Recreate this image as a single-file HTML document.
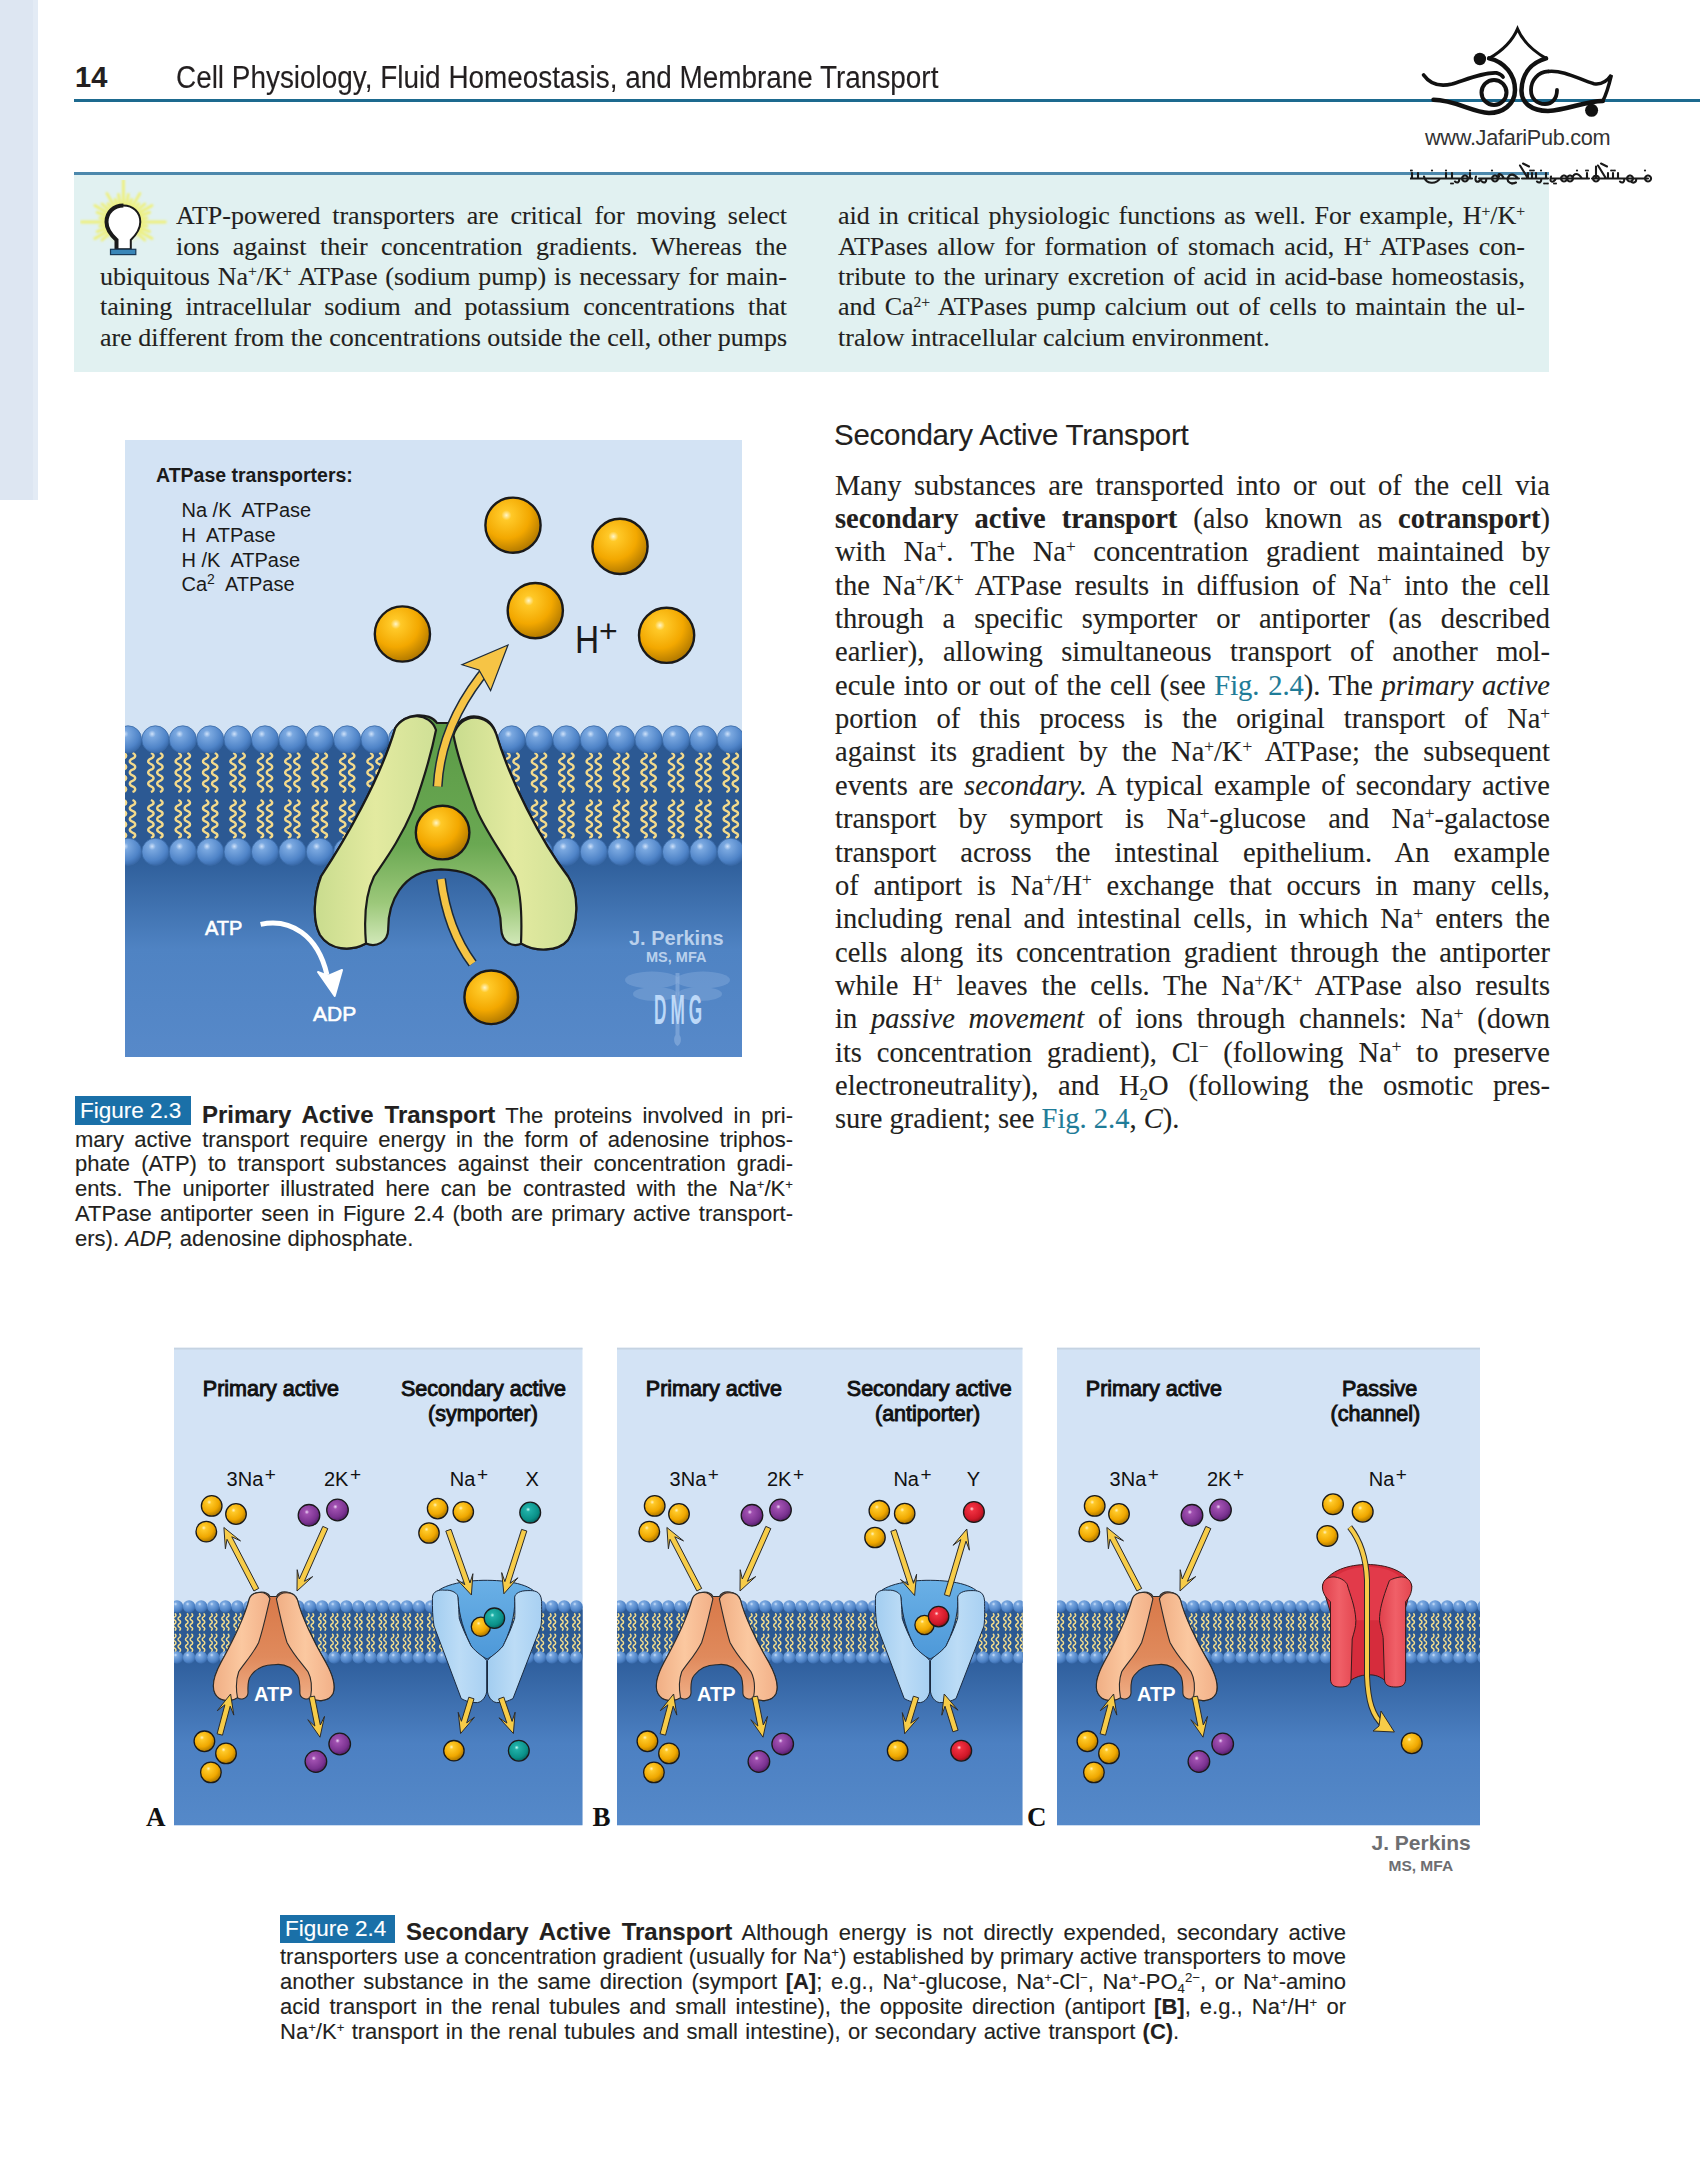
<!DOCTYPE html>
<html><head><meta charset="utf-8"><title>Cell Physiology p14</title>
<style>
html,body{margin:0;padding:0}
body{width:1700px;height:2175px;position:relative;overflow:hidden;background:#fff;color:#231f20}
.a{position:absolute;white-space:nowrap}
.sf{font-family:"Liberation Serif",serif;-webkit-text-stroke-width:0.12px}
.ss{font-family:"Liberation Sans",sans-serif;-webkit-text-stroke-width:0.12px}
.jl{position:absolute;text-align:justify;text-align-last:justify;white-space:normal;overflow:visible}
sup,sub{font-size:0.6em;line-height:0;position:relative;vertical-align:baseline}
sup{top:-0.55em}
sub{top:0.3em}
.link{color:#1f7c98}
.figlab{background:#1a70a8;color:#fff;padding:0 5px}
</style></head><body>

<!-- left strip -->
<div class="a" style="left:0;top:0;width:33px;height:500px;background:#dde6f2"></div>
<div class="a" style="left:33px;top:0;width:5px;height:500px;background:#e3ebf5"></div>

<!-- header -->
<div class="a ss" id="pgnum" style="left:75px;top:61px;font-size:29px;font-weight:bold;line-height:32px">14</div>
<div class="a ss" id="hdr" style="left:176px;top:60.5px;font-size:31px;line-height:34px;transform:scaleX(0.9);transform-origin:0 0">Cell Physiology, Fluid Homeostasis, and Membrane Transport</div>
<div class="a" style="left:74px;top:99px;width:1626px;height:3px;background:#1d6a8f"></div>

<!-- callout box -->
<div class="a" style="left:74px;top:172px;width:1475px;height:200px;background:#e1f1f1"></div>
<div class="a" style="left:74px;top:172px;width:1475px;height:3px;background:#4c88ac"></div>

<div id="callout" class="sf" style="position:absolute;left:0;top:0;font-size:26px">
<div class="jl" style="left:176px;top:201.1px;width:611px;line-height:30px">ATP-powered transporters are critical for moving select</div>
<div class="jl" style="left:176px;top:231.5px;width:611px;line-height:30px">ions against their concentration gradients. Whereas the</div>
<div class="jl" style="left:100px;top:262px;width:687px;line-height:30px">ubiquitous Na<sup>+</sup>/K<sup>+</sup> ATPase (sodium pump) is necessary for main-</div>
<div class="jl" style="left:100px;top:292.4px;width:687px;line-height:30px">taining intracellular sodium and potassium concentrations that</div>
<div class="jl" style="left:100px;top:322.9px;width:687px;line-height:30px">are different from the concentrations outside the cell, other pumps</div>
<div class="jl" style="left:838px;top:201.1px;width:687px;line-height:30px">aid in critical physiologic functions as well. For example, H<sup>+</sup>/K<sup>+</sup></div>
<div class="jl" style="left:838px;top:231.5px;width:687px;line-height:30px">ATPases allow for formation of stomach acid, H<sup>+</sup> ATPases con-</div>
<div class="jl" style="left:838px;top:262px;width:687px;line-height:30px">tribute to the urinary excretion of acid in acid-base homeostasis,</div>
<div class="jl" style="left:838px;top:292.4px;width:687px;line-height:30px">and Ca<sup>2+</sup> ATPases pump calcium out of cells to maintain the ul-</div>
<div class="a" style="left:838px;top:322.9px;line-height:30px">tralow intracellular calcium environment.</div>
</div>

<!-- section heading -->
<div class="a ss" id="sec" style="left:834px;top:418px;font-size:29.5px;line-height:33px;letter-spacing:-0.24px">Secondary Active Transport</div>

<div id="body" class="sf" style="position:absolute;left:0;top:-1px;font-size:28.5px">
<div class="jl" style="left:835px;top:469.5px;width:715px;line-height:33px">Many substances are transported into or out of the cell via</div>
<div class="jl" style="left:835px;top:502.9px;width:715px;line-height:33px"><b>secondary active transport</b> (also known as <b>cotransport</b>)</div>
<div class="jl" style="left:835px;top:536.2px;width:715px;line-height:33px">with Na<sup>+</sup>. The Na<sup>+</sup> concentration gradient maintained by</div>
<div class="jl" style="left:835px;top:569.6px;width:715px;line-height:33px">the Na<sup>+</sup>/K<sup>+</sup> ATPase results in diffusion of Na<sup>+</sup> into the cell</div>
<div class="jl" style="left:835px;top:602.9px;width:715px;line-height:33px">through a specific symporter or antiporter (as described</div>
<div class="jl" style="left:835px;top:636.3px;width:715px;line-height:33px">earlier), allowing simultaneous transport of another mol-</div>
<div class="jl" style="left:835px;top:669.7px;width:715px;line-height:33px">ecule into or out of the cell (see <span class="link">Fig. 2.4</span>). The <i>primary active</i></div>
<div class="jl" style="left:835px;top:703.0px;width:715px;line-height:33px">portion of this process is the original transport of Na<sup>+</sup></div>
<div class="jl" style="left:835px;top:736.4px;width:715px;line-height:33px">against its gradient by the Na<sup>+</sup>/K<sup>+</sup> ATPase; the subsequent</div>
<div class="jl" style="left:835px;top:769.7px;width:715px;line-height:33px">events are <i>secondary.</i> A typical example of secondary active</div>
<div class="jl" style="left:835px;top:803.1px;width:715px;line-height:33px">transport by symport is Na<sup>+</sup>-glucose and Na<sup>+</sup>-galactose</div>
<div class="jl" style="left:835px;top:836.5px;width:715px;line-height:33px">transport across the intestinal epithelium. An example</div>
<div class="jl" style="left:835px;top:869.8px;width:715px;line-height:33px">of antiport is Na<sup>+</sup>/H<sup>+</sup> exchange that occurs in many cells,</div>
<div class="jl" style="left:835px;top:903.2px;width:715px;line-height:33px">including renal and intestinal cells, in which Na<sup>+</sup> enters the</div>
<div class="jl" style="left:835px;top:936.5px;width:715px;line-height:33px">cells along its concentration gradient through the antiporter</div>
<div class="jl" style="left:835px;top:969.9px;width:715px;line-height:33px">while H<sup>+</sup> leaves the cells. The Na<sup>+</sup>/K<sup>+</sup> ATPase also results</div>
<div class="jl" style="left:835px;top:1003.3px;width:715px;line-height:33px">in <i>passive movement</i> of ions through channels: Na<sup>+</sup> (down</div>
<div class="jl" style="left:835px;top:1036.6px;width:715px;line-height:33px">its concentration gradient), Cl<sup>&minus;</sup> (following Na<sup>+</sup> to preserve</div>
<div class="jl" style="left:835px;top:1070.0px;width:715px;line-height:33px">electroneutrality), and H<sub>2</sub>O (following the osmotic pres-</div>
<div class="a" style="left:835px;top:1103.3px;line-height:33px">sure gradient; see <span class="link">Fig. 2.4</span>, <i>C</i>).</div>
</div>

<!-- Figure 2.3 caption -->
<div id="cap23" class="ss" style="position:absolute;left:0;top:-1px;font-size:22px">
<div class="a" style="left:75px;top:1097px;width:116px;height:29px;background:#1a70a8"></div>
<div class="a" style="left:80px;top:1099px;line-height:25px;color:#fff;font-size:22.5px">Figure 2.3</div>
<div class="jl" style="left:202px;top:1102.5px;width:591px;line-height:25px"><b style="font-size:24px">Primary Active Transport</b> The proteins involved in pri-</div>
<div class="jl" style="left:75px;top:1127.5px;width:718px;line-height:25px">mary active transport require energy in the form of adenosine triphos-</div>
<div class="jl" style="left:75px;top:1152.3px;width:718px;line-height:25px">phate (ATP) to transport substances against their concentration gradi-</div>
<div class="jl" style="left:75px;top:1177.2px;width:718px;line-height:25px">ents. The uniporter illustrated here can be contrasted with the Na<sup>+</sup>/K<sup>+</sup></div>
<div class="jl" style="left:75px;top:1202px;width:718px;line-height:25px">ATPase antiporter seen in Figure 2.4 (both are primary active transport-</div>
<div class="a" style="left:75px;top:1226.9px;line-height:25px">ers). <i>ADP,</i> adenosine diphosphate.</div>
</div>

<!-- Figure 2.4 caption -->
<div id="cap24" class="ss" style="position:absolute;left:0;top:-1.5px;font-size:22px">
<div class="a" style="left:280px;top:1916px;width:115px;height:28px;background:#1a70a8"></div>
<div class="a" style="left:285px;top:1917.5px;line-height:25px;color:#fff;font-size:22.5px">Figure 2.4</div>
<div class="jl" style="left:406px;top:1920.5px;width:940px;line-height:25px"><b style="font-size:24px">Secondary Active Transport</b> Although energy is not directly expended, secondary active</div>
<div class="jl" style="left:280px;top:1945.5px;width:1066px;line-height:25px">transporters use a concentration gradient (usually for Na<sup>+</sup>) established by primary active transporters to move</div>
<div class="jl" style="left:280px;top:1970.5px;width:1066px;line-height:25px">another substance in the same direction (symport <b>[A]</b>; e.g., Na<sup>+</sup>-glucose, Na<sup>+</sup>-Cl<sup>&minus;</sup>, Na<sup>+</sup>-PO<sub>4</sub><sup>2&minus;</sup>, or Na<sup>+</sup>-amino</div>
<div class="jl" style="left:280px;top:1995.5px;width:1066px;line-height:25px">acid transport in the renal tubules and small intestine), the opposite direction (antiport <b>[B]</b>, e.g., Na<sup>+</sup>/H<sup>+</sup> or</div>
<div class="a" style="left:280px;top:2020.5px;line-height:25px;word-spacing:1.2px">Na<sup>+</sup>/K<sup>+</sup> transport in the renal tubules and small intestine), or secondary active transport <b>(C)</b>.</div>
</div>

<!--BEGIN fig23-->
<svg class="a" style="left:125px;top:440px" width="617" height="617" viewBox="0 0 617 617">
<defs>
<radialGradient id="gball" cx="0.38" cy="0.32" r="0.7">
<stop offset="0" stop-color="#fff6c8"/><stop offset="0.13" stop-color="#ffc928"/><stop offset="0.6" stop-color="#f3a800"/><stop offset="1" stop-color="#b07800"/></radialGradient>
<radialGradient id="ghead" cx="0.38" cy="0.3" r="0.75">
<stop offset="0" stop-color="#cfe2fa"/><stop offset="0.18" stop-color="#7aa8e0"/><stop offset="0.7" stop-color="#4f84c8"/><stop offset="1" stop-color="#3464a4"/></radialGradient>
<linearGradient id="gcyto" x1="0" y1="0" x2="0" y2="1">
<stop offset="0.39" stop-color="#30609c"/><stop offset="0.66" stop-color="#4f83c3"/><stop offset="1" stop-color="#5789c9"/></linearGradient>
<linearGradient id="globe" x1="0" y1="0" x2="1" y2="0">
<stop offset="0" stop-color="#c9dc8e"/><stop offset="0.5" stop-color="#e3eaa0"/><stop offset="1" stop-color="#cfe096"/></linearGradient>
<linearGradient id="gmid" x1="0" y1="0" x2="0" y2="1">
<stop offset="0" stop-color="#5a9a46"/><stop offset="0.55" stop-color="#6aa852"/><stop offset="0.8" stop-color="#9cc87a"/><stop offset="1" stop-color="#d8ecc0"/></linearGradient>
</defs>
<rect x="0" y="0" width="617" height="617" fill="#d3e3f4"/>
<rect x="0" y="300" width="617" height="317" fill="url(#gcyto)"/>
<rect x="0" y="299" width="617" height="113" fill="#2c5993"/>
<path d="M-28.9,313.0 C-25.3,314.4 -25.3,317.2 -28.9,318.6 C-32.5,320.0 -32.5,322.8 -28.9,324.1 C-25.3,325.5 -25.3,328.3 -28.9,329.7 C-32.5,331.1 -32.5,333.9 -28.9,335.3 C-25.3,336.7 -25.3,339.5 -28.9,340.9 C-32.5,342.2 -32.5,345.0 -28.9,346.4 C-25.3,347.8 -25.3,350.6 -28.9,352.0 M-28.9,360.0 C-25.3,361.4 -25.3,364.1 -28.9,365.4 C-32.5,366.8 -32.5,369.5 -28.9,370.9 C-25.3,372.2 -25.3,374.9 -28.9,376.3 C-32.5,377.6 -32.5,380.4 -28.9,381.7 C-25.3,383.1 -25.3,385.8 -28.9,387.1 C-32.5,388.5 -32.5,391.2 -28.9,392.6 C-25.3,393.9 -25.3,396.6 -28.9,398.0 M-19.9,313.0 C-16.3,314.4 -16.3,317.2 -19.9,318.6 C-23.5,320.0 -23.5,322.8 -19.9,324.1 C-16.3,325.5 -16.3,328.3 -19.9,329.7 C-23.5,331.1 -23.5,333.9 -19.9,335.3 C-16.3,336.7 -16.3,339.5 -19.9,340.9 C-23.5,342.2 -23.5,345.0 -19.9,346.4 C-16.3,347.8 -16.3,350.6 -19.9,352.0 M-19.9,360.0 C-16.3,361.4 -16.3,364.1 -19.9,365.4 C-23.5,366.8 -23.5,369.5 -19.9,370.9 C-16.3,372.2 -16.3,374.9 -19.9,376.3 C-23.5,377.6 -23.5,380.4 -19.9,381.7 C-16.3,383.1 -16.3,385.8 -19.9,387.1 C-23.5,388.5 -23.5,391.2 -19.9,392.6 C-16.3,393.9 -16.3,396.6 -19.9,398.0 M-1.5,313.0 C2.1,314.4 2.1,317.2 -1.5,318.6 C-5.1,320.0 -5.1,322.8 -1.5,324.1 C2.1,325.5 2.1,328.3 -1.5,329.7 C-5.1,331.1 -5.1,333.9 -1.5,335.3 C2.1,336.7 2.1,339.5 -1.5,340.9 C-5.1,342.2 -5.1,345.0 -1.5,346.4 C2.1,347.8 2.1,350.6 -1.5,352.0 M-1.5,360.0 C2.1,361.4 2.1,364.1 -1.5,365.4 C-5.1,366.8 -5.1,369.5 -1.5,370.9 C2.1,372.2 2.1,374.9 -1.5,376.3 C-5.1,377.6 -5.1,380.4 -1.5,381.7 C2.1,383.1 2.1,385.8 -1.5,387.1 C-5.1,388.5 -5.1,391.2 -1.5,392.6 C2.1,393.9 2.1,396.6 -1.5,398.0 M7.5,313.0 C11.1,314.4 11.1,317.2 7.5,318.6 C3.9,320.0 3.9,322.8 7.5,324.1 C11.1,325.5 11.1,328.3 7.5,329.7 C3.9,331.1 3.9,333.9 7.5,335.3 C11.1,336.7 11.1,339.5 7.5,340.9 C3.9,342.2 3.9,345.0 7.5,346.4 C11.1,347.8 11.1,350.6 7.5,352.0 M7.5,360.0 C11.1,361.4 11.1,364.1 7.5,365.4 C3.9,366.8 3.9,369.5 7.5,370.9 C11.1,372.2 11.1,374.9 7.5,376.3 C3.9,377.6 3.9,380.4 7.5,381.7 C11.1,383.1 11.1,385.8 7.5,387.1 C3.9,388.5 3.9,391.2 7.5,392.6 C11.1,393.9 11.1,396.6 7.5,398.0 M25.9,313.0 C29.5,314.4 29.5,317.2 25.9,318.6 C22.3,320.0 22.3,322.8 25.9,324.1 C29.5,325.5 29.5,328.3 25.9,329.7 C22.3,331.1 22.3,333.9 25.9,335.3 C29.5,336.7 29.5,339.5 25.9,340.9 C22.3,342.2 22.3,345.0 25.9,346.4 C29.5,347.8 29.5,350.6 25.9,352.0 M25.9,360.0 C29.5,361.4 29.5,364.1 25.9,365.4 C22.3,366.8 22.3,369.5 25.9,370.9 C29.5,372.2 29.5,374.9 25.9,376.3 C22.3,377.6 22.3,380.4 25.9,381.7 C29.5,383.1 29.5,385.8 25.9,387.1 C22.3,388.5 22.3,391.2 25.9,392.6 C29.5,393.9 29.5,396.6 25.9,398.0 M34.9,313.0 C38.5,314.4 38.5,317.2 34.9,318.6 C31.3,320.0 31.3,322.8 34.9,324.1 C38.5,325.5 38.5,328.3 34.9,329.7 C31.3,331.1 31.3,333.9 34.9,335.3 C38.5,336.7 38.5,339.5 34.9,340.9 C31.3,342.2 31.3,345.0 34.9,346.4 C38.5,347.8 38.5,350.6 34.9,352.0 M34.9,360.0 C38.5,361.4 38.5,364.1 34.9,365.4 C31.3,366.8 31.3,369.5 34.9,370.9 C38.5,372.2 38.5,374.9 34.9,376.3 C31.3,377.6 31.3,380.4 34.9,381.7 C38.5,383.1 38.5,385.8 34.9,387.1 C31.3,388.5 31.3,391.2 34.9,392.6 C38.5,393.9 38.5,396.6 34.9,398.0 M53.3,313.0 C56.9,314.4 56.9,317.2 53.3,318.6 C49.7,320.0 49.7,322.8 53.3,324.1 C56.9,325.5 56.9,328.3 53.3,329.7 C49.7,331.1 49.7,333.9 53.3,335.3 C56.9,336.7 56.9,339.5 53.3,340.9 C49.7,342.2 49.7,345.0 53.3,346.4 C56.9,347.8 56.9,350.6 53.3,352.0 M53.3,360.0 C56.9,361.4 56.9,364.1 53.3,365.4 C49.7,366.8 49.7,369.5 53.3,370.9 C56.9,372.2 56.9,374.9 53.3,376.3 C49.7,377.6 49.7,380.4 53.3,381.7 C56.9,383.1 56.9,385.8 53.3,387.1 C49.7,388.5 49.7,391.2 53.3,392.6 C56.9,393.9 56.9,396.6 53.3,398.0 M62.3,313.0 C65.9,314.4 65.9,317.2 62.3,318.6 C58.7,320.0 58.7,322.8 62.3,324.1 C65.9,325.5 65.9,328.3 62.3,329.7 C58.7,331.1 58.7,333.9 62.3,335.3 C65.9,336.7 65.9,339.5 62.3,340.9 C58.7,342.2 58.7,345.0 62.3,346.4 C65.9,347.8 65.9,350.6 62.3,352.0 M62.3,360.0 C65.9,361.4 65.9,364.1 62.3,365.4 C58.7,366.8 58.7,369.5 62.3,370.9 C65.9,372.2 65.9,374.9 62.3,376.3 C58.7,377.6 58.7,380.4 62.3,381.7 C65.9,383.1 65.9,385.8 62.3,387.1 C58.7,388.5 58.7,391.2 62.3,392.6 C65.9,393.9 65.9,396.6 62.3,398.0 M80.7,313.0 C84.3,314.4 84.3,317.2 80.7,318.6 C77.1,320.0 77.1,322.8 80.7,324.1 C84.3,325.5 84.3,328.3 80.7,329.7 C77.1,331.1 77.1,333.9 80.7,335.3 C84.3,336.7 84.3,339.5 80.7,340.9 C77.1,342.2 77.1,345.0 80.7,346.4 C84.3,347.8 84.3,350.6 80.7,352.0 M80.7,360.0 C84.3,361.4 84.3,364.1 80.7,365.4 C77.1,366.8 77.1,369.5 80.7,370.9 C84.3,372.2 84.3,374.9 80.7,376.3 C77.1,377.6 77.1,380.4 80.7,381.7 C84.3,383.1 84.3,385.8 80.7,387.1 C77.1,388.5 77.1,391.2 80.7,392.6 C84.3,393.9 84.3,396.6 80.7,398.0 M89.7,313.0 C93.3,314.4 93.3,317.2 89.7,318.6 C86.1,320.0 86.1,322.8 89.7,324.1 C93.3,325.5 93.3,328.3 89.7,329.7 C86.1,331.1 86.1,333.9 89.7,335.3 C93.3,336.7 93.3,339.5 89.7,340.9 C86.1,342.2 86.1,345.0 89.7,346.4 C93.3,347.8 93.3,350.6 89.7,352.0 M89.7,360.0 C93.3,361.4 93.3,364.1 89.7,365.4 C86.1,366.8 86.1,369.5 89.7,370.9 C93.3,372.2 93.3,374.9 89.7,376.3 C86.1,377.6 86.1,380.4 89.7,381.7 C93.3,383.1 93.3,385.8 89.7,387.1 C86.1,388.5 86.1,391.2 89.7,392.6 C93.3,393.9 93.3,396.6 89.7,398.0 M108.1,313.0 C111.7,314.4 111.7,317.2 108.1,318.6 C104.5,320.0 104.5,322.8 108.1,324.1 C111.7,325.5 111.7,328.3 108.1,329.7 C104.5,331.1 104.5,333.9 108.1,335.3 C111.7,336.7 111.7,339.5 108.1,340.9 C104.5,342.2 104.5,345.0 108.1,346.4 C111.7,347.8 111.7,350.6 108.1,352.0 M108.1,360.0 C111.7,361.4 111.7,364.1 108.1,365.4 C104.5,366.8 104.5,369.5 108.1,370.9 C111.7,372.2 111.7,374.9 108.1,376.3 C104.5,377.6 104.5,380.4 108.1,381.7 C111.7,383.1 111.7,385.8 108.1,387.1 C104.5,388.5 104.5,391.2 108.1,392.6 C111.7,393.9 111.7,396.6 108.1,398.0 M117.1,313.0 C120.7,314.4 120.7,317.2 117.1,318.6 C113.5,320.0 113.5,322.8 117.1,324.1 C120.7,325.5 120.7,328.3 117.1,329.7 C113.5,331.1 113.5,333.9 117.1,335.3 C120.7,336.7 120.7,339.5 117.1,340.9 C113.5,342.2 113.5,345.0 117.1,346.4 C120.7,347.8 120.7,350.6 117.1,352.0 M117.1,360.0 C120.7,361.4 120.7,364.1 117.1,365.4 C113.5,366.8 113.5,369.5 117.1,370.9 C120.7,372.2 120.7,374.9 117.1,376.3 C113.5,377.6 113.5,380.4 117.1,381.7 C120.7,383.1 120.7,385.8 117.1,387.1 C113.5,388.5 113.5,391.2 117.1,392.6 C120.7,393.9 120.7,396.6 117.1,398.0 M135.5,313.0 C139.1,314.4 139.1,317.2 135.5,318.6 C131.9,320.0 131.9,322.8 135.5,324.1 C139.1,325.5 139.1,328.3 135.5,329.7 C131.9,331.1 131.9,333.9 135.5,335.3 C139.1,336.7 139.1,339.5 135.5,340.9 C131.9,342.2 131.9,345.0 135.5,346.4 C139.1,347.8 139.1,350.6 135.5,352.0 M135.5,360.0 C139.1,361.4 139.1,364.1 135.5,365.4 C131.9,366.8 131.9,369.5 135.5,370.9 C139.1,372.2 139.1,374.9 135.5,376.3 C131.9,377.6 131.9,380.4 135.5,381.7 C139.1,383.1 139.1,385.8 135.5,387.1 C131.9,388.5 131.9,391.2 135.5,392.6 C139.1,393.9 139.1,396.6 135.5,398.0 M144.5,313.0 C148.1,314.4 148.1,317.2 144.5,318.6 C140.9,320.0 140.9,322.8 144.5,324.1 C148.1,325.5 148.1,328.3 144.5,329.7 C140.9,331.1 140.9,333.9 144.5,335.3 C148.1,336.7 148.1,339.5 144.5,340.9 C140.9,342.2 140.9,345.0 144.5,346.4 C148.1,347.8 148.1,350.6 144.5,352.0 M144.5,360.0 C148.1,361.4 148.1,364.1 144.5,365.4 C140.9,366.8 140.9,369.5 144.5,370.9 C148.1,372.2 148.1,374.9 144.5,376.3 C140.9,377.6 140.9,380.4 144.5,381.7 C148.1,383.1 148.1,385.8 144.5,387.1 C140.9,388.5 140.9,391.2 144.5,392.6 C148.1,393.9 148.1,396.6 144.5,398.0 M162.9,313.0 C166.5,314.4 166.5,317.2 162.9,318.6 C159.3,320.0 159.3,322.8 162.9,324.1 C166.5,325.5 166.5,328.3 162.9,329.7 C159.3,331.1 159.3,333.9 162.9,335.3 C166.5,336.7 166.5,339.5 162.9,340.9 C159.3,342.2 159.3,345.0 162.9,346.4 C166.5,347.8 166.5,350.6 162.9,352.0 M162.9,360.0 C166.5,361.4 166.5,364.1 162.9,365.4 C159.3,366.8 159.3,369.5 162.9,370.9 C166.5,372.2 166.5,374.9 162.9,376.3 C159.3,377.6 159.3,380.4 162.9,381.7 C166.5,383.1 166.5,385.8 162.9,387.1 C159.3,388.5 159.3,391.2 162.9,392.6 C166.5,393.9 166.5,396.6 162.9,398.0 M171.9,313.0 C175.5,314.4 175.5,317.2 171.9,318.6 C168.3,320.0 168.3,322.8 171.9,324.1 C175.5,325.5 175.5,328.3 171.9,329.7 C168.3,331.1 168.3,333.9 171.9,335.3 C175.5,336.7 175.5,339.5 171.9,340.9 C168.3,342.2 168.3,345.0 171.9,346.4 C175.5,347.8 175.5,350.6 171.9,352.0 M171.9,360.0 C175.5,361.4 175.5,364.1 171.9,365.4 C168.3,366.8 168.3,369.5 171.9,370.9 C175.5,372.2 175.5,374.9 171.9,376.3 C168.3,377.6 168.3,380.4 171.9,381.7 C175.5,383.1 175.5,385.8 171.9,387.1 C168.3,388.5 168.3,391.2 171.9,392.6 C175.5,393.9 175.5,396.6 171.9,398.0 M190.3,313.0 C193.9,314.4 193.9,317.2 190.3,318.6 C186.7,320.0 186.7,322.8 190.3,324.1 C193.9,325.5 193.9,328.3 190.3,329.7 C186.7,331.1 186.7,333.9 190.3,335.3 C193.9,336.7 193.9,339.5 190.3,340.9 C186.7,342.2 186.7,345.0 190.3,346.4 C193.9,347.8 193.9,350.6 190.3,352.0 M190.3,360.0 C193.9,361.4 193.9,364.1 190.3,365.4 C186.7,366.8 186.7,369.5 190.3,370.9 C193.9,372.2 193.9,374.9 190.3,376.3 C186.7,377.6 186.7,380.4 190.3,381.7 C193.9,383.1 193.9,385.8 190.3,387.1 C186.7,388.5 186.7,391.2 190.3,392.6 C193.9,393.9 193.9,396.6 190.3,398.0 M199.3,313.0 C202.9,314.4 202.9,317.2 199.3,318.6 C195.7,320.0 195.7,322.8 199.3,324.1 C202.9,325.5 202.9,328.3 199.3,329.7 C195.7,331.1 195.7,333.9 199.3,335.3 C202.9,336.7 202.9,339.5 199.3,340.9 C195.7,342.2 195.7,345.0 199.3,346.4 C202.9,347.8 202.9,350.6 199.3,352.0 M199.3,360.0 C202.9,361.4 202.9,364.1 199.3,365.4 C195.7,366.8 195.7,369.5 199.3,370.9 C202.9,372.2 202.9,374.9 199.3,376.3 C195.7,377.6 195.7,380.4 199.3,381.7 C202.9,383.1 202.9,385.8 199.3,387.1 C195.7,388.5 195.7,391.2 199.3,392.6 C202.9,393.9 202.9,396.6 199.3,398.0 M217.7,313.0 C221.3,314.4 221.3,317.2 217.7,318.6 C214.1,320.0 214.1,322.8 217.7,324.1 C221.3,325.5 221.3,328.3 217.7,329.7 C214.1,331.1 214.1,333.9 217.7,335.3 C221.3,336.7 221.3,339.5 217.7,340.9 C214.1,342.2 214.1,345.0 217.7,346.4 C221.3,347.8 221.3,350.6 217.7,352.0 M217.7,360.0 C221.3,361.4 221.3,364.1 217.7,365.4 C214.1,366.8 214.1,369.5 217.7,370.9 C221.3,372.2 221.3,374.9 217.7,376.3 C214.1,377.6 214.1,380.4 217.7,381.7 C221.3,383.1 221.3,385.8 217.7,387.1 C214.1,388.5 214.1,391.2 217.7,392.6 C221.3,393.9 221.3,396.6 217.7,398.0 M226.7,313.0 C230.3,314.4 230.3,317.2 226.7,318.6 C223.1,320.0 223.1,322.8 226.7,324.1 C230.3,325.5 230.3,328.3 226.7,329.7 C223.1,331.1 223.1,333.9 226.7,335.3 C230.3,336.7 230.3,339.5 226.7,340.9 C223.1,342.2 223.1,345.0 226.7,346.4 C230.3,347.8 230.3,350.6 226.7,352.0 M226.7,360.0 C230.3,361.4 230.3,364.1 226.7,365.4 C223.1,366.8 223.1,369.5 226.7,370.9 C230.3,372.2 230.3,374.9 226.7,376.3 C223.1,377.6 223.1,380.4 226.7,381.7 C230.3,383.1 230.3,385.8 226.7,387.1 C223.1,388.5 223.1,391.2 226.7,392.6 C230.3,393.9 230.3,396.6 226.7,398.0 M245.1,313.0 C248.7,314.4 248.7,317.2 245.1,318.6 C241.5,320.0 241.5,322.8 245.1,324.1 C248.7,325.5 248.7,328.3 245.1,329.7 C241.5,331.1 241.5,333.9 245.1,335.3 C248.7,336.7 248.7,339.5 245.1,340.9 C241.5,342.2 241.5,345.0 245.1,346.4 C248.7,347.8 248.7,350.6 245.1,352.0 M245.1,360.0 C248.7,361.4 248.7,364.1 245.1,365.4 C241.5,366.8 241.5,369.5 245.1,370.9 C248.7,372.2 248.7,374.9 245.1,376.3 C241.5,377.6 241.5,380.4 245.1,381.7 C248.7,383.1 248.7,385.8 245.1,387.1 C241.5,388.5 241.5,391.2 245.1,392.6 C248.7,393.9 248.7,396.6 245.1,398.0 M254.1,313.0 C257.7,314.4 257.7,317.2 254.1,318.6 C250.5,320.0 250.5,322.8 254.1,324.1 C257.7,325.5 257.7,328.3 254.1,329.7 C250.5,331.1 250.5,333.9 254.1,335.3 C257.7,336.7 257.7,339.5 254.1,340.9 C250.5,342.2 250.5,345.0 254.1,346.4 C257.7,347.8 257.7,350.6 254.1,352.0 M254.1,360.0 C257.7,361.4 257.7,364.1 254.1,365.4 C250.5,366.8 250.5,369.5 254.1,370.9 C257.7,372.2 257.7,374.9 254.1,376.3 C250.5,377.6 250.5,380.4 254.1,381.7 C257.7,383.1 257.7,385.8 254.1,387.1 C250.5,388.5 250.5,391.2 254.1,392.6 C257.7,393.9 257.7,396.6 254.1,398.0 M272.5,313.0 C276.1,314.4 276.1,317.2 272.5,318.6 C268.9,320.0 268.9,322.8 272.5,324.1 C276.1,325.5 276.1,328.3 272.5,329.7 C268.9,331.1 268.9,333.9 272.5,335.3 C276.1,336.7 276.1,339.5 272.5,340.9 C268.9,342.2 268.9,345.0 272.5,346.4 C276.1,347.8 276.1,350.6 272.5,352.0 M272.5,360.0 C276.1,361.4 276.1,364.1 272.5,365.4 C268.9,366.8 268.9,369.5 272.5,370.9 C276.1,372.2 276.1,374.9 272.5,376.3 C268.9,377.6 268.9,380.4 272.5,381.7 C276.1,383.1 276.1,385.8 272.5,387.1 C268.9,388.5 268.9,391.2 272.5,392.6 C276.1,393.9 276.1,396.6 272.5,398.0 M281.5,313.0 C285.1,314.4 285.1,317.2 281.5,318.6 C277.9,320.0 277.9,322.8 281.5,324.1 C285.1,325.5 285.1,328.3 281.5,329.7 C277.9,331.1 277.9,333.9 281.5,335.3 C285.1,336.7 285.1,339.5 281.5,340.9 C277.9,342.2 277.9,345.0 281.5,346.4 C285.1,347.8 285.1,350.6 281.5,352.0 M281.5,360.0 C285.1,361.4 285.1,364.1 281.5,365.4 C277.9,366.8 277.9,369.5 281.5,370.9 C285.1,372.2 285.1,374.9 281.5,376.3 C277.9,377.6 277.9,380.4 281.5,381.7 C285.1,383.1 285.1,385.8 281.5,387.1 C277.9,388.5 277.9,391.2 281.5,392.6 C285.1,393.9 285.1,396.6 281.5,398.0 M299.9,313.0 C303.5,314.4 303.5,317.2 299.9,318.6 C296.3,320.0 296.3,322.8 299.9,324.1 C303.5,325.5 303.5,328.3 299.9,329.7 C296.3,331.1 296.3,333.9 299.9,335.3 C303.5,336.7 303.5,339.5 299.9,340.9 C296.3,342.2 296.3,345.0 299.9,346.4 C303.5,347.8 303.5,350.6 299.9,352.0 M299.9,360.0 C303.5,361.4 303.5,364.1 299.9,365.4 C296.3,366.8 296.3,369.5 299.9,370.9 C303.5,372.2 303.5,374.9 299.9,376.3 C296.3,377.6 296.3,380.4 299.9,381.7 C303.5,383.1 303.5,385.8 299.9,387.1 C296.3,388.5 296.3,391.2 299.9,392.6 C303.5,393.9 303.5,396.6 299.9,398.0 M308.9,313.0 C312.5,314.4 312.5,317.2 308.9,318.6 C305.3,320.0 305.3,322.8 308.9,324.1 C312.5,325.5 312.5,328.3 308.9,329.7 C305.3,331.1 305.3,333.9 308.9,335.3 C312.5,336.7 312.5,339.5 308.9,340.9 C305.3,342.2 305.3,345.0 308.9,346.4 C312.5,347.8 312.5,350.6 308.9,352.0 M308.9,360.0 C312.5,361.4 312.5,364.1 308.9,365.4 C305.3,366.8 305.3,369.5 308.9,370.9 C312.5,372.2 312.5,374.9 308.9,376.3 C305.3,377.6 305.3,380.4 308.9,381.7 C312.5,383.1 312.5,385.8 308.9,387.1 C305.3,388.5 305.3,391.2 308.9,392.6 C312.5,393.9 312.5,396.6 308.9,398.0 M327.3,313.0 C330.9,314.4 330.9,317.2 327.3,318.6 C323.7,320.0 323.7,322.8 327.3,324.1 C330.9,325.5 330.9,328.3 327.3,329.7 C323.7,331.1 323.7,333.9 327.3,335.3 C330.9,336.7 330.9,339.5 327.3,340.9 C323.7,342.2 323.7,345.0 327.3,346.4 C330.9,347.8 330.9,350.6 327.3,352.0 M327.3,360.0 C330.9,361.4 330.9,364.1 327.3,365.4 C323.7,366.8 323.7,369.5 327.3,370.9 C330.9,372.2 330.9,374.9 327.3,376.3 C323.7,377.6 323.7,380.4 327.3,381.7 C330.9,383.1 330.9,385.8 327.3,387.1 C323.7,388.5 323.7,391.2 327.3,392.6 C330.9,393.9 330.9,396.6 327.3,398.0 M336.3,313.0 C339.9,314.4 339.9,317.2 336.3,318.6 C332.7,320.0 332.7,322.8 336.3,324.1 C339.9,325.5 339.9,328.3 336.3,329.7 C332.7,331.1 332.7,333.9 336.3,335.3 C339.9,336.7 339.9,339.5 336.3,340.9 C332.7,342.2 332.7,345.0 336.3,346.4 C339.9,347.8 339.9,350.6 336.3,352.0 M336.3,360.0 C339.9,361.4 339.9,364.1 336.3,365.4 C332.7,366.8 332.7,369.5 336.3,370.9 C339.9,372.2 339.9,374.9 336.3,376.3 C332.7,377.6 332.7,380.4 336.3,381.7 C339.9,383.1 339.9,385.8 336.3,387.1 C332.7,388.5 332.7,391.2 336.3,392.6 C339.9,393.9 339.9,396.6 336.3,398.0 M354.7,313.0 C358.3,314.4 358.3,317.2 354.7,318.6 C351.1,320.0 351.1,322.8 354.7,324.1 C358.3,325.5 358.3,328.3 354.7,329.7 C351.1,331.1 351.1,333.9 354.7,335.3 C358.3,336.7 358.3,339.5 354.7,340.9 C351.1,342.2 351.1,345.0 354.7,346.4 C358.3,347.8 358.3,350.6 354.7,352.0 M354.7,360.0 C358.3,361.4 358.3,364.1 354.7,365.4 C351.1,366.8 351.1,369.5 354.7,370.9 C358.3,372.2 358.3,374.9 354.7,376.3 C351.1,377.6 351.1,380.4 354.7,381.7 C358.3,383.1 358.3,385.8 354.7,387.1 C351.1,388.5 351.1,391.2 354.7,392.6 C358.3,393.9 358.3,396.6 354.7,398.0 M363.7,313.0 C367.3,314.4 367.3,317.2 363.7,318.6 C360.1,320.0 360.1,322.8 363.7,324.1 C367.3,325.5 367.3,328.3 363.7,329.7 C360.1,331.1 360.1,333.9 363.7,335.3 C367.3,336.7 367.3,339.5 363.7,340.9 C360.1,342.2 360.1,345.0 363.7,346.4 C367.3,347.8 367.3,350.6 363.7,352.0 M363.7,360.0 C367.3,361.4 367.3,364.1 363.7,365.4 C360.1,366.8 360.1,369.5 363.7,370.9 C367.3,372.2 367.3,374.9 363.7,376.3 C360.1,377.6 360.1,380.4 363.7,381.7 C367.3,383.1 367.3,385.8 363.7,387.1 C360.1,388.5 360.1,391.2 363.7,392.6 C367.3,393.9 367.3,396.6 363.7,398.0 M382.1,313.0 C385.7,314.4 385.7,317.2 382.1,318.6 C378.5,320.0 378.5,322.8 382.1,324.1 C385.7,325.5 385.7,328.3 382.1,329.7 C378.5,331.1 378.5,333.9 382.1,335.3 C385.7,336.7 385.7,339.5 382.1,340.9 C378.5,342.2 378.5,345.0 382.1,346.4 C385.7,347.8 385.7,350.6 382.1,352.0 M382.1,360.0 C385.7,361.4 385.7,364.1 382.1,365.4 C378.5,366.8 378.5,369.5 382.1,370.9 C385.7,372.2 385.7,374.9 382.1,376.3 C378.5,377.6 378.5,380.4 382.1,381.7 C385.7,383.1 385.7,385.8 382.1,387.1 C378.5,388.5 378.5,391.2 382.1,392.6 C385.7,393.9 385.7,396.6 382.1,398.0 M391.1,313.0 C394.7,314.4 394.7,317.2 391.1,318.6 C387.5,320.0 387.5,322.8 391.1,324.1 C394.7,325.5 394.7,328.3 391.1,329.7 C387.5,331.1 387.5,333.9 391.1,335.3 C394.7,336.7 394.7,339.5 391.1,340.9 C387.5,342.2 387.5,345.0 391.1,346.4 C394.7,347.8 394.7,350.6 391.1,352.0 M391.1,360.0 C394.7,361.4 394.7,364.1 391.1,365.4 C387.5,366.8 387.5,369.5 391.1,370.9 C394.7,372.2 394.7,374.9 391.1,376.3 C387.5,377.6 387.5,380.4 391.1,381.7 C394.7,383.1 394.7,385.8 391.1,387.1 C387.5,388.5 387.5,391.2 391.1,392.6 C394.7,393.9 394.7,396.6 391.1,398.0 M409.5,313.0 C413.1,314.4 413.1,317.2 409.5,318.6 C405.9,320.0 405.9,322.8 409.5,324.1 C413.1,325.5 413.1,328.3 409.5,329.7 C405.9,331.1 405.9,333.9 409.5,335.3 C413.1,336.7 413.1,339.5 409.5,340.9 C405.9,342.2 405.9,345.0 409.5,346.4 C413.1,347.8 413.1,350.6 409.5,352.0 M409.5,360.0 C413.1,361.4 413.1,364.1 409.5,365.4 C405.9,366.8 405.9,369.5 409.5,370.9 C413.1,372.2 413.1,374.9 409.5,376.3 C405.9,377.6 405.9,380.4 409.5,381.7 C413.1,383.1 413.1,385.8 409.5,387.1 C405.9,388.5 405.9,391.2 409.5,392.6 C413.1,393.9 413.1,396.6 409.5,398.0 M418.5,313.0 C422.1,314.4 422.1,317.2 418.5,318.6 C414.9,320.0 414.9,322.8 418.5,324.1 C422.1,325.5 422.1,328.3 418.5,329.7 C414.9,331.1 414.9,333.9 418.5,335.3 C422.1,336.7 422.1,339.5 418.5,340.9 C414.9,342.2 414.9,345.0 418.5,346.4 C422.1,347.8 422.1,350.6 418.5,352.0 M418.5,360.0 C422.1,361.4 422.1,364.1 418.5,365.4 C414.9,366.8 414.9,369.5 418.5,370.9 C422.1,372.2 422.1,374.9 418.5,376.3 C414.9,377.6 414.9,380.4 418.5,381.7 C422.1,383.1 422.1,385.8 418.5,387.1 C414.9,388.5 414.9,391.2 418.5,392.6 C422.1,393.9 422.1,396.6 418.5,398.0 M436.9,313.0 C440.5,314.4 440.5,317.2 436.9,318.6 C433.3,320.0 433.3,322.8 436.9,324.1 C440.5,325.5 440.5,328.3 436.9,329.7 C433.3,331.1 433.3,333.9 436.9,335.3 C440.5,336.7 440.5,339.5 436.9,340.9 C433.3,342.2 433.3,345.0 436.9,346.4 C440.5,347.8 440.5,350.6 436.9,352.0 M436.9,360.0 C440.5,361.4 440.5,364.1 436.9,365.4 C433.3,366.8 433.3,369.5 436.9,370.9 C440.5,372.2 440.5,374.9 436.9,376.3 C433.3,377.6 433.3,380.4 436.9,381.7 C440.5,383.1 440.5,385.8 436.9,387.1 C433.3,388.5 433.3,391.2 436.9,392.6 C440.5,393.9 440.5,396.6 436.9,398.0 M445.9,313.0 C449.5,314.4 449.5,317.2 445.9,318.6 C442.3,320.0 442.3,322.8 445.9,324.1 C449.5,325.5 449.5,328.3 445.9,329.7 C442.3,331.1 442.3,333.9 445.9,335.3 C449.5,336.7 449.5,339.5 445.9,340.9 C442.3,342.2 442.3,345.0 445.9,346.4 C449.5,347.8 449.5,350.6 445.9,352.0 M445.9,360.0 C449.5,361.4 449.5,364.1 445.9,365.4 C442.3,366.8 442.3,369.5 445.9,370.9 C449.5,372.2 449.5,374.9 445.9,376.3 C442.3,377.6 442.3,380.4 445.9,381.7 C449.5,383.1 449.5,385.8 445.9,387.1 C442.3,388.5 442.3,391.2 445.9,392.6 C449.5,393.9 449.5,396.6 445.9,398.0 M464.3,313.0 C467.9,314.4 467.9,317.2 464.3,318.6 C460.7,320.0 460.7,322.8 464.3,324.1 C467.9,325.5 467.9,328.3 464.3,329.7 C460.7,331.1 460.7,333.9 464.3,335.3 C467.9,336.7 467.9,339.5 464.3,340.9 C460.7,342.2 460.7,345.0 464.3,346.4 C467.9,347.8 467.9,350.6 464.3,352.0 M464.3,360.0 C467.9,361.4 467.9,364.1 464.3,365.4 C460.7,366.8 460.7,369.5 464.3,370.9 C467.9,372.2 467.9,374.9 464.3,376.3 C460.7,377.6 460.7,380.4 464.3,381.7 C467.9,383.1 467.9,385.8 464.3,387.1 C460.7,388.5 460.7,391.2 464.3,392.6 C467.9,393.9 467.9,396.6 464.3,398.0 M473.3,313.0 C476.9,314.4 476.9,317.2 473.3,318.6 C469.7,320.0 469.7,322.8 473.3,324.1 C476.9,325.5 476.9,328.3 473.3,329.7 C469.7,331.1 469.7,333.9 473.3,335.3 C476.9,336.7 476.9,339.5 473.3,340.9 C469.7,342.2 469.7,345.0 473.3,346.4 C476.9,347.8 476.9,350.6 473.3,352.0 M473.3,360.0 C476.9,361.4 476.9,364.1 473.3,365.4 C469.7,366.8 469.7,369.5 473.3,370.9 C476.9,372.2 476.9,374.9 473.3,376.3 C469.7,377.6 469.7,380.4 473.3,381.7 C476.9,383.1 476.9,385.8 473.3,387.1 C469.7,388.5 469.7,391.2 473.3,392.6 C476.9,393.9 476.9,396.6 473.3,398.0 M491.7,313.0 C495.3,314.4 495.3,317.2 491.7,318.6 C488.1,320.0 488.1,322.8 491.7,324.1 C495.3,325.5 495.3,328.3 491.7,329.7 C488.1,331.1 488.1,333.9 491.7,335.3 C495.3,336.7 495.3,339.5 491.7,340.9 C488.1,342.2 488.1,345.0 491.7,346.4 C495.3,347.8 495.3,350.6 491.7,352.0 M491.7,360.0 C495.3,361.4 495.3,364.1 491.7,365.4 C488.1,366.8 488.1,369.5 491.7,370.9 C495.3,372.2 495.3,374.9 491.7,376.3 C488.1,377.6 488.1,380.4 491.7,381.7 C495.3,383.1 495.3,385.8 491.7,387.1 C488.1,388.5 488.1,391.2 491.7,392.6 C495.3,393.9 495.3,396.6 491.7,398.0 M500.7,313.0 C504.3,314.4 504.3,317.2 500.7,318.6 C497.1,320.0 497.1,322.8 500.7,324.1 C504.3,325.5 504.3,328.3 500.7,329.7 C497.1,331.1 497.1,333.9 500.7,335.3 C504.3,336.7 504.3,339.5 500.7,340.9 C497.1,342.2 497.1,345.0 500.7,346.4 C504.3,347.8 504.3,350.6 500.7,352.0 M500.7,360.0 C504.3,361.4 504.3,364.1 500.7,365.4 C497.1,366.8 497.1,369.5 500.7,370.9 C504.3,372.2 504.3,374.9 500.7,376.3 C497.1,377.6 497.1,380.4 500.7,381.7 C504.3,383.1 504.3,385.8 500.7,387.1 C497.1,388.5 497.1,391.2 500.7,392.6 C504.3,393.9 504.3,396.6 500.7,398.0 M519.1,313.0 C522.7,314.4 522.7,317.2 519.1,318.6 C515.5,320.0 515.5,322.8 519.1,324.1 C522.7,325.5 522.7,328.3 519.1,329.7 C515.5,331.1 515.5,333.9 519.1,335.3 C522.7,336.7 522.7,339.5 519.1,340.9 C515.5,342.2 515.5,345.0 519.1,346.4 C522.7,347.8 522.7,350.6 519.1,352.0 M519.1,360.0 C522.7,361.4 522.7,364.1 519.1,365.4 C515.5,366.8 515.5,369.5 519.1,370.9 C522.7,372.2 522.7,374.9 519.1,376.3 C515.5,377.6 515.5,380.4 519.1,381.7 C522.7,383.1 522.7,385.8 519.1,387.1 C515.5,388.5 515.5,391.2 519.1,392.6 C522.7,393.9 522.7,396.6 519.1,398.0 M528.1,313.0 C531.7,314.4 531.7,317.2 528.1,318.6 C524.5,320.0 524.5,322.8 528.1,324.1 C531.7,325.5 531.7,328.3 528.1,329.7 C524.5,331.1 524.5,333.9 528.1,335.3 C531.7,336.7 531.7,339.5 528.1,340.9 C524.5,342.2 524.5,345.0 528.1,346.4 C531.7,347.8 531.7,350.6 528.1,352.0 M528.1,360.0 C531.7,361.4 531.7,364.1 528.1,365.4 C524.5,366.8 524.5,369.5 528.1,370.9 C531.7,372.2 531.7,374.9 528.1,376.3 C524.5,377.6 524.5,380.4 528.1,381.7 C531.7,383.1 531.7,385.8 528.1,387.1 C524.5,388.5 524.5,391.2 528.1,392.6 C531.7,393.9 531.7,396.6 528.1,398.0 M546.5,313.0 C550.1,314.4 550.1,317.2 546.5,318.6 C542.9,320.0 542.9,322.8 546.5,324.1 C550.1,325.5 550.1,328.3 546.5,329.7 C542.9,331.1 542.9,333.9 546.5,335.3 C550.1,336.7 550.1,339.5 546.5,340.9 C542.9,342.2 542.9,345.0 546.5,346.4 C550.1,347.8 550.1,350.6 546.5,352.0 M546.5,360.0 C550.1,361.4 550.1,364.1 546.5,365.4 C542.9,366.8 542.9,369.5 546.5,370.9 C550.1,372.2 550.1,374.9 546.5,376.3 C542.9,377.6 542.9,380.4 546.5,381.7 C550.1,383.1 550.1,385.8 546.5,387.1 C542.9,388.5 542.9,391.2 546.5,392.6 C550.1,393.9 550.1,396.6 546.5,398.0 M555.5,313.0 C559.1,314.4 559.1,317.2 555.5,318.6 C551.9,320.0 551.9,322.8 555.5,324.1 C559.1,325.5 559.1,328.3 555.5,329.7 C551.9,331.1 551.9,333.9 555.5,335.3 C559.1,336.7 559.1,339.5 555.5,340.9 C551.9,342.2 551.9,345.0 555.5,346.4 C559.1,347.8 559.1,350.6 555.5,352.0 M555.5,360.0 C559.1,361.4 559.1,364.1 555.5,365.4 C551.9,366.8 551.9,369.5 555.5,370.9 C559.1,372.2 559.1,374.9 555.5,376.3 C551.9,377.6 551.9,380.4 555.5,381.7 C559.1,383.1 559.1,385.8 555.5,387.1 C551.9,388.5 551.9,391.2 555.5,392.6 C559.1,393.9 559.1,396.6 555.5,398.0 M573.9,313.0 C577.5,314.4 577.5,317.2 573.9,318.6 C570.3,320.0 570.3,322.8 573.9,324.1 C577.5,325.5 577.5,328.3 573.9,329.7 C570.3,331.1 570.3,333.9 573.9,335.3 C577.5,336.7 577.5,339.5 573.9,340.9 C570.3,342.2 570.3,345.0 573.9,346.4 C577.5,347.8 577.5,350.6 573.9,352.0 M573.9,360.0 C577.5,361.4 577.5,364.1 573.9,365.4 C570.3,366.8 570.3,369.5 573.9,370.9 C577.5,372.2 577.5,374.9 573.9,376.3 C570.3,377.6 570.3,380.4 573.9,381.7 C577.5,383.1 577.5,385.8 573.9,387.1 C570.3,388.5 570.3,391.2 573.9,392.6 C577.5,393.9 577.5,396.6 573.9,398.0 M582.9,313.0 C586.5,314.4 586.5,317.2 582.9,318.6 C579.3,320.0 579.3,322.8 582.9,324.1 C586.5,325.5 586.5,328.3 582.9,329.7 C579.3,331.1 579.3,333.9 582.9,335.3 C586.5,336.7 586.5,339.5 582.9,340.9 C579.3,342.2 579.3,345.0 582.9,346.4 C586.5,347.8 586.5,350.6 582.9,352.0 M582.9,360.0 C586.5,361.4 586.5,364.1 582.9,365.4 C579.3,366.8 579.3,369.5 582.9,370.9 C586.5,372.2 586.5,374.9 582.9,376.3 C579.3,377.6 579.3,380.4 582.9,381.7 C586.5,383.1 586.5,385.8 582.9,387.1 C579.3,388.5 579.3,391.2 582.9,392.6 C586.5,393.9 586.5,396.6 582.9,398.0 M601.3,313.0 C604.9,314.4 604.9,317.2 601.3,318.6 C597.7,320.0 597.7,322.8 601.3,324.1 C604.9,325.5 604.9,328.3 601.3,329.7 C597.7,331.1 597.7,333.9 601.3,335.3 C604.9,336.7 604.9,339.5 601.3,340.9 C597.7,342.2 597.7,345.0 601.3,346.4 C604.9,347.8 604.9,350.6 601.3,352.0 M601.3,360.0 C604.9,361.4 604.9,364.1 601.3,365.4 C597.7,366.8 597.7,369.5 601.3,370.9 C604.9,372.2 604.9,374.9 601.3,376.3 C597.7,377.6 597.7,380.4 601.3,381.7 C604.9,383.1 604.9,385.8 601.3,387.1 C597.7,388.5 597.7,391.2 601.3,392.6 C604.9,393.9 604.9,396.6 601.3,398.0 M610.3,313.0 C613.9,314.4 613.9,317.2 610.3,318.6 C606.7,320.0 606.7,322.8 610.3,324.1 C613.9,325.5 613.9,328.3 610.3,329.7 C606.7,331.1 606.7,333.9 610.3,335.3 C613.9,336.7 613.9,339.5 610.3,340.9 C606.7,342.2 606.7,345.0 610.3,346.4 C613.9,347.8 613.9,350.6 610.3,352.0 M610.3,360.0 C613.9,361.4 613.9,364.1 610.3,365.4 C606.7,366.8 606.7,369.5 610.3,370.9 C613.9,372.2 613.9,374.9 610.3,376.3 C606.7,377.6 606.7,380.4 610.3,381.7 C613.9,383.1 613.9,385.8 610.3,387.1 C606.7,388.5 606.7,391.2 610.3,392.6 C613.9,393.9 613.9,396.6 610.3,398.0 M628.7,313.0 C632.3,314.4 632.3,317.2 628.7,318.6 C625.1,320.0 625.1,322.8 628.7,324.1 C632.3,325.5 632.3,328.3 628.7,329.7 C625.1,331.1 625.1,333.9 628.7,335.3 C632.3,336.7 632.3,339.5 628.7,340.9 C625.1,342.2 625.1,345.0 628.7,346.4 C632.3,347.8 632.3,350.6 628.7,352.0 M628.7,360.0 C632.3,361.4 632.3,364.1 628.7,365.4 C625.1,366.8 625.1,369.5 628.7,370.9 C632.3,372.2 632.3,374.9 628.7,376.3 C625.1,377.6 625.1,380.4 628.7,381.7 C632.3,383.1 632.3,385.8 628.7,387.1 C625.1,388.5 625.1,391.2 628.7,392.6 C632.3,393.9 632.3,396.6 628.7,398.0 M637.7,313.0 C641.3,314.4 641.3,317.2 637.7,318.6 C634.1,320.0 634.1,322.8 637.7,324.1 C641.3,325.5 641.3,328.3 637.7,329.7 C634.1,331.1 634.1,333.9 637.7,335.3 C641.3,336.7 641.3,339.5 637.7,340.9 C634.1,342.2 634.1,345.0 637.7,346.4 C641.3,347.8 641.3,350.6 637.7,352.0 M637.7,360.0 C641.3,361.4 641.3,364.1 637.7,365.4 C634.1,366.8 634.1,369.5 637.7,370.9 C641.3,372.2 641.3,374.9 637.7,376.3 C634.1,377.6 634.1,380.4 637.7,381.7 C641.3,383.1 641.3,385.8 637.7,387.1 C634.1,388.5 634.1,391.2 637.7,392.6 C641.3,393.9 641.3,396.6 637.7,398.0" fill="none" stroke="#f3da8c" stroke-width="2.4" stroke-linejoin="round"/>
<circle cx="-24.4" cy="299.4" r="13.6" fill="url(#ghead)" stroke="#3a69a6" stroke-width="0.8"/>
<circle cx="3.0" cy="299.4" r="13.6" fill="url(#ghead)" stroke="#3a69a6" stroke-width="0.8"/>
<circle cx="30.4" cy="299.4" r="13.6" fill="url(#ghead)" stroke="#3a69a6" stroke-width="0.8"/>
<circle cx="57.8" cy="299.4" r="13.6" fill="url(#ghead)" stroke="#3a69a6" stroke-width="0.8"/>
<circle cx="85.2" cy="299.4" r="13.6" fill="url(#ghead)" stroke="#3a69a6" stroke-width="0.8"/>
<circle cx="112.6" cy="299.4" r="13.6" fill="url(#ghead)" stroke="#3a69a6" stroke-width="0.8"/>
<circle cx="140.0" cy="299.4" r="13.6" fill="url(#ghead)" stroke="#3a69a6" stroke-width="0.8"/>
<circle cx="167.4" cy="299.4" r="13.6" fill="url(#ghead)" stroke="#3a69a6" stroke-width="0.8"/>
<circle cx="194.8" cy="299.4" r="13.6" fill="url(#ghead)" stroke="#3a69a6" stroke-width="0.8"/>
<circle cx="222.2" cy="299.4" r="13.6" fill="url(#ghead)" stroke="#3a69a6" stroke-width="0.8"/>
<circle cx="249.6" cy="299.4" r="13.6" fill="url(#ghead)" stroke="#3a69a6" stroke-width="0.8"/>
<circle cx="277.0" cy="299.4" r="13.6" fill="url(#ghead)" stroke="#3a69a6" stroke-width="0.8"/>
<circle cx="304.4" cy="299.4" r="13.6" fill="url(#ghead)" stroke="#3a69a6" stroke-width="0.8"/>
<circle cx="331.8" cy="299.4" r="13.6" fill="url(#ghead)" stroke="#3a69a6" stroke-width="0.8"/>
<circle cx="359.2" cy="299.4" r="13.6" fill="url(#ghead)" stroke="#3a69a6" stroke-width="0.8"/>
<circle cx="386.6" cy="299.4" r="13.6" fill="url(#ghead)" stroke="#3a69a6" stroke-width="0.8"/>
<circle cx="414.0" cy="299.4" r="13.6" fill="url(#ghead)" stroke="#3a69a6" stroke-width="0.8"/>
<circle cx="441.4" cy="299.4" r="13.6" fill="url(#ghead)" stroke="#3a69a6" stroke-width="0.8"/>
<circle cx="468.8" cy="299.4" r="13.6" fill="url(#ghead)" stroke="#3a69a6" stroke-width="0.8"/>
<circle cx="496.2" cy="299.4" r="13.6" fill="url(#ghead)" stroke="#3a69a6" stroke-width="0.8"/>
<circle cx="523.6" cy="299.4" r="13.6" fill="url(#ghead)" stroke="#3a69a6" stroke-width="0.8"/>
<circle cx="551.0" cy="299.4" r="13.6" fill="url(#ghead)" stroke="#3a69a6" stroke-width="0.8"/>
<circle cx="578.4" cy="299.4" r="13.6" fill="url(#ghead)" stroke="#3a69a6" stroke-width="0.8"/>
<circle cx="605.8" cy="299.4" r="13.6" fill="url(#ghead)" stroke="#3a69a6" stroke-width="0.8"/>
<circle cx="633.2" cy="299.4" r="13.6" fill="url(#ghead)" stroke="#3a69a6" stroke-width="0.8"/>
<circle cx="-24.4" cy="411.8" r="13.6" fill="url(#ghead)" stroke="#3a69a6" stroke-width="0.8"/>
<circle cx="3.0" cy="411.8" r="13.6" fill="url(#ghead)" stroke="#3a69a6" stroke-width="0.8"/>
<circle cx="30.4" cy="411.8" r="13.6" fill="url(#ghead)" stroke="#3a69a6" stroke-width="0.8"/>
<circle cx="57.8" cy="411.8" r="13.6" fill="url(#ghead)" stroke="#3a69a6" stroke-width="0.8"/>
<circle cx="85.2" cy="411.8" r="13.6" fill="url(#ghead)" stroke="#3a69a6" stroke-width="0.8"/>
<circle cx="112.6" cy="411.8" r="13.6" fill="url(#ghead)" stroke="#3a69a6" stroke-width="0.8"/>
<circle cx="140.0" cy="411.8" r="13.6" fill="url(#ghead)" stroke="#3a69a6" stroke-width="0.8"/>
<circle cx="167.4" cy="411.8" r="13.6" fill="url(#ghead)" stroke="#3a69a6" stroke-width="0.8"/>
<circle cx="194.8" cy="411.8" r="13.6" fill="url(#ghead)" stroke="#3a69a6" stroke-width="0.8"/>
<circle cx="222.2" cy="411.8" r="13.6" fill="url(#ghead)" stroke="#3a69a6" stroke-width="0.8"/>
<circle cx="249.6" cy="411.8" r="13.6" fill="url(#ghead)" stroke="#3a69a6" stroke-width="0.8"/>
<circle cx="277.0" cy="411.8" r="13.6" fill="url(#ghead)" stroke="#3a69a6" stroke-width="0.8"/>
<circle cx="304.4" cy="411.8" r="13.6" fill="url(#ghead)" stroke="#3a69a6" stroke-width="0.8"/>
<circle cx="331.8" cy="411.8" r="13.6" fill="url(#ghead)" stroke="#3a69a6" stroke-width="0.8"/>
<circle cx="359.2" cy="411.8" r="13.6" fill="url(#ghead)" stroke="#3a69a6" stroke-width="0.8"/>
<circle cx="386.6" cy="411.8" r="13.6" fill="url(#ghead)" stroke="#3a69a6" stroke-width="0.8"/>
<circle cx="414.0" cy="411.8" r="13.6" fill="url(#ghead)" stroke="#3a69a6" stroke-width="0.8"/>
<circle cx="441.4" cy="411.8" r="13.6" fill="url(#ghead)" stroke="#3a69a6" stroke-width="0.8"/>
<circle cx="468.8" cy="411.8" r="13.6" fill="url(#ghead)" stroke="#3a69a6" stroke-width="0.8"/>
<circle cx="496.2" cy="411.8" r="13.6" fill="url(#ghead)" stroke="#3a69a6" stroke-width="0.8"/>
<circle cx="523.6" cy="411.8" r="13.6" fill="url(#ghead)" stroke="#3a69a6" stroke-width="0.8"/>
<circle cx="551.0" cy="411.8" r="13.6" fill="url(#ghead)" stroke="#3a69a6" stroke-width="0.8"/>
<circle cx="578.4" cy="411.8" r="13.6" fill="url(#ghead)" stroke="#3a69a6" stroke-width="0.8"/>
<circle cx="605.8" cy="411.8" r="13.6" fill="url(#ghead)" stroke="#3a69a6" stroke-width="0.8"/>
<circle cx="633.2" cy="411.8" r="13.6" fill="url(#ghead)" stroke="#3a69a6" stroke-width="0.8"/>
<path d="M270.3,288 C280,272 305,272 312,283 L334,283 C343,272 365,274 371,293.5 C385,340 415,400 443,436.5 C455,455 453,485 443,500 C433,512 410,512 397,503.5 C387,508 377,502 376.2,489.4 C376,465 365,430 316,429.4 C275,430 263,465 263.2,489.4 C263,502 251,508 241,503.5 C225,512 205,510 195,495 C187,480 189,455 196,436.5 C220,400 255,340 270.3,288 Z" fill="url(#gmid)" stroke="#1a1a1a" stroke-width="2.2"/>
<path d="M270.3,288 C280,272 305,272 311,290 C305,320 295,350 288,369.4 C275,400 260,420 249,436.5 C240,455 239,480 241,503.5 C225,512 205,510 195,495 C187,480 189,455 196,436.5 C220,400 255,340 270.3,288 Z" fill="url(#globe)" stroke="#1a1a1a" stroke-width="2.2"/>
<path d="M328.5,295.29999999999995 C335,272 363,272 371,293.5 C385,340 415,400 443,436.5 C455,455 453,485 443,500 C433,512 410,512 396,503.5 C397,480 397,455 390.29999999999995,436.5 C375,410 360,390 351.5,369.4 C343,345 333,320 328.5,295.29999999999995 Z" fill="url(#globe)" stroke="#1a1a1a" stroke-width="2.2"/>
<path d="M312.6,346.5 C315,300 335,260 365,225" fill="none" stroke="#1d2b3a" stroke-width="10"/>
<path d="M312.6,346.5 C315,300 335,260 365,225" fill="none" stroke="#f6c445" stroke-width="7"/>
<path d="M383,205 L337,224.70000000000005 L354,230 L365.6,250.60000000000002 Z" fill="#f6c445" stroke="#1d2b3a" stroke-width="1.2"/>
<path d="M316,439 C320,470 330,500 347.6,523.5" fill="none" stroke="#1d2b3a" stroke-width="10"/>
<path d="M316,439 C320,470 330,500 347.6,523.5" fill="none" stroke="#f6c445" stroke-width="7"/>
<circle cx="388.0" cy="85.2" r="27.6" fill="url(#gball)" stroke="#1a1a1a" stroke-width="2.4"/>
<circle cx="495.0" cy="106.4" r="27.6" fill="url(#gball)" stroke="#1a1a1a" stroke-width="2.4"/>
<circle cx="410.3" cy="170.6" r="27.6" fill="url(#gball)" stroke="#1a1a1a" stroke-width="2.4"/>
<circle cx="277.4" cy="194.0" r="27.6" fill="url(#gball)" stroke="#1a1a1a" stroke-width="2.4"/>
<circle cx="541.6" cy="195.3" r="27.6" fill="url(#gball)" stroke="#1a1a1a" stroke-width="2.4"/>
<circle cx="317.6" cy="392.6" r="26.8" fill="url(#gball)" stroke="#1a1a1a" stroke-width="2.4"/>
<circle cx="366.2" cy="557.3" r="26.8" fill="url(#gball)" stroke="#1a1a1a" stroke-width="2.4"/>
<path d="M135.60000000000002,484.4 C165,478 193,495 202,535" fill="none" stroke="#fff" stroke-width="5"/>
<path d="M209.7,556 L193,532 L203,536 L217,530 Z" fill="#fff" stroke="#fff" stroke-width="2" stroke-linejoin="round"/>
<text x="31" y="41.5" font-family="Liberation Sans, sans-serif" font-size="19.5" font-weight="bold" fill="#1a1a1a">ATPase transporters:</text>
<text x="56.5" y="76.7" font-family="Liberation Sans, sans-serif" font-size="20" fill="#1a1a1a">Na /K&#160; ATPase</text>
<text x="56.5" y="101.6" font-family="Liberation Sans, sans-serif" font-size="20" fill="#1a1a1a">H&#160; ATPase</text>
<text x="56.5" y="126.5" font-family="Liberation Sans, sans-serif" font-size="20" fill="#1a1a1a">H /K&#160; ATPase</text>
<text x="56.5" y="151.39999999999998" font-family="Liberation Sans, sans-serif" font-size="20" fill="#1a1a1a">Ca<tspan font-size="14" dy="-7">2</tspan><tspan dy="7">&#160; ATPase</tspan></text>
<text x="450" y="213" font-family="Liberation Sans, sans-serif" font-size="38" fill="#1a1a1a" transform="translate(450,213) scale(0.88,1) translate(-450,-213)">H</text>
<text x="474" y="202" font-family="Liberation Sans, sans-serif" font-size="32" fill="#1a1a1a">+</text>
<text x="80" y="494.7" font-family="Liberation Sans, sans-serif" font-size="20" fill="#fff" stroke="#fff" stroke-width="0.6">ATP</text>
<text x="188" y="581" font-family="Liberation Sans, sans-serif" font-size="21" fill="#fff" stroke="#fff" stroke-width="0.6">ADP</text>
<text x="504" y="505" font-family="Liberation Sans, sans-serif" font-size="20" font-weight="bold" fill="#b9d0ec">J. Perkins</text>
<text x="521" y="521.5" font-family="Liberation Sans, sans-serif" font-size="14.5" font-weight="bold" fill="#b9d0ec">MS, MFA</text>
<g fill="#8fb3e0" opacity="0.38"><ellipse cx="527" cy="540" rx="27" ry="8.5"/><ellipse cx="578" cy="540" rx="27" ry="8.5"/><ellipse cx="530" cy="554" rx="22" ry="7"/><ellipse cx="575" cy="554" rx="22" ry="7"/></g>
<path d="M550.5,533 L550.5,595 C548,598 549,605 552.5,606 C556,605 557,598 554.5,595 L554.5,533 Z" fill="#8fb3e0" opacity="0.6"/>
<text x="529" y="584" font-family="Liberation Sans, sans-serif" font-weight="bold" font-size="43" fill="#bcd8f8" letter-spacing="10" transform="translate(529,584) scale(0.4,1) translate(-529,-584)">DMG</text>
</svg>
<!--END fig23-->
<!--BEGIN fig24-->
<svg class="a" style="left:140px;top:1340px" width="1360" height="540" viewBox="140 1340 1360 540">
<defs>
<radialGradient id="pb_y" cx="0.38" cy="0.32" r="0.7"><stop offset="0" stop-color="#fff3c0"/><stop offset="0.15" stop-color="#ffc928"/><stop offset="0.65" stop-color="#f0a800"/><stop offset="1" stop-color="#a87400"/></radialGradient>
<radialGradient id="pb_p" cx="0.4" cy="0.35" r="0.7"><stop offset="0" stop-color="#f0d8f8"/><stop offset="0.15" stop-color="#a050b0"/><stop offset="0.7" stop-color="#7a3290"/><stop offset="1" stop-color="#4a1a60"/></radialGradient>
<radialGradient id="pb_t" cx="0.4" cy="0.35" r="0.7"><stop offset="0" stop-color="#c8fff8"/><stop offset="0.15" stop-color="#20b0a8"/><stop offset="0.7" stop-color="#0a9088"/><stop offset="1" stop-color="#045a58"/></radialGradient>
<radialGradient id="pb_r" cx="0.4" cy="0.35" r="0.7"><stop offset="0" stop-color="#ffe0e0"/><stop offset="0.15" stop-color="#f03040"/><stop offset="0.7" stop-color="#d01828"/><stop offset="1" stop-color="#801018"/></radialGradient>
<radialGradient id="phead" cx="0.38" cy="0.3" r="0.75"><stop offset="0" stop-color="#cfe2fa"/><stop offset="0.2" stop-color="#7aa8e0"/><stop offset="0.7" stop-color="#4f84c8"/><stop offset="1" stop-color="#3464a4"/></radialGradient>
<linearGradient id="pcyto" x1="0" y1="0" x2="0" y2="1"><stop offset="0.25" stop-color="#30609e"/><stop offset="0.62" stop-color="#4c80c2"/><stop offset="1" stop-color="#5589c9"/></linearGradient>
<linearGradient id="porL" x1="0" y1="0" x2="1" y2="0"><stop offset="0" stop-color="#f0ae84"/><stop offset="0.5" stop-color="#fbc8a0"/><stop offset="1" stop-color="#f2b088"/></linearGradient>
<linearGradient id="porM" x1="0" y1="0" x2="0" y2="1"><stop offset="0" stop-color="#d87848"/><stop offset="0.6" stop-color="#e08a5c"/><stop offset="1" stop-color="#f0b088"/></linearGradient>
<linearGradient id="pblL" x1="0" y1="0" x2="1" y2="0"><stop offset="0" stop-color="#a2cdf0"/><stop offset="0.5" stop-color="#bcdcf6"/><stop offset="1" stop-color="#a8d0f2"/></linearGradient>
<linearGradient id="pblM" x1="0" y1="0" x2="0" y2="1"><stop offset="0" stop-color="#6ab0e6"/><stop offset="1" stop-color="#4d98d8"/></linearGradient>
<linearGradient id="predW" x1="0" y1="0" x2="1" y2="0"><stop offset="0" stop-color="#e0404c"/><stop offset="0.5" stop-color="#f06068"/><stop offset="1" stop-color="#e44650"/></linearGradient>
</defs>
<clipPath id="clA"><rect x="174" y="1347.5" width="408.7" height="478"/></clipPath>
<clipPath id="clB"><rect x="617" y="1347.5" width="405.7" height="478"/></clipPath>
<clipPath id="clC"><rect x="1057" y="1347.5" width="423" height="478"/></clipPath>
<g id="primary" style="display:none"></g>
<g clip-path="url(#clA)">
<rect x="174" y="1347.5" width="408.7" height="478" fill="#d3e3f5"/>
<rect x="174" y="1347.5" width="408.7" height="2" fill="#c5d3e2"/>
<rect x="174" y="1609.5" width="408.7" height="216" fill="url(#pcyto)"/>
<rect x="174" y="1606.5" width="408.7" height="51" fill="#2c5993"/>
<path d="M174.7,1613.5 C176.4,1614.2 176.4,1616.2 174.7,1616.9 C173.0,1617.6 173.0,1619.6 174.7,1620.3 C176.4,1621.0 176.4,1623.0 174.7,1623.7 C173.0,1624.4 173.0,1626.4 174.7,1627.1 C176.4,1627.8 176.4,1629.8 174.7,1630.5 M174.7,1634.0 C176.4,1634.7 176.4,1636.8 174.7,1637.6 C173.0,1638.3 173.0,1640.4 174.7,1641.1 C176.4,1641.8 176.4,1644.0 174.7,1644.7 C173.0,1645.4 173.0,1647.5 174.7,1648.2 C176.4,1649.0 176.4,1651.1 174.7,1651.8 M179.3,1613.5 C181.0,1614.2 181.0,1616.2 179.3,1616.9 C177.6,1617.6 177.6,1619.6 179.3,1620.3 C181.0,1621.0 181.0,1623.0 179.3,1623.7 C177.6,1624.4 177.6,1626.4 179.3,1627.1 C181.0,1627.8 181.0,1629.8 179.3,1630.5 M179.3,1634.0 C181.0,1634.7 181.0,1636.8 179.3,1637.6 C177.6,1638.3 177.6,1640.4 179.3,1641.1 C181.0,1641.8 181.0,1644.0 179.3,1644.7 C177.6,1645.4 177.6,1647.5 179.3,1648.2 C181.0,1649.0 181.0,1651.1 179.3,1651.8 M186.8,1613.5 C188.5,1614.2 188.5,1616.2 186.8,1616.9 C185.1,1617.6 185.1,1619.6 186.8,1620.3 C188.5,1621.0 188.5,1623.0 186.8,1623.7 C185.1,1624.4 185.1,1626.4 186.8,1627.1 C188.5,1627.8 188.5,1629.8 186.8,1630.5 M186.8,1634.0 C188.5,1634.7 188.5,1636.8 186.8,1637.6 C185.1,1638.3 185.1,1640.4 186.8,1641.1 C188.5,1641.8 188.5,1644.0 186.8,1644.7 C185.1,1645.4 185.1,1647.5 186.8,1648.2 C188.5,1649.0 188.5,1651.1 186.8,1651.8 M191.4,1613.5 C193.1,1614.2 193.1,1616.2 191.4,1616.9 C189.7,1617.6 189.7,1619.6 191.4,1620.3 C193.1,1621.0 193.1,1623.0 191.4,1623.7 C189.7,1624.4 189.7,1626.4 191.4,1627.1 C193.1,1627.8 193.1,1629.8 191.4,1630.5 M191.4,1634.0 C193.1,1634.7 193.1,1636.8 191.4,1637.6 C189.7,1638.3 189.7,1640.4 191.4,1641.1 C193.1,1641.8 193.1,1644.0 191.4,1644.7 C189.7,1645.4 189.7,1647.5 191.4,1648.2 C193.1,1649.0 193.1,1651.1 191.4,1651.8 M198.9,1613.5 C200.6,1614.2 200.6,1616.2 198.9,1616.9 C197.2,1617.6 197.2,1619.6 198.9,1620.3 C200.6,1621.0 200.6,1623.0 198.9,1623.7 C197.2,1624.4 197.2,1626.4 198.9,1627.1 C200.6,1627.8 200.6,1629.8 198.9,1630.5 M198.9,1634.0 C200.6,1634.7 200.6,1636.8 198.9,1637.6 C197.2,1638.3 197.2,1640.4 198.9,1641.1 C200.6,1641.8 200.6,1644.0 198.9,1644.7 C197.2,1645.4 197.2,1647.5 198.9,1648.2 C200.6,1649.0 200.6,1651.1 198.9,1651.8 M203.5,1613.5 C205.2,1614.2 205.2,1616.2 203.5,1616.9 C201.8,1617.6 201.8,1619.6 203.5,1620.3 C205.2,1621.0 205.2,1623.0 203.5,1623.7 C201.8,1624.4 201.8,1626.4 203.5,1627.1 C205.2,1627.8 205.2,1629.8 203.5,1630.5 M203.5,1634.0 C205.2,1634.7 205.2,1636.8 203.5,1637.6 C201.8,1638.3 201.8,1640.4 203.5,1641.1 C205.2,1641.8 205.2,1644.0 203.5,1644.7 C201.8,1645.4 201.8,1647.5 203.5,1648.2 C205.2,1649.0 205.2,1651.1 203.5,1651.8 M211.0,1613.5 C212.7,1614.2 212.7,1616.2 211.0,1616.9 C209.3,1617.6 209.3,1619.6 211.0,1620.3 C212.7,1621.0 212.7,1623.0 211.0,1623.7 C209.3,1624.4 209.3,1626.4 211.0,1627.1 C212.7,1627.8 212.7,1629.8 211.0,1630.5 M211.0,1634.0 C212.7,1634.7 212.7,1636.8 211.0,1637.6 C209.3,1638.3 209.3,1640.4 211.0,1641.1 C212.7,1641.8 212.7,1644.0 211.0,1644.7 C209.3,1645.4 209.3,1647.5 211.0,1648.2 C212.7,1649.0 212.7,1651.1 211.0,1651.8 M215.6,1613.5 C217.3,1614.2 217.3,1616.2 215.6,1616.9 C213.9,1617.6 213.9,1619.6 215.6,1620.3 C217.3,1621.0 217.3,1623.0 215.6,1623.7 C213.9,1624.4 213.9,1626.4 215.6,1627.1 C217.3,1627.8 217.3,1629.8 215.6,1630.5 M215.6,1634.0 C217.3,1634.7 217.3,1636.8 215.6,1637.6 C213.9,1638.3 213.9,1640.4 215.6,1641.1 C217.3,1641.8 217.3,1644.0 215.6,1644.7 C213.9,1645.4 213.9,1647.5 215.6,1648.2 C217.3,1649.0 217.3,1651.1 215.6,1651.8 M223.1,1613.5 C224.8,1614.2 224.8,1616.2 223.1,1616.9 C221.4,1617.6 221.4,1619.6 223.1,1620.3 C224.8,1621.0 224.8,1623.0 223.1,1623.7 C221.4,1624.4 221.4,1626.4 223.1,1627.1 C224.8,1627.8 224.8,1629.8 223.1,1630.5 M223.1,1634.0 C224.8,1634.7 224.8,1636.8 223.1,1637.6 C221.4,1638.3 221.4,1640.4 223.1,1641.1 C224.8,1641.8 224.8,1644.0 223.1,1644.7 C221.4,1645.4 221.4,1647.5 223.1,1648.2 C224.8,1649.0 224.8,1651.1 223.1,1651.8 M227.7,1613.5 C229.4,1614.2 229.4,1616.2 227.7,1616.9 C226.0,1617.6 226.0,1619.6 227.7,1620.3 C229.4,1621.0 229.4,1623.0 227.7,1623.7 C226.0,1624.4 226.0,1626.4 227.7,1627.1 C229.4,1627.8 229.4,1629.8 227.7,1630.5 M227.7,1634.0 C229.4,1634.7 229.4,1636.8 227.7,1637.6 C226.0,1638.3 226.0,1640.4 227.7,1641.1 C229.4,1641.8 229.4,1644.0 227.7,1644.7 C226.0,1645.4 226.0,1647.5 227.7,1648.2 C229.4,1649.0 229.4,1651.1 227.7,1651.8 M235.2,1613.5 C236.9,1614.2 236.9,1616.2 235.2,1616.9 C233.5,1617.6 233.5,1619.6 235.2,1620.3 C236.9,1621.0 236.9,1623.0 235.2,1623.7 C233.5,1624.4 233.5,1626.4 235.2,1627.1 C236.9,1627.8 236.9,1629.8 235.2,1630.5 M235.2,1634.0 C236.9,1634.7 236.9,1636.8 235.2,1637.6 C233.5,1638.3 233.5,1640.4 235.2,1641.1 C236.9,1641.8 236.9,1644.0 235.2,1644.7 C233.5,1645.4 233.5,1647.5 235.2,1648.2 C236.9,1649.0 236.9,1651.1 235.2,1651.8 M239.8,1613.5 C241.5,1614.2 241.5,1616.2 239.8,1616.9 C238.1,1617.6 238.1,1619.6 239.8,1620.3 C241.5,1621.0 241.5,1623.0 239.8,1623.7 C238.1,1624.4 238.1,1626.4 239.8,1627.1 C241.5,1627.8 241.5,1629.8 239.8,1630.5 M239.8,1634.0 C241.5,1634.7 241.5,1636.8 239.8,1637.6 C238.1,1638.3 238.1,1640.4 239.8,1641.1 C241.5,1641.8 241.5,1644.0 239.8,1644.7 C238.1,1645.4 238.1,1647.5 239.8,1648.2 C241.5,1649.0 241.5,1651.1 239.8,1651.8 M247.3,1613.5 C249.0,1614.2 249.0,1616.2 247.3,1616.9 C245.6,1617.6 245.6,1619.6 247.3,1620.3 C249.0,1621.0 249.0,1623.0 247.3,1623.7 C245.6,1624.4 245.6,1626.4 247.3,1627.1 C249.0,1627.8 249.0,1629.8 247.3,1630.5 M247.3,1634.0 C249.0,1634.7 249.0,1636.8 247.3,1637.6 C245.6,1638.3 245.6,1640.4 247.3,1641.1 C249.0,1641.8 249.0,1644.0 247.3,1644.7 C245.6,1645.4 245.6,1647.5 247.3,1648.2 C249.0,1649.0 249.0,1651.1 247.3,1651.8 M251.9,1613.5 C253.6,1614.2 253.6,1616.2 251.9,1616.9 C250.2,1617.6 250.2,1619.6 251.9,1620.3 C253.6,1621.0 253.6,1623.0 251.9,1623.7 C250.2,1624.4 250.2,1626.4 251.9,1627.1 C253.6,1627.8 253.6,1629.8 251.9,1630.5 M251.9,1634.0 C253.6,1634.7 253.6,1636.8 251.9,1637.6 C250.2,1638.3 250.2,1640.4 251.9,1641.1 C253.6,1641.8 253.6,1644.0 251.9,1644.7 C250.2,1645.4 250.2,1647.5 251.9,1648.2 C253.6,1649.0 253.6,1651.1 251.9,1651.8 M259.4,1613.5 C261.1,1614.2 261.1,1616.2 259.4,1616.9 C257.7,1617.6 257.7,1619.6 259.4,1620.3 C261.1,1621.0 261.1,1623.0 259.4,1623.7 C257.7,1624.4 257.7,1626.4 259.4,1627.1 C261.1,1627.8 261.1,1629.8 259.4,1630.5 M259.4,1634.0 C261.1,1634.7 261.1,1636.8 259.4,1637.6 C257.7,1638.3 257.7,1640.4 259.4,1641.1 C261.1,1641.8 261.1,1644.0 259.4,1644.7 C257.7,1645.4 257.7,1647.5 259.4,1648.2 C261.1,1649.0 261.1,1651.1 259.4,1651.8 M264.0,1613.5 C265.7,1614.2 265.7,1616.2 264.0,1616.9 C262.3,1617.6 262.3,1619.6 264.0,1620.3 C265.7,1621.0 265.7,1623.0 264.0,1623.7 C262.3,1624.4 262.3,1626.4 264.0,1627.1 C265.7,1627.8 265.7,1629.8 264.0,1630.5 M264.0,1634.0 C265.7,1634.7 265.7,1636.8 264.0,1637.6 C262.3,1638.3 262.3,1640.4 264.0,1641.1 C265.7,1641.8 265.7,1644.0 264.0,1644.7 C262.3,1645.4 262.3,1647.5 264.0,1648.2 C265.7,1649.0 265.7,1651.1 264.0,1651.8 M271.5,1613.5 C273.2,1614.2 273.2,1616.2 271.5,1616.9 C269.8,1617.6 269.8,1619.6 271.5,1620.3 C273.2,1621.0 273.2,1623.0 271.5,1623.7 C269.8,1624.4 269.8,1626.4 271.5,1627.1 C273.2,1627.8 273.2,1629.8 271.5,1630.5 M271.5,1634.0 C273.2,1634.7 273.2,1636.8 271.5,1637.6 C269.8,1638.3 269.8,1640.4 271.5,1641.1 C273.2,1641.8 273.2,1644.0 271.5,1644.7 C269.8,1645.4 269.8,1647.5 271.5,1648.2 C273.2,1649.0 273.2,1651.1 271.5,1651.8 M276.1,1613.5 C277.8,1614.2 277.8,1616.2 276.1,1616.9 C274.4,1617.6 274.4,1619.6 276.1,1620.3 C277.8,1621.0 277.8,1623.0 276.1,1623.7 C274.4,1624.4 274.4,1626.4 276.1,1627.1 C277.8,1627.8 277.8,1629.8 276.1,1630.5 M276.1,1634.0 C277.8,1634.7 277.8,1636.8 276.1,1637.6 C274.4,1638.3 274.4,1640.4 276.1,1641.1 C277.8,1641.8 277.8,1644.0 276.1,1644.7 C274.4,1645.4 274.4,1647.5 276.1,1648.2 C277.8,1649.0 277.8,1651.1 276.1,1651.8 M283.6,1613.5 C285.3,1614.2 285.3,1616.2 283.6,1616.9 C281.9,1617.6 281.9,1619.6 283.6,1620.3 C285.3,1621.0 285.3,1623.0 283.6,1623.7 C281.9,1624.4 281.9,1626.4 283.6,1627.1 C285.3,1627.8 285.3,1629.8 283.6,1630.5 M283.6,1634.0 C285.3,1634.7 285.3,1636.8 283.6,1637.6 C281.9,1638.3 281.9,1640.4 283.6,1641.1 C285.3,1641.8 285.3,1644.0 283.6,1644.7 C281.9,1645.4 281.9,1647.5 283.6,1648.2 C285.3,1649.0 285.3,1651.1 283.6,1651.8 M288.2,1613.5 C289.9,1614.2 289.9,1616.2 288.2,1616.9 C286.5,1617.6 286.5,1619.6 288.2,1620.3 C289.9,1621.0 289.9,1623.0 288.2,1623.7 C286.5,1624.4 286.5,1626.4 288.2,1627.1 C289.9,1627.8 289.9,1629.8 288.2,1630.5 M288.2,1634.0 C289.9,1634.7 289.9,1636.8 288.2,1637.6 C286.5,1638.3 286.5,1640.4 288.2,1641.1 C289.9,1641.8 289.9,1644.0 288.2,1644.7 C286.5,1645.4 286.5,1647.5 288.2,1648.2 C289.9,1649.0 289.9,1651.1 288.2,1651.8 M295.7,1613.5 C297.4,1614.2 297.4,1616.2 295.7,1616.9 C294.0,1617.6 294.0,1619.6 295.7,1620.3 C297.4,1621.0 297.4,1623.0 295.7,1623.7 C294.0,1624.4 294.0,1626.4 295.7,1627.1 C297.4,1627.8 297.4,1629.8 295.7,1630.5 M295.7,1634.0 C297.4,1634.7 297.4,1636.8 295.7,1637.6 C294.0,1638.3 294.0,1640.4 295.7,1641.1 C297.4,1641.8 297.4,1644.0 295.7,1644.7 C294.0,1645.4 294.0,1647.5 295.7,1648.2 C297.4,1649.0 297.4,1651.1 295.7,1651.8 M300.3,1613.5 C302.0,1614.2 302.0,1616.2 300.3,1616.9 C298.6,1617.6 298.6,1619.6 300.3,1620.3 C302.0,1621.0 302.0,1623.0 300.3,1623.7 C298.6,1624.4 298.6,1626.4 300.3,1627.1 C302.0,1627.8 302.0,1629.8 300.3,1630.5 M300.3,1634.0 C302.0,1634.7 302.0,1636.8 300.3,1637.6 C298.6,1638.3 298.6,1640.4 300.3,1641.1 C302.0,1641.8 302.0,1644.0 300.3,1644.7 C298.6,1645.4 298.6,1647.5 300.3,1648.2 C302.0,1649.0 302.0,1651.1 300.3,1651.8 M307.8,1613.5 C309.5,1614.2 309.5,1616.2 307.8,1616.9 C306.1,1617.6 306.1,1619.6 307.8,1620.3 C309.5,1621.0 309.5,1623.0 307.8,1623.7 C306.1,1624.4 306.1,1626.4 307.8,1627.1 C309.5,1627.8 309.5,1629.8 307.8,1630.5 M307.8,1634.0 C309.5,1634.7 309.5,1636.8 307.8,1637.6 C306.1,1638.3 306.1,1640.4 307.8,1641.1 C309.5,1641.8 309.5,1644.0 307.8,1644.7 C306.1,1645.4 306.1,1647.5 307.8,1648.2 C309.5,1649.0 309.5,1651.1 307.8,1651.8 M312.4,1613.5 C314.1,1614.2 314.1,1616.2 312.4,1616.9 C310.7,1617.6 310.7,1619.6 312.4,1620.3 C314.1,1621.0 314.1,1623.0 312.4,1623.7 C310.7,1624.4 310.7,1626.4 312.4,1627.1 C314.1,1627.8 314.1,1629.8 312.4,1630.5 M312.4,1634.0 C314.1,1634.7 314.1,1636.8 312.4,1637.6 C310.7,1638.3 310.7,1640.4 312.4,1641.1 C314.1,1641.8 314.1,1644.0 312.4,1644.7 C310.7,1645.4 310.7,1647.5 312.4,1648.2 C314.1,1649.0 314.1,1651.1 312.4,1651.8 M319.9,1613.5 C321.6,1614.2 321.6,1616.2 319.9,1616.9 C318.2,1617.6 318.2,1619.6 319.9,1620.3 C321.6,1621.0 321.6,1623.0 319.9,1623.7 C318.2,1624.4 318.2,1626.4 319.9,1627.1 C321.6,1627.8 321.6,1629.8 319.9,1630.5 M319.9,1634.0 C321.6,1634.7 321.6,1636.8 319.9,1637.6 C318.2,1638.3 318.2,1640.4 319.9,1641.1 C321.6,1641.8 321.6,1644.0 319.9,1644.7 C318.2,1645.4 318.2,1647.5 319.9,1648.2 C321.6,1649.0 321.6,1651.1 319.9,1651.8 M324.5,1613.5 C326.2,1614.2 326.2,1616.2 324.5,1616.9 C322.8,1617.6 322.8,1619.6 324.5,1620.3 C326.2,1621.0 326.2,1623.0 324.5,1623.7 C322.8,1624.4 322.8,1626.4 324.5,1627.1 C326.2,1627.8 326.2,1629.8 324.5,1630.5 M324.5,1634.0 C326.2,1634.7 326.2,1636.8 324.5,1637.6 C322.8,1638.3 322.8,1640.4 324.5,1641.1 C326.2,1641.8 326.2,1644.0 324.5,1644.7 C322.8,1645.4 322.8,1647.5 324.5,1648.2 C326.2,1649.0 326.2,1651.1 324.5,1651.8 M332.0,1613.5 C333.7,1614.2 333.7,1616.2 332.0,1616.9 C330.3,1617.6 330.3,1619.6 332.0,1620.3 C333.7,1621.0 333.7,1623.0 332.0,1623.7 C330.3,1624.4 330.3,1626.4 332.0,1627.1 C333.7,1627.8 333.7,1629.8 332.0,1630.5 M332.0,1634.0 C333.7,1634.7 333.7,1636.8 332.0,1637.6 C330.3,1638.3 330.3,1640.4 332.0,1641.1 C333.7,1641.8 333.7,1644.0 332.0,1644.7 C330.3,1645.4 330.3,1647.5 332.0,1648.2 C333.7,1649.0 333.7,1651.1 332.0,1651.8 M336.6,1613.5 C338.3,1614.2 338.3,1616.2 336.6,1616.9 C334.9,1617.6 334.9,1619.6 336.6,1620.3 C338.3,1621.0 338.3,1623.0 336.6,1623.7 C334.9,1624.4 334.9,1626.4 336.6,1627.1 C338.3,1627.8 338.3,1629.8 336.6,1630.5 M336.6,1634.0 C338.3,1634.7 338.3,1636.8 336.6,1637.6 C334.9,1638.3 334.9,1640.4 336.6,1641.1 C338.3,1641.8 338.3,1644.0 336.6,1644.7 C334.9,1645.4 334.9,1647.5 336.6,1648.2 C338.3,1649.0 338.3,1651.1 336.6,1651.8 M344.1,1613.5 C345.8,1614.2 345.8,1616.2 344.1,1616.9 C342.4,1617.6 342.4,1619.6 344.1,1620.3 C345.8,1621.0 345.8,1623.0 344.1,1623.7 C342.4,1624.4 342.4,1626.4 344.1,1627.1 C345.8,1627.8 345.8,1629.8 344.1,1630.5 M344.1,1634.0 C345.8,1634.7 345.8,1636.8 344.1,1637.6 C342.4,1638.3 342.4,1640.4 344.1,1641.1 C345.8,1641.8 345.8,1644.0 344.1,1644.7 C342.4,1645.4 342.4,1647.5 344.1,1648.2 C345.8,1649.0 345.8,1651.1 344.1,1651.8 M348.7,1613.5 C350.4,1614.2 350.4,1616.2 348.7,1616.9 C347.0,1617.6 347.0,1619.6 348.7,1620.3 C350.4,1621.0 350.4,1623.0 348.7,1623.7 C347.0,1624.4 347.0,1626.4 348.7,1627.1 C350.4,1627.8 350.4,1629.8 348.7,1630.5 M348.7,1634.0 C350.4,1634.7 350.4,1636.8 348.7,1637.6 C347.0,1638.3 347.0,1640.4 348.7,1641.1 C350.4,1641.8 350.4,1644.0 348.7,1644.7 C347.0,1645.4 347.0,1647.5 348.7,1648.2 C350.4,1649.0 350.4,1651.1 348.7,1651.8 M356.2,1613.5 C357.9,1614.2 357.9,1616.2 356.2,1616.9 C354.5,1617.6 354.5,1619.6 356.2,1620.3 C357.9,1621.0 357.9,1623.0 356.2,1623.7 C354.5,1624.4 354.5,1626.4 356.2,1627.1 C357.9,1627.8 357.9,1629.8 356.2,1630.5 M356.2,1634.0 C357.9,1634.7 357.9,1636.8 356.2,1637.6 C354.5,1638.3 354.5,1640.4 356.2,1641.1 C357.9,1641.8 357.9,1644.0 356.2,1644.7 C354.5,1645.4 354.5,1647.5 356.2,1648.2 C357.9,1649.0 357.9,1651.1 356.2,1651.8 M360.8,1613.5 C362.5,1614.2 362.5,1616.2 360.8,1616.9 C359.1,1617.6 359.1,1619.6 360.8,1620.3 C362.5,1621.0 362.5,1623.0 360.8,1623.7 C359.1,1624.4 359.1,1626.4 360.8,1627.1 C362.5,1627.8 362.5,1629.8 360.8,1630.5 M360.8,1634.0 C362.5,1634.7 362.5,1636.8 360.8,1637.6 C359.1,1638.3 359.1,1640.4 360.8,1641.1 C362.5,1641.8 362.5,1644.0 360.8,1644.7 C359.1,1645.4 359.1,1647.5 360.8,1648.2 C362.5,1649.0 362.5,1651.1 360.8,1651.8 M368.3,1613.5 C370.0,1614.2 370.0,1616.2 368.3,1616.9 C366.6,1617.6 366.6,1619.6 368.3,1620.3 C370.0,1621.0 370.0,1623.0 368.3,1623.7 C366.6,1624.4 366.6,1626.4 368.3,1627.1 C370.0,1627.8 370.0,1629.8 368.3,1630.5 M368.3,1634.0 C370.0,1634.7 370.0,1636.8 368.3,1637.6 C366.6,1638.3 366.6,1640.4 368.3,1641.1 C370.0,1641.8 370.0,1644.0 368.3,1644.7 C366.6,1645.4 366.6,1647.5 368.3,1648.2 C370.0,1649.0 370.0,1651.1 368.3,1651.8 M372.9,1613.5 C374.6,1614.2 374.6,1616.2 372.9,1616.9 C371.2,1617.6 371.2,1619.6 372.9,1620.3 C374.6,1621.0 374.6,1623.0 372.9,1623.7 C371.2,1624.4 371.2,1626.4 372.9,1627.1 C374.6,1627.8 374.6,1629.8 372.9,1630.5 M372.9,1634.0 C374.6,1634.7 374.6,1636.8 372.9,1637.6 C371.2,1638.3 371.2,1640.4 372.9,1641.1 C374.6,1641.8 374.6,1644.0 372.9,1644.7 C371.2,1645.4 371.2,1647.5 372.9,1648.2 C374.6,1649.0 374.6,1651.1 372.9,1651.8 M380.4,1613.5 C382.1,1614.2 382.1,1616.2 380.4,1616.9 C378.7,1617.6 378.7,1619.6 380.4,1620.3 C382.1,1621.0 382.1,1623.0 380.4,1623.7 C378.7,1624.4 378.7,1626.4 380.4,1627.1 C382.1,1627.8 382.1,1629.8 380.4,1630.5 M380.4,1634.0 C382.1,1634.7 382.1,1636.8 380.4,1637.6 C378.7,1638.3 378.7,1640.4 380.4,1641.1 C382.1,1641.8 382.1,1644.0 380.4,1644.7 C378.7,1645.4 378.7,1647.5 380.4,1648.2 C382.1,1649.0 382.1,1651.1 380.4,1651.8 M385.0,1613.5 C386.7,1614.2 386.7,1616.2 385.0,1616.9 C383.3,1617.6 383.3,1619.6 385.0,1620.3 C386.7,1621.0 386.7,1623.0 385.0,1623.7 C383.3,1624.4 383.3,1626.4 385.0,1627.1 C386.7,1627.8 386.7,1629.8 385.0,1630.5 M385.0,1634.0 C386.7,1634.7 386.7,1636.8 385.0,1637.6 C383.3,1638.3 383.3,1640.4 385.0,1641.1 C386.7,1641.8 386.7,1644.0 385.0,1644.7 C383.3,1645.4 383.3,1647.5 385.0,1648.2 C386.7,1649.0 386.7,1651.1 385.0,1651.8 M392.5,1613.5 C394.2,1614.2 394.2,1616.2 392.5,1616.9 C390.8,1617.6 390.8,1619.6 392.5,1620.3 C394.2,1621.0 394.2,1623.0 392.5,1623.7 C390.8,1624.4 390.8,1626.4 392.5,1627.1 C394.2,1627.8 394.2,1629.8 392.5,1630.5 M392.5,1634.0 C394.2,1634.7 394.2,1636.8 392.5,1637.6 C390.8,1638.3 390.8,1640.4 392.5,1641.1 C394.2,1641.8 394.2,1644.0 392.5,1644.7 C390.8,1645.4 390.8,1647.5 392.5,1648.2 C394.2,1649.0 394.2,1651.1 392.5,1651.8 M397.1,1613.5 C398.8,1614.2 398.8,1616.2 397.1,1616.9 C395.4,1617.6 395.4,1619.6 397.1,1620.3 C398.8,1621.0 398.8,1623.0 397.1,1623.7 C395.4,1624.4 395.4,1626.4 397.1,1627.1 C398.8,1627.8 398.8,1629.8 397.1,1630.5 M397.1,1634.0 C398.8,1634.7 398.8,1636.8 397.1,1637.6 C395.4,1638.3 395.4,1640.4 397.1,1641.1 C398.8,1641.8 398.8,1644.0 397.1,1644.7 C395.4,1645.4 395.4,1647.5 397.1,1648.2 C398.8,1649.0 398.8,1651.1 397.1,1651.8 M404.6,1613.5 C406.3,1614.2 406.3,1616.2 404.6,1616.9 C402.9,1617.6 402.9,1619.6 404.6,1620.3 C406.3,1621.0 406.3,1623.0 404.6,1623.7 C402.9,1624.4 402.9,1626.4 404.6,1627.1 C406.3,1627.8 406.3,1629.8 404.6,1630.5 M404.6,1634.0 C406.3,1634.7 406.3,1636.8 404.6,1637.6 C402.9,1638.3 402.9,1640.4 404.6,1641.1 C406.3,1641.8 406.3,1644.0 404.6,1644.7 C402.9,1645.4 402.9,1647.5 404.6,1648.2 C406.3,1649.0 406.3,1651.1 404.6,1651.8 M409.2,1613.5 C410.9,1614.2 410.9,1616.2 409.2,1616.9 C407.5,1617.6 407.5,1619.6 409.2,1620.3 C410.9,1621.0 410.9,1623.0 409.2,1623.7 C407.5,1624.4 407.5,1626.4 409.2,1627.1 C410.9,1627.8 410.9,1629.8 409.2,1630.5 M409.2,1634.0 C410.9,1634.7 410.9,1636.8 409.2,1637.6 C407.5,1638.3 407.5,1640.4 409.2,1641.1 C410.9,1641.8 410.9,1644.0 409.2,1644.7 C407.5,1645.4 407.5,1647.5 409.2,1648.2 C410.9,1649.0 410.9,1651.1 409.2,1651.8 M416.7,1613.5 C418.4,1614.2 418.4,1616.2 416.7,1616.9 C415.0,1617.6 415.0,1619.6 416.7,1620.3 C418.4,1621.0 418.4,1623.0 416.7,1623.7 C415.0,1624.4 415.0,1626.4 416.7,1627.1 C418.4,1627.8 418.4,1629.8 416.7,1630.5 M416.7,1634.0 C418.4,1634.7 418.4,1636.8 416.7,1637.6 C415.0,1638.3 415.0,1640.4 416.7,1641.1 C418.4,1641.8 418.4,1644.0 416.7,1644.7 C415.0,1645.4 415.0,1647.5 416.7,1648.2 C418.4,1649.0 418.4,1651.1 416.7,1651.8 M421.3,1613.5 C423.0,1614.2 423.0,1616.2 421.3,1616.9 C419.6,1617.6 419.6,1619.6 421.3,1620.3 C423.0,1621.0 423.0,1623.0 421.3,1623.7 C419.6,1624.4 419.6,1626.4 421.3,1627.1 C423.0,1627.8 423.0,1629.8 421.3,1630.5 M421.3,1634.0 C423.0,1634.7 423.0,1636.8 421.3,1637.6 C419.6,1638.3 419.6,1640.4 421.3,1641.1 C423.0,1641.8 423.0,1644.0 421.3,1644.7 C419.6,1645.4 419.6,1647.5 421.3,1648.2 C423.0,1649.0 423.0,1651.1 421.3,1651.8 M428.8,1613.5 C430.5,1614.2 430.5,1616.2 428.8,1616.9 C427.1,1617.6 427.1,1619.6 428.8,1620.3 C430.5,1621.0 430.5,1623.0 428.8,1623.7 C427.1,1624.4 427.1,1626.4 428.8,1627.1 C430.5,1627.8 430.5,1629.8 428.8,1630.5 M428.8,1634.0 C430.5,1634.7 430.5,1636.8 428.8,1637.6 C427.1,1638.3 427.1,1640.4 428.8,1641.1 C430.5,1641.8 430.5,1644.0 428.8,1644.7 C427.1,1645.4 427.1,1647.5 428.8,1648.2 C430.5,1649.0 430.5,1651.1 428.8,1651.8 M433.4,1613.5 C435.1,1614.2 435.1,1616.2 433.4,1616.9 C431.7,1617.6 431.7,1619.6 433.4,1620.3 C435.1,1621.0 435.1,1623.0 433.4,1623.7 C431.7,1624.4 431.7,1626.4 433.4,1627.1 C435.1,1627.8 435.1,1629.8 433.4,1630.5 M433.4,1634.0 C435.1,1634.7 435.1,1636.8 433.4,1637.6 C431.7,1638.3 431.7,1640.4 433.4,1641.1 C435.1,1641.8 435.1,1644.0 433.4,1644.7 C431.7,1645.4 431.7,1647.5 433.4,1648.2 C435.1,1649.0 435.1,1651.1 433.4,1651.8 M440.9,1613.5 C442.6,1614.2 442.6,1616.2 440.9,1616.9 C439.2,1617.6 439.2,1619.6 440.9,1620.3 C442.6,1621.0 442.6,1623.0 440.9,1623.7 C439.2,1624.4 439.2,1626.4 440.9,1627.1 C442.6,1627.8 442.6,1629.8 440.9,1630.5 M440.9,1634.0 C442.6,1634.7 442.6,1636.8 440.9,1637.6 C439.2,1638.3 439.2,1640.4 440.9,1641.1 C442.6,1641.8 442.6,1644.0 440.9,1644.7 C439.2,1645.4 439.2,1647.5 440.9,1648.2 C442.6,1649.0 442.6,1651.1 440.9,1651.8 M445.5,1613.5 C447.2,1614.2 447.2,1616.2 445.5,1616.9 C443.8,1617.6 443.8,1619.6 445.5,1620.3 C447.2,1621.0 447.2,1623.0 445.5,1623.7 C443.8,1624.4 443.8,1626.4 445.5,1627.1 C447.2,1627.8 447.2,1629.8 445.5,1630.5 M445.5,1634.0 C447.2,1634.7 447.2,1636.8 445.5,1637.6 C443.8,1638.3 443.8,1640.4 445.5,1641.1 C447.2,1641.8 447.2,1644.0 445.5,1644.7 C443.8,1645.4 443.8,1647.5 445.5,1648.2 C447.2,1649.0 447.2,1651.1 445.5,1651.8 M453.0,1613.5 C454.7,1614.2 454.7,1616.2 453.0,1616.9 C451.3,1617.6 451.3,1619.6 453.0,1620.3 C454.7,1621.0 454.7,1623.0 453.0,1623.7 C451.3,1624.4 451.3,1626.4 453.0,1627.1 C454.7,1627.8 454.7,1629.8 453.0,1630.5 M453.0,1634.0 C454.7,1634.7 454.7,1636.8 453.0,1637.6 C451.3,1638.3 451.3,1640.4 453.0,1641.1 C454.7,1641.8 454.7,1644.0 453.0,1644.7 C451.3,1645.4 451.3,1647.5 453.0,1648.2 C454.7,1649.0 454.7,1651.1 453.0,1651.8 M457.6,1613.5 C459.3,1614.2 459.3,1616.2 457.6,1616.9 C455.9,1617.6 455.9,1619.6 457.6,1620.3 C459.3,1621.0 459.3,1623.0 457.6,1623.7 C455.9,1624.4 455.9,1626.4 457.6,1627.1 C459.3,1627.8 459.3,1629.8 457.6,1630.5 M457.6,1634.0 C459.3,1634.7 459.3,1636.8 457.6,1637.6 C455.9,1638.3 455.9,1640.4 457.6,1641.1 C459.3,1641.8 459.3,1644.0 457.6,1644.7 C455.9,1645.4 455.9,1647.5 457.6,1648.2 C459.3,1649.0 459.3,1651.1 457.6,1651.8 M465.1,1613.5 C466.8,1614.2 466.8,1616.2 465.1,1616.9 C463.4,1617.6 463.4,1619.6 465.1,1620.3 C466.8,1621.0 466.8,1623.0 465.1,1623.7 C463.4,1624.4 463.4,1626.4 465.1,1627.1 C466.8,1627.8 466.8,1629.8 465.1,1630.5 M465.1,1634.0 C466.8,1634.7 466.8,1636.8 465.1,1637.6 C463.4,1638.3 463.4,1640.4 465.1,1641.1 C466.8,1641.8 466.8,1644.0 465.1,1644.7 C463.4,1645.4 463.4,1647.5 465.1,1648.2 C466.8,1649.0 466.8,1651.1 465.1,1651.8 M469.7,1613.5 C471.4,1614.2 471.4,1616.2 469.7,1616.9 C468.0,1617.6 468.0,1619.6 469.7,1620.3 C471.4,1621.0 471.4,1623.0 469.7,1623.7 C468.0,1624.4 468.0,1626.4 469.7,1627.1 C471.4,1627.8 471.4,1629.8 469.7,1630.5 M469.7,1634.0 C471.4,1634.7 471.4,1636.8 469.7,1637.6 C468.0,1638.3 468.0,1640.4 469.7,1641.1 C471.4,1641.8 471.4,1644.0 469.7,1644.7 C468.0,1645.4 468.0,1647.5 469.7,1648.2 C471.4,1649.0 471.4,1651.1 469.7,1651.8 M477.2,1613.5 C478.9,1614.2 478.9,1616.2 477.2,1616.9 C475.5,1617.6 475.5,1619.6 477.2,1620.3 C478.9,1621.0 478.9,1623.0 477.2,1623.7 C475.5,1624.4 475.5,1626.4 477.2,1627.1 C478.9,1627.8 478.9,1629.8 477.2,1630.5 M477.2,1634.0 C478.9,1634.7 478.9,1636.8 477.2,1637.6 C475.5,1638.3 475.5,1640.4 477.2,1641.1 C478.9,1641.8 478.9,1644.0 477.2,1644.7 C475.5,1645.4 475.5,1647.5 477.2,1648.2 C478.9,1649.0 478.9,1651.1 477.2,1651.8 M481.8,1613.5 C483.5,1614.2 483.5,1616.2 481.8,1616.9 C480.1,1617.6 480.1,1619.6 481.8,1620.3 C483.5,1621.0 483.5,1623.0 481.8,1623.7 C480.1,1624.4 480.1,1626.4 481.8,1627.1 C483.5,1627.8 483.5,1629.8 481.8,1630.5 M481.8,1634.0 C483.5,1634.7 483.5,1636.8 481.8,1637.6 C480.1,1638.3 480.1,1640.4 481.8,1641.1 C483.5,1641.8 483.5,1644.0 481.8,1644.7 C480.1,1645.4 480.1,1647.5 481.8,1648.2 C483.5,1649.0 483.5,1651.1 481.8,1651.8 M489.3,1613.5 C491.0,1614.2 491.0,1616.2 489.3,1616.9 C487.6,1617.6 487.6,1619.6 489.3,1620.3 C491.0,1621.0 491.0,1623.0 489.3,1623.7 C487.6,1624.4 487.6,1626.4 489.3,1627.1 C491.0,1627.8 491.0,1629.8 489.3,1630.5 M489.3,1634.0 C491.0,1634.7 491.0,1636.8 489.3,1637.6 C487.6,1638.3 487.6,1640.4 489.3,1641.1 C491.0,1641.8 491.0,1644.0 489.3,1644.7 C487.6,1645.4 487.6,1647.5 489.3,1648.2 C491.0,1649.0 491.0,1651.1 489.3,1651.8 M493.9,1613.5 C495.6,1614.2 495.6,1616.2 493.9,1616.9 C492.2,1617.6 492.2,1619.6 493.9,1620.3 C495.6,1621.0 495.6,1623.0 493.9,1623.7 C492.2,1624.4 492.2,1626.4 493.9,1627.1 C495.6,1627.8 495.6,1629.8 493.9,1630.5 M493.9,1634.0 C495.6,1634.7 495.6,1636.8 493.9,1637.6 C492.2,1638.3 492.2,1640.4 493.9,1641.1 C495.6,1641.8 495.6,1644.0 493.9,1644.7 C492.2,1645.4 492.2,1647.5 493.9,1648.2 C495.6,1649.0 495.6,1651.1 493.9,1651.8 M501.4,1613.5 C503.1,1614.2 503.1,1616.2 501.4,1616.9 C499.7,1617.6 499.7,1619.6 501.4,1620.3 C503.1,1621.0 503.1,1623.0 501.4,1623.7 C499.7,1624.4 499.7,1626.4 501.4,1627.1 C503.1,1627.8 503.1,1629.8 501.4,1630.5 M501.4,1634.0 C503.1,1634.7 503.1,1636.8 501.4,1637.6 C499.7,1638.3 499.7,1640.4 501.4,1641.1 C503.1,1641.8 503.1,1644.0 501.4,1644.7 C499.7,1645.4 499.7,1647.5 501.4,1648.2 C503.1,1649.0 503.1,1651.1 501.4,1651.8 M506.0,1613.5 C507.7,1614.2 507.7,1616.2 506.0,1616.9 C504.3,1617.6 504.3,1619.6 506.0,1620.3 C507.7,1621.0 507.7,1623.0 506.0,1623.7 C504.3,1624.4 504.3,1626.4 506.0,1627.1 C507.7,1627.8 507.7,1629.8 506.0,1630.5 M506.0,1634.0 C507.7,1634.7 507.7,1636.8 506.0,1637.6 C504.3,1638.3 504.3,1640.4 506.0,1641.1 C507.7,1641.8 507.7,1644.0 506.0,1644.7 C504.3,1645.4 504.3,1647.5 506.0,1648.2 C507.7,1649.0 507.7,1651.1 506.0,1651.8 M513.5,1613.5 C515.2,1614.2 515.2,1616.2 513.5,1616.9 C511.8,1617.6 511.8,1619.6 513.5,1620.3 C515.2,1621.0 515.2,1623.0 513.5,1623.7 C511.8,1624.4 511.8,1626.4 513.5,1627.1 C515.2,1627.8 515.2,1629.8 513.5,1630.5 M513.5,1634.0 C515.2,1634.7 515.2,1636.8 513.5,1637.6 C511.8,1638.3 511.8,1640.4 513.5,1641.1 C515.2,1641.8 515.2,1644.0 513.5,1644.7 C511.8,1645.4 511.8,1647.5 513.5,1648.2 C515.2,1649.0 515.2,1651.1 513.5,1651.8 M518.1,1613.5 C519.8,1614.2 519.8,1616.2 518.1,1616.9 C516.4,1617.6 516.4,1619.6 518.1,1620.3 C519.8,1621.0 519.8,1623.0 518.1,1623.7 C516.4,1624.4 516.4,1626.4 518.1,1627.1 C519.8,1627.8 519.8,1629.8 518.1,1630.5 M518.1,1634.0 C519.8,1634.7 519.8,1636.8 518.1,1637.6 C516.4,1638.3 516.4,1640.4 518.1,1641.1 C519.8,1641.8 519.8,1644.0 518.1,1644.7 C516.4,1645.4 516.4,1647.5 518.1,1648.2 C519.8,1649.0 519.8,1651.1 518.1,1651.8 M525.6,1613.5 C527.3,1614.2 527.3,1616.2 525.6,1616.9 C523.9,1617.6 523.9,1619.6 525.6,1620.3 C527.3,1621.0 527.3,1623.0 525.6,1623.7 C523.9,1624.4 523.9,1626.4 525.6,1627.1 C527.3,1627.8 527.3,1629.8 525.6,1630.5 M525.6,1634.0 C527.3,1634.7 527.3,1636.8 525.6,1637.6 C523.9,1638.3 523.9,1640.4 525.6,1641.1 C527.3,1641.8 527.3,1644.0 525.6,1644.7 C523.9,1645.4 523.9,1647.5 525.6,1648.2 C527.3,1649.0 527.3,1651.1 525.6,1651.8 M530.2,1613.5 C531.9,1614.2 531.9,1616.2 530.2,1616.9 C528.5,1617.6 528.5,1619.6 530.2,1620.3 C531.9,1621.0 531.9,1623.0 530.2,1623.7 C528.5,1624.4 528.5,1626.4 530.2,1627.1 C531.9,1627.8 531.9,1629.8 530.2,1630.5 M530.2,1634.0 C531.9,1634.7 531.9,1636.8 530.2,1637.6 C528.5,1638.3 528.5,1640.4 530.2,1641.1 C531.9,1641.8 531.9,1644.0 530.2,1644.7 C528.5,1645.4 528.5,1647.5 530.2,1648.2 C531.9,1649.0 531.9,1651.1 530.2,1651.8 M537.7,1613.5 C539.4,1614.2 539.4,1616.2 537.7,1616.9 C536.0,1617.6 536.0,1619.6 537.7,1620.3 C539.4,1621.0 539.4,1623.0 537.7,1623.7 C536.0,1624.4 536.0,1626.4 537.7,1627.1 C539.4,1627.8 539.4,1629.8 537.7,1630.5 M537.7,1634.0 C539.4,1634.7 539.4,1636.8 537.7,1637.6 C536.0,1638.3 536.0,1640.4 537.7,1641.1 C539.4,1641.8 539.4,1644.0 537.7,1644.7 C536.0,1645.4 536.0,1647.5 537.7,1648.2 C539.4,1649.0 539.4,1651.1 537.7,1651.8 M542.3,1613.5 C544.0,1614.2 544.0,1616.2 542.3,1616.9 C540.6,1617.6 540.6,1619.6 542.3,1620.3 C544.0,1621.0 544.0,1623.0 542.3,1623.7 C540.6,1624.4 540.6,1626.4 542.3,1627.1 C544.0,1627.8 544.0,1629.8 542.3,1630.5 M542.3,1634.0 C544.0,1634.7 544.0,1636.8 542.3,1637.6 C540.6,1638.3 540.6,1640.4 542.3,1641.1 C544.0,1641.8 544.0,1644.0 542.3,1644.7 C540.6,1645.4 540.6,1647.5 542.3,1648.2 C544.0,1649.0 544.0,1651.1 542.3,1651.8 M549.8,1613.5 C551.5,1614.2 551.5,1616.2 549.8,1616.9 C548.1,1617.6 548.1,1619.6 549.8,1620.3 C551.5,1621.0 551.5,1623.0 549.8,1623.7 C548.1,1624.4 548.1,1626.4 549.8,1627.1 C551.5,1627.8 551.5,1629.8 549.8,1630.5 M549.8,1634.0 C551.5,1634.7 551.5,1636.8 549.8,1637.6 C548.1,1638.3 548.1,1640.4 549.8,1641.1 C551.5,1641.8 551.5,1644.0 549.8,1644.7 C548.1,1645.4 548.1,1647.5 549.8,1648.2 C551.5,1649.0 551.5,1651.1 549.8,1651.8 M554.4,1613.5 C556.1,1614.2 556.1,1616.2 554.4,1616.9 C552.7,1617.6 552.7,1619.6 554.4,1620.3 C556.1,1621.0 556.1,1623.0 554.4,1623.7 C552.7,1624.4 552.7,1626.4 554.4,1627.1 C556.1,1627.8 556.1,1629.8 554.4,1630.5 M554.4,1634.0 C556.1,1634.7 556.1,1636.8 554.4,1637.6 C552.7,1638.3 552.7,1640.4 554.4,1641.1 C556.1,1641.8 556.1,1644.0 554.4,1644.7 C552.7,1645.4 552.7,1647.5 554.4,1648.2 C556.1,1649.0 556.1,1651.1 554.4,1651.8 M561.9,1613.5 C563.6,1614.2 563.6,1616.2 561.9,1616.9 C560.2,1617.6 560.2,1619.6 561.9,1620.3 C563.6,1621.0 563.6,1623.0 561.9,1623.7 C560.2,1624.4 560.2,1626.4 561.9,1627.1 C563.6,1627.8 563.6,1629.8 561.9,1630.5 M561.9,1634.0 C563.6,1634.7 563.6,1636.8 561.9,1637.6 C560.2,1638.3 560.2,1640.4 561.9,1641.1 C563.6,1641.8 563.6,1644.0 561.9,1644.7 C560.2,1645.4 560.2,1647.5 561.9,1648.2 C563.6,1649.0 563.6,1651.1 561.9,1651.8 M566.5,1613.5 C568.2,1614.2 568.2,1616.2 566.5,1616.9 C564.8,1617.6 564.8,1619.6 566.5,1620.3 C568.2,1621.0 568.2,1623.0 566.5,1623.7 C564.8,1624.4 564.8,1626.4 566.5,1627.1 C568.2,1627.8 568.2,1629.8 566.5,1630.5 M566.5,1634.0 C568.2,1634.7 568.2,1636.8 566.5,1637.6 C564.8,1638.3 564.8,1640.4 566.5,1641.1 C568.2,1641.8 568.2,1644.0 566.5,1644.7 C564.8,1645.4 564.8,1647.5 566.5,1648.2 C568.2,1649.0 568.2,1651.1 566.5,1651.8 M574.0,1613.5 C575.7,1614.2 575.7,1616.2 574.0,1616.9 C572.3,1617.6 572.3,1619.6 574.0,1620.3 C575.7,1621.0 575.7,1623.0 574.0,1623.7 C572.3,1624.4 572.3,1626.4 574.0,1627.1 C575.7,1627.8 575.7,1629.8 574.0,1630.5 M574.0,1634.0 C575.7,1634.7 575.7,1636.8 574.0,1637.6 C572.3,1638.3 572.3,1640.4 574.0,1641.1 C575.7,1641.8 575.7,1644.0 574.0,1644.7 C572.3,1645.4 572.3,1647.5 574.0,1648.2 C575.7,1649.0 575.7,1651.1 574.0,1651.8 M578.6,1613.5 C580.3,1614.2 580.3,1616.2 578.6,1616.9 C576.9,1617.6 576.9,1619.6 578.6,1620.3 C580.3,1621.0 580.3,1623.0 578.6,1623.7 C576.9,1624.4 576.9,1626.4 578.6,1627.1 C580.3,1627.8 580.3,1629.8 578.6,1630.5 M578.6,1634.0 C580.3,1634.7 580.3,1636.8 578.6,1637.6 C576.9,1638.3 576.9,1640.4 578.6,1641.1 C580.3,1641.8 580.3,1644.0 578.6,1644.7 C576.9,1645.4 576.9,1647.5 578.6,1648.2 C580.3,1649.0 580.3,1651.1 578.6,1651.8 M586.1,1613.5 C587.8,1614.2 587.8,1616.2 586.1,1616.9 C584.4,1617.6 584.4,1619.6 586.1,1620.3 C587.8,1621.0 587.8,1623.0 586.1,1623.7 C584.4,1624.4 584.4,1626.4 586.1,1627.1 C587.8,1627.8 587.8,1629.8 586.1,1630.5 M586.1,1634.0 C587.8,1634.7 587.8,1636.8 586.1,1637.6 C584.4,1638.3 584.4,1640.4 586.1,1641.1 C587.8,1641.8 587.8,1644.0 586.1,1644.7 C584.4,1645.4 584.4,1647.5 586.1,1648.2 C587.8,1649.0 587.8,1651.1 586.1,1651.8 M590.7,1613.5 C592.4,1614.2 592.4,1616.2 590.7,1616.9 C589.0,1617.6 589.0,1619.6 590.7,1620.3 C592.4,1621.0 592.4,1623.0 590.7,1623.7 C589.0,1624.4 589.0,1626.4 590.7,1627.1 C592.4,1627.8 592.4,1629.8 590.7,1630.5 M590.7,1634.0 C592.4,1634.7 592.4,1636.8 590.7,1637.6 C589.0,1638.3 589.0,1640.4 590.7,1641.1 C592.4,1641.8 592.4,1644.0 590.7,1644.7 C589.0,1645.4 589.0,1647.5 590.7,1648.2 C592.4,1649.0 592.4,1651.1 590.7,1651.8" fill="none" stroke="#f3dc8c" stroke-width="1.5"/>
<circle cx="177.0" cy="1606.5" r="6.2" fill="url(#phead)"/>
<circle cx="189.1" cy="1606.5" r="6.2" fill="url(#phead)"/>
<circle cx="201.2" cy="1606.5" r="6.2" fill="url(#phead)"/>
<circle cx="213.3" cy="1606.5" r="6.2" fill="url(#phead)"/>
<circle cx="225.4" cy="1606.5" r="6.2" fill="url(#phead)"/>
<circle cx="237.5" cy="1606.5" r="6.2" fill="url(#phead)"/>
<circle cx="249.6" cy="1606.5" r="6.2" fill="url(#phead)"/>
<circle cx="261.7" cy="1606.5" r="6.2" fill="url(#phead)"/>
<circle cx="273.8" cy="1606.5" r="6.2" fill="url(#phead)"/>
<circle cx="285.9" cy="1606.5" r="6.2" fill="url(#phead)"/>
<circle cx="298.0" cy="1606.5" r="6.2" fill="url(#phead)"/>
<circle cx="310.1" cy="1606.5" r="6.2" fill="url(#phead)"/>
<circle cx="322.2" cy="1606.5" r="6.2" fill="url(#phead)"/>
<circle cx="334.3" cy="1606.5" r="6.2" fill="url(#phead)"/>
<circle cx="346.4" cy="1606.5" r="6.2" fill="url(#phead)"/>
<circle cx="358.5" cy="1606.5" r="6.2" fill="url(#phead)"/>
<circle cx="370.6" cy="1606.5" r="6.2" fill="url(#phead)"/>
<circle cx="382.7" cy="1606.5" r="6.2" fill="url(#phead)"/>
<circle cx="394.8" cy="1606.5" r="6.2" fill="url(#phead)"/>
<circle cx="406.9" cy="1606.5" r="6.2" fill="url(#phead)"/>
<circle cx="419.0" cy="1606.5" r="6.2" fill="url(#phead)"/>
<circle cx="431.1" cy="1606.5" r="6.2" fill="url(#phead)"/>
<circle cx="443.2" cy="1606.5" r="6.2" fill="url(#phead)"/>
<circle cx="455.3" cy="1606.5" r="6.2" fill="url(#phead)"/>
<circle cx="467.4" cy="1606.5" r="6.2" fill="url(#phead)"/>
<circle cx="479.5" cy="1606.5" r="6.2" fill="url(#phead)"/>
<circle cx="491.6" cy="1606.5" r="6.2" fill="url(#phead)"/>
<circle cx="503.7" cy="1606.5" r="6.2" fill="url(#phead)"/>
<circle cx="515.8" cy="1606.5" r="6.2" fill="url(#phead)"/>
<circle cx="527.9" cy="1606.5" r="6.2" fill="url(#phead)"/>
<circle cx="540.0" cy="1606.5" r="6.2" fill="url(#phead)"/>
<circle cx="552.1" cy="1606.5" r="6.2" fill="url(#phead)"/>
<circle cx="564.2" cy="1606.5" r="6.2" fill="url(#phead)"/>
<circle cx="576.3" cy="1606.5" r="6.2" fill="url(#phead)"/>
<circle cx="588.4" cy="1606.5" r="6.2" fill="url(#phead)"/>
<circle cx="177.0" cy="1657.5" r="6.2" fill="url(#phead)"/>
<circle cx="189.1" cy="1657.5" r="6.2" fill="url(#phead)"/>
<circle cx="201.2" cy="1657.5" r="6.2" fill="url(#phead)"/>
<circle cx="213.3" cy="1657.5" r="6.2" fill="url(#phead)"/>
<circle cx="225.4" cy="1657.5" r="6.2" fill="url(#phead)"/>
<circle cx="237.5" cy="1657.5" r="6.2" fill="url(#phead)"/>
<circle cx="249.6" cy="1657.5" r="6.2" fill="url(#phead)"/>
<circle cx="261.7" cy="1657.5" r="6.2" fill="url(#phead)"/>
<circle cx="273.8" cy="1657.5" r="6.2" fill="url(#phead)"/>
<circle cx="285.9" cy="1657.5" r="6.2" fill="url(#phead)"/>
<circle cx="298.0" cy="1657.5" r="6.2" fill="url(#phead)"/>
<circle cx="310.1" cy="1657.5" r="6.2" fill="url(#phead)"/>
<circle cx="322.2" cy="1657.5" r="6.2" fill="url(#phead)"/>
<circle cx="334.3" cy="1657.5" r="6.2" fill="url(#phead)"/>
<circle cx="346.4" cy="1657.5" r="6.2" fill="url(#phead)"/>
<circle cx="358.5" cy="1657.5" r="6.2" fill="url(#phead)"/>
<circle cx="370.6" cy="1657.5" r="6.2" fill="url(#phead)"/>
<circle cx="382.7" cy="1657.5" r="6.2" fill="url(#phead)"/>
<circle cx="394.8" cy="1657.5" r="6.2" fill="url(#phead)"/>
<circle cx="406.9" cy="1657.5" r="6.2" fill="url(#phead)"/>
<circle cx="419.0" cy="1657.5" r="6.2" fill="url(#phead)"/>
<circle cx="431.1" cy="1657.5" r="6.2" fill="url(#phead)"/>
<circle cx="443.2" cy="1657.5" r="6.2" fill="url(#phead)"/>
<circle cx="455.3" cy="1657.5" r="6.2" fill="url(#phead)"/>
<circle cx="467.4" cy="1657.5" r="6.2" fill="url(#phead)"/>
<circle cx="479.5" cy="1657.5" r="6.2" fill="url(#phead)"/>
<circle cx="491.6" cy="1657.5" r="6.2" fill="url(#phead)"/>
<circle cx="503.7" cy="1657.5" r="6.2" fill="url(#phead)"/>
<circle cx="515.8" cy="1657.5" r="6.2" fill="url(#phead)"/>
<circle cx="527.9" cy="1657.5" r="6.2" fill="url(#phead)"/>
<circle cx="540.0" cy="1657.5" r="6.2" fill="url(#phead)"/>
<circle cx="552.1" cy="1657.5" r="6.2" fill="url(#phead)"/>
<circle cx="564.2" cy="1657.5" r="6.2" fill="url(#phead)"/>
<circle cx="576.3" cy="1657.5" r="6.2" fill="url(#phead)"/>
<circle cx="588.4" cy="1657.5" r="6.2" fill="url(#phead)"/>
<g transform="translate(174,1347.5)"><path d="M75.3,251.3 C78,244 92,242 96,249 L102.4,249 C106,242 120,243 123.5,252.5 C127,268 140,295 151.8,314.9 C158,326 162,338 159,346 C155,354 143,355 136.5,350.1 C133,353 126,351 125.9,345.5 C126,338 126,332 123.5,328 C117,318 108,316 100,317.2 C92,317 83,320 77,328 C73,333 74,340 74,345.5 C73.5,351 67,353 63.5,350.1 C57,355 45,354 41,346 C37,338 41,326 47,314.9 C58,295 71,268 75.3,251.3 Z" fill="url(#porM)" stroke="#2a2a2a" stroke-width="1.1"/><path d="M75.3,251.3 C78,244 92,242 95.9,251.3 C92,268 89,282 84.7,294.9 C78,308 70,316 64.7,324.3 C62,332 62,342 63.5,350.1 C57,355 45,354 41,346 C37,338 41,326 47,314.9 C58,295 71,268 75.3,251.3 Z" fill="url(#porL)" stroke="#2a2a2a" stroke-width="1.1"/><path d="M102.4,251.3 C106,243 120,243 123.5,252.5 C127,268 140,295 151.8,314.9 C158,326 162,338 159,346 C155,354 143,355 136.5,350.1 C138,342 138,332 134,324.3 C128,316 120,308 113,294.9 C109,282 106,268 102.4,251.3 Z" fill="url(#porL)" stroke="#2a2a2a" stroke-width="1.1"/><text x="80" y="353.5" font-family="Liberation Sans, sans-serif" font-size="20" font-weight="bold" fill="#fff">ATP</text><polygon points="84.7,240.9 57.8,189.3 66.5,193.4 49.9,180.0 51.4,201.3 53.0,191.8 79.9,243.5" fill="#f7cc48" stroke="#2a2a2a" stroke-width="1" stroke-linejoin="miter"/><polygon points="148.8,178.9 125.3,231.5 123.2,222.2 123.0,243.5 138.7,229.1 130.4,233.8 153.8,181.1" fill="#f7cc48" stroke="#2a2a2a" stroke-width="1" stroke-linejoin="miter"/><circle cx="37.7" cy="158.4" r="10.3" fill="url(#pb_y)" stroke="#1a1a1a" stroke-width="1.3"/><circle cx="62.0" cy="166.5" r="10.3" fill="url(#pb_y)" stroke="#1a1a1a" stroke-width="1.3"/><circle cx="32.3" cy="184.1" r="10.3" fill="url(#pb_y)" stroke="#1a1a1a" stroke-width="1.3"/><circle cx="135.0" cy="167.8" r="10.8" fill="url(#pb_p)" stroke="#1a1a1a" stroke-width="1.3"/><circle cx="163.5" cy="162.5" r="10.8" fill="url(#pb_p)" stroke="#1a1a1a" stroke-width="1.3"/><polygon points="48.5,387.7 56.2,358.7 59.8,367.6 56.6,346.5 43.3,363.2 50.9,357.3 43.1,386.3" fill="#f7cc48" stroke="#2a2a2a" stroke-width="1" stroke-linejoin="miter"/><polygon points="135.1,349.6 140.9,378.6 133.8,372.2 146.0,389.7 150.5,368.9 146.3,377.5 140.5,348.6" fill="#f7cc48" stroke="#2a2a2a" stroke-width="1" stroke-linejoin="miter"/><circle cx="30.4" cy="393.8" r="10.3" fill="url(#pb_y)" stroke="#1a1a1a" stroke-width="1.3"/><circle cx="52.0" cy="405.9" r="10.3" fill="url(#pb_y)" stroke="#1a1a1a" stroke-width="1.3"/><circle cx="36.9" cy="424.9" r="10.3" fill="url(#pb_y)" stroke="#1a1a1a" stroke-width="1.3"/><circle cx="165.7" cy="396.5" r="10.8" fill="url(#pb_p)" stroke="#1a1a1a" stroke-width="1.3"/><circle cx="141.9" cy="414.0" r="10.8" fill="url(#pb_p)" stroke="#1a1a1a" stroke-width="1.3"/><text x="28.8" y="48.8" font-family="Liberation Sans, sans-serif" font-size="21.5" fill="#111" stroke="#111" stroke-width="0.95">Primary active</text><text x="52.6" y="138.9" font-family="Liberation Sans, sans-serif" font-size="20" fill="#111">3Na<tspan dx="1.5" dy="-5" font-size="19">+</tspan></text><text x="150" y="138.9" font-family="Liberation Sans, sans-serif" font-size="20" fill="#111">2K<tspan dx="1.5" dy="-5" font-size="19">+</tspan></text></g>
<g transform="translate(174,1347.5)"><path d="M259.2,250 C262,238 290,232.5 313.5,232.8 C338,233 362,238 364.6,251 L340.7,249.7 C341,262 340,275 329.2,298.3 C323,306 318,309 313.1,311.5 C308,309 302,306 297,298.3 C286,275 285,262 283.9,249.7 Z" fill="url(#pblM)" stroke="#1a2a40" stroke-width="1"/><path d="M258.4,251.3 C258,243 266,242 270.7,242.7 C278,242 284,246 283.9,249.7 C285,262 285,272 285.5,271.9 C290,285 296,296 297,298.3 C303,306 310,309 312.7,313.1 L312.7,344.5 C311,352 306,355.5 302,355.1 C294,355 289,352 287.2,351 L260,278.5 C258.5,270 258.4,260 258.4,251.3 Z" fill="url(#pblL)" stroke="#1a2a40" stroke-width="1"/><path d="M367.6,253.8 C367,243 360,243 353.9,243.1 C346,243 341,246 340.7,249.7 C341,262 341,272 340.3,271.9 C336,285 330,296 329.2,298.3 C323,306 316,309 313.5,313.1 L313.5,344.5 C315,352 320,355.5 324,355.1 C332,355 337,352 339,351 L367,278.5 C368,270 367.6,260 367.6,253.8 Z" fill="url(#pblL)" stroke="#1a2a40" stroke-width="1"/></g>
</g>
<g clip-path="url(#clB)">
<rect x="617" y="1347.5" width="405.7" height="478" fill="#d3e3f5"/>
<rect x="617" y="1347.5" width="405.7" height="2" fill="#c5d3e2"/>
<rect x="617" y="1609.5" width="405.7" height="216" fill="url(#pcyto)"/>
<rect x="617" y="1606.5" width="405.7" height="51" fill="#2c5993"/>
<path d="M617.7,1613.5 C619.4,1614.2 619.4,1616.2 617.7,1616.9 C616.0,1617.6 616.0,1619.6 617.7,1620.3 C619.4,1621.0 619.4,1623.0 617.7,1623.7 C616.0,1624.4 616.0,1626.4 617.7,1627.1 C619.4,1627.8 619.4,1629.8 617.7,1630.5 M617.7,1634.0 C619.4,1634.7 619.4,1636.8 617.7,1637.6 C616.0,1638.3 616.0,1640.4 617.7,1641.1 C619.4,1641.8 619.4,1644.0 617.7,1644.7 C616.0,1645.4 616.0,1647.5 617.7,1648.2 C619.4,1649.0 619.4,1651.1 617.7,1651.8 M622.3,1613.5 C624.0,1614.2 624.0,1616.2 622.3,1616.9 C620.6,1617.6 620.6,1619.6 622.3,1620.3 C624.0,1621.0 624.0,1623.0 622.3,1623.7 C620.6,1624.4 620.6,1626.4 622.3,1627.1 C624.0,1627.8 624.0,1629.8 622.3,1630.5 M622.3,1634.0 C624.0,1634.7 624.0,1636.8 622.3,1637.6 C620.6,1638.3 620.6,1640.4 622.3,1641.1 C624.0,1641.8 624.0,1644.0 622.3,1644.7 C620.6,1645.4 620.6,1647.5 622.3,1648.2 C624.0,1649.0 624.0,1651.1 622.3,1651.8 M629.8,1613.5 C631.5,1614.2 631.5,1616.2 629.8,1616.9 C628.1,1617.6 628.1,1619.6 629.8,1620.3 C631.5,1621.0 631.5,1623.0 629.8,1623.7 C628.1,1624.4 628.1,1626.4 629.8,1627.1 C631.5,1627.8 631.5,1629.8 629.8,1630.5 M629.8,1634.0 C631.5,1634.7 631.5,1636.8 629.8,1637.6 C628.1,1638.3 628.1,1640.4 629.8,1641.1 C631.5,1641.8 631.5,1644.0 629.8,1644.7 C628.1,1645.4 628.1,1647.5 629.8,1648.2 C631.5,1649.0 631.5,1651.1 629.8,1651.8 M634.4,1613.5 C636.1,1614.2 636.1,1616.2 634.4,1616.9 C632.7,1617.6 632.7,1619.6 634.4,1620.3 C636.1,1621.0 636.1,1623.0 634.4,1623.7 C632.7,1624.4 632.7,1626.4 634.4,1627.1 C636.1,1627.8 636.1,1629.8 634.4,1630.5 M634.4,1634.0 C636.1,1634.7 636.1,1636.8 634.4,1637.6 C632.7,1638.3 632.7,1640.4 634.4,1641.1 C636.1,1641.8 636.1,1644.0 634.4,1644.7 C632.7,1645.4 632.7,1647.5 634.4,1648.2 C636.1,1649.0 636.1,1651.1 634.4,1651.8 M641.9,1613.5 C643.6,1614.2 643.6,1616.2 641.9,1616.9 C640.2,1617.6 640.2,1619.6 641.9,1620.3 C643.6,1621.0 643.6,1623.0 641.9,1623.7 C640.2,1624.4 640.2,1626.4 641.9,1627.1 C643.6,1627.8 643.6,1629.8 641.9,1630.5 M641.9,1634.0 C643.6,1634.7 643.6,1636.8 641.9,1637.6 C640.2,1638.3 640.2,1640.4 641.9,1641.1 C643.6,1641.8 643.6,1644.0 641.9,1644.7 C640.2,1645.4 640.2,1647.5 641.9,1648.2 C643.6,1649.0 643.6,1651.1 641.9,1651.8 M646.5,1613.5 C648.2,1614.2 648.2,1616.2 646.5,1616.9 C644.8,1617.6 644.8,1619.6 646.5,1620.3 C648.2,1621.0 648.2,1623.0 646.5,1623.7 C644.8,1624.4 644.8,1626.4 646.5,1627.1 C648.2,1627.8 648.2,1629.8 646.5,1630.5 M646.5,1634.0 C648.2,1634.7 648.2,1636.8 646.5,1637.6 C644.8,1638.3 644.8,1640.4 646.5,1641.1 C648.2,1641.8 648.2,1644.0 646.5,1644.7 C644.8,1645.4 644.8,1647.5 646.5,1648.2 C648.2,1649.0 648.2,1651.1 646.5,1651.8 M654.0,1613.5 C655.7,1614.2 655.7,1616.2 654.0,1616.9 C652.3,1617.6 652.3,1619.6 654.0,1620.3 C655.7,1621.0 655.7,1623.0 654.0,1623.7 C652.3,1624.4 652.3,1626.4 654.0,1627.1 C655.7,1627.8 655.7,1629.8 654.0,1630.5 M654.0,1634.0 C655.7,1634.7 655.7,1636.8 654.0,1637.6 C652.3,1638.3 652.3,1640.4 654.0,1641.1 C655.7,1641.8 655.7,1644.0 654.0,1644.7 C652.3,1645.4 652.3,1647.5 654.0,1648.2 C655.7,1649.0 655.7,1651.1 654.0,1651.8 M658.6,1613.5 C660.3,1614.2 660.3,1616.2 658.6,1616.9 C656.9,1617.6 656.9,1619.6 658.6,1620.3 C660.3,1621.0 660.3,1623.0 658.6,1623.7 C656.9,1624.4 656.9,1626.4 658.6,1627.1 C660.3,1627.8 660.3,1629.8 658.6,1630.5 M658.6,1634.0 C660.3,1634.7 660.3,1636.8 658.6,1637.6 C656.9,1638.3 656.9,1640.4 658.6,1641.1 C660.3,1641.8 660.3,1644.0 658.6,1644.7 C656.9,1645.4 656.9,1647.5 658.6,1648.2 C660.3,1649.0 660.3,1651.1 658.6,1651.8 M666.1,1613.5 C667.8,1614.2 667.8,1616.2 666.1,1616.9 C664.4,1617.6 664.4,1619.6 666.1,1620.3 C667.8,1621.0 667.8,1623.0 666.1,1623.7 C664.4,1624.4 664.4,1626.4 666.1,1627.1 C667.8,1627.8 667.8,1629.8 666.1,1630.5 M666.1,1634.0 C667.8,1634.7 667.8,1636.8 666.1,1637.6 C664.4,1638.3 664.4,1640.4 666.1,1641.1 C667.8,1641.8 667.8,1644.0 666.1,1644.7 C664.4,1645.4 664.4,1647.5 666.1,1648.2 C667.8,1649.0 667.8,1651.1 666.1,1651.8 M670.7,1613.5 C672.4,1614.2 672.4,1616.2 670.7,1616.9 C669.0,1617.6 669.0,1619.6 670.7,1620.3 C672.4,1621.0 672.4,1623.0 670.7,1623.7 C669.0,1624.4 669.0,1626.4 670.7,1627.1 C672.4,1627.8 672.4,1629.8 670.7,1630.5 M670.7,1634.0 C672.4,1634.7 672.4,1636.8 670.7,1637.6 C669.0,1638.3 669.0,1640.4 670.7,1641.1 C672.4,1641.8 672.4,1644.0 670.7,1644.7 C669.0,1645.4 669.0,1647.5 670.7,1648.2 C672.4,1649.0 672.4,1651.1 670.7,1651.8 M678.2,1613.5 C679.9,1614.2 679.9,1616.2 678.2,1616.9 C676.5,1617.6 676.5,1619.6 678.2,1620.3 C679.9,1621.0 679.9,1623.0 678.2,1623.7 C676.5,1624.4 676.5,1626.4 678.2,1627.1 C679.9,1627.8 679.9,1629.8 678.2,1630.5 M678.2,1634.0 C679.9,1634.7 679.9,1636.8 678.2,1637.6 C676.5,1638.3 676.5,1640.4 678.2,1641.1 C679.9,1641.8 679.9,1644.0 678.2,1644.7 C676.5,1645.4 676.5,1647.5 678.2,1648.2 C679.9,1649.0 679.9,1651.1 678.2,1651.8 M682.8,1613.5 C684.5,1614.2 684.5,1616.2 682.8,1616.9 C681.1,1617.6 681.1,1619.6 682.8,1620.3 C684.5,1621.0 684.5,1623.0 682.8,1623.7 C681.1,1624.4 681.1,1626.4 682.8,1627.1 C684.5,1627.8 684.5,1629.8 682.8,1630.5 M682.8,1634.0 C684.5,1634.7 684.5,1636.8 682.8,1637.6 C681.1,1638.3 681.1,1640.4 682.8,1641.1 C684.5,1641.8 684.5,1644.0 682.8,1644.7 C681.1,1645.4 681.1,1647.5 682.8,1648.2 C684.5,1649.0 684.5,1651.1 682.8,1651.8 M690.3,1613.5 C692.0,1614.2 692.0,1616.2 690.3,1616.9 C688.6,1617.6 688.6,1619.6 690.3,1620.3 C692.0,1621.0 692.0,1623.0 690.3,1623.7 C688.6,1624.4 688.6,1626.4 690.3,1627.1 C692.0,1627.8 692.0,1629.8 690.3,1630.5 M690.3,1634.0 C692.0,1634.7 692.0,1636.8 690.3,1637.6 C688.6,1638.3 688.6,1640.4 690.3,1641.1 C692.0,1641.8 692.0,1644.0 690.3,1644.7 C688.6,1645.4 688.6,1647.5 690.3,1648.2 C692.0,1649.0 692.0,1651.1 690.3,1651.8 M694.9,1613.5 C696.6,1614.2 696.6,1616.2 694.9,1616.9 C693.2,1617.6 693.2,1619.6 694.9,1620.3 C696.6,1621.0 696.6,1623.0 694.9,1623.7 C693.2,1624.4 693.2,1626.4 694.9,1627.1 C696.6,1627.8 696.6,1629.8 694.9,1630.5 M694.9,1634.0 C696.6,1634.7 696.6,1636.8 694.9,1637.6 C693.2,1638.3 693.2,1640.4 694.9,1641.1 C696.6,1641.8 696.6,1644.0 694.9,1644.7 C693.2,1645.4 693.2,1647.5 694.9,1648.2 C696.6,1649.0 696.6,1651.1 694.9,1651.8 M702.4,1613.5 C704.1,1614.2 704.1,1616.2 702.4,1616.9 C700.7,1617.6 700.7,1619.6 702.4,1620.3 C704.1,1621.0 704.1,1623.0 702.4,1623.7 C700.7,1624.4 700.7,1626.4 702.4,1627.1 C704.1,1627.8 704.1,1629.8 702.4,1630.5 M702.4,1634.0 C704.1,1634.7 704.1,1636.8 702.4,1637.6 C700.7,1638.3 700.7,1640.4 702.4,1641.1 C704.1,1641.8 704.1,1644.0 702.4,1644.7 C700.7,1645.4 700.7,1647.5 702.4,1648.2 C704.1,1649.0 704.1,1651.1 702.4,1651.8 M707.0,1613.5 C708.7,1614.2 708.7,1616.2 707.0,1616.9 C705.3,1617.6 705.3,1619.6 707.0,1620.3 C708.7,1621.0 708.7,1623.0 707.0,1623.7 C705.3,1624.4 705.3,1626.4 707.0,1627.1 C708.7,1627.8 708.7,1629.8 707.0,1630.5 M707.0,1634.0 C708.7,1634.7 708.7,1636.8 707.0,1637.6 C705.3,1638.3 705.3,1640.4 707.0,1641.1 C708.7,1641.8 708.7,1644.0 707.0,1644.7 C705.3,1645.4 705.3,1647.5 707.0,1648.2 C708.7,1649.0 708.7,1651.1 707.0,1651.8 M714.5,1613.5 C716.2,1614.2 716.2,1616.2 714.5,1616.9 C712.8,1617.6 712.8,1619.6 714.5,1620.3 C716.2,1621.0 716.2,1623.0 714.5,1623.7 C712.8,1624.4 712.8,1626.4 714.5,1627.1 C716.2,1627.8 716.2,1629.8 714.5,1630.5 M714.5,1634.0 C716.2,1634.7 716.2,1636.8 714.5,1637.6 C712.8,1638.3 712.8,1640.4 714.5,1641.1 C716.2,1641.8 716.2,1644.0 714.5,1644.7 C712.8,1645.4 712.8,1647.5 714.5,1648.2 C716.2,1649.0 716.2,1651.1 714.5,1651.8 M719.1,1613.5 C720.8,1614.2 720.8,1616.2 719.1,1616.9 C717.4,1617.6 717.4,1619.6 719.1,1620.3 C720.8,1621.0 720.8,1623.0 719.1,1623.7 C717.4,1624.4 717.4,1626.4 719.1,1627.1 C720.8,1627.8 720.8,1629.8 719.1,1630.5 M719.1,1634.0 C720.8,1634.7 720.8,1636.8 719.1,1637.6 C717.4,1638.3 717.4,1640.4 719.1,1641.1 C720.8,1641.8 720.8,1644.0 719.1,1644.7 C717.4,1645.4 717.4,1647.5 719.1,1648.2 C720.8,1649.0 720.8,1651.1 719.1,1651.8 M726.6,1613.5 C728.3,1614.2 728.3,1616.2 726.6,1616.9 C724.9,1617.6 724.9,1619.6 726.6,1620.3 C728.3,1621.0 728.3,1623.0 726.6,1623.7 C724.9,1624.4 724.9,1626.4 726.6,1627.1 C728.3,1627.8 728.3,1629.8 726.6,1630.5 M726.6,1634.0 C728.3,1634.7 728.3,1636.8 726.6,1637.6 C724.9,1638.3 724.9,1640.4 726.6,1641.1 C728.3,1641.8 728.3,1644.0 726.6,1644.7 C724.9,1645.4 724.9,1647.5 726.6,1648.2 C728.3,1649.0 728.3,1651.1 726.6,1651.8 M731.2,1613.5 C732.9,1614.2 732.9,1616.2 731.2,1616.9 C729.5,1617.6 729.5,1619.6 731.2,1620.3 C732.9,1621.0 732.9,1623.0 731.2,1623.7 C729.5,1624.4 729.5,1626.4 731.2,1627.1 C732.9,1627.8 732.9,1629.8 731.2,1630.5 M731.2,1634.0 C732.9,1634.7 732.9,1636.8 731.2,1637.6 C729.5,1638.3 729.5,1640.4 731.2,1641.1 C732.9,1641.8 732.9,1644.0 731.2,1644.7 C729.5,1645.4 729.5,1647.5 731.2,1648.2 C732.9,1649.0 732.9,1651.1 731.2,1651.8 M738.7,1613.5 C740.4,1614.2 740.4,1616.2 738.7,1616.9 C737.0,1617.6 737.0,1619.6 738.7,1620.3 C740.4,1621.0 740.4,1623.0 738.7,1623.7 C737.0,1624.4 737.0,1626.4 738.7,1627.1 C740.4,1627.8 740.4,1629.8 738.7,1630.5 M738.7,1634.0 C740.4,1634.7 740.4,1636.8 738.7,1637.6 C737.0,1638.3 737.0,1640.4 738.7,1641.1 C740.4,1641.8 740.4,1644.0 738.7,1644.7 C737.0,1645.4 737.0,1647.5 738.7,1648.2 C740.4,1649.0 740.4,1651.1 738.7,1651.8 M743.3,1613.5 C745.0,1614.2 745.0,1616.2 743.3,1616.9 C741.6,1617.6 741.6,1619.6 743.3,1620.3 C745.0,1621.0 745.0,1623.0 743.3,1623.7 C741.6,1624.4 741.6,1626.4 743.3,1627.1 C745.0,1627.8 745.0,1629.8 743.3,1630.5 M743.3,1634.0 C745.0,1634.7 745.0,1636.8 743.3,1637.6 C741.6,1638.3 741.6,1640.4 743.3,1641.1 C745.0,1641.8 745.0,1644.0 743.3,1644.7 C741.6,1645.4 741.6,1647.5 743.3,1648.2 C745.0,1649.0 745.0,1651.1 743.3,1651.8 M750.8,1613.5 C752.5,1614.2 752.5,1616.2 750.8,1616.9 C749.1,1617.6 749.1,1619.6 750.8,1620.3 C752.5,1621.0 752.5,1623.0 750.8,1623.7 C749.1,1624.4 749.1,1626.4 750.8,1627.1 C752.5,1627.8 752.5,1629.8 750.8,1630.5 M750.8,1634.0 C752.5,1634.7 752.5,1636.8 750.8,1637.6 C749.1,1638.3 749.1,1640.4 750.8,1641.1 C752.5,1641.8 752.5,1644.0 750.8,1644.7 C749.1,1645.4 749.1,1647.5 750.8,1648.2 C752.5,1649.0 752.5,1651.1 750.8,1651.8 M755.4,1613.5 C757.1,1614.2 757.1,1616.2 755.4,1616.9 C753.7,1617.6 753.7,1619.6 755.4,1620.3 C757.1,1621.0 757.1,1623.0 755.4,1623.7 C753.7,1624.4 753.7,1626.4 755.4,1627.1 C757.1,1627.8 757.1,1629.8 755.4,1630.5 M755.4,1634.0 C757.1,1634.7 757.1,1636.8 755.4,1637.6 C753.7,1638.3 753.7,1640.4 755.4,1641.1 C757.1,1641.8 757.1,1644.0 755.4,1644.7 C753.7,1645.4 753.7,1647.5 755.4,1648.2 C757.1,1649.0 757.1,1651.1 755.4,1651.8 M762.9,1613.5 C764.6,1614.2 764.6,1616.2 762.9,1616.9 C761.2,1617.6 761.2,1619.6 762.9,1620.3 C764.6,1621.0 764.6,1623.0 762.9,1623.7 C761.2,1624.4 761.2,1626.4 762.9,1627.1 C764.6,1627.8 764.6,1629.8 762.9,1630.5 M762.9,1634.0 C764.6,1634.7 764.6,1636.8 762.9,1637.6 C761.2,1638.3 761.2,1640.4 762.9,1641.1 C764.6,1641.8 764.6,1644.0 762.9,1644.7 C761.2,1645.4 761.2,1647.5 762.9,1648.2 C764.6,1649.0 764.6,1651.1 762.9,1651.8 M767.5,1613.5 C769.2,1614.2 769.2,1616.2 767.5,1616.9 C765.8,1617.6 765.8,1619.6 767.5,1620.3 C769.2,1621.0 769.2,1623.0 767.5,1623.7 C765.8,1624.4 765.8,1626.4 767.5,1627.1 C769.2,1627.8 769.2,1629.8 767.5,1630.5 M767.5,1634.0 C769.2,1634.7 769.2,1636.8 767.5,1637.6 C765.8,1638.3 765.8,1640.4 767.5,1641.1 C769.2,1641.8 769.2,1644.0 767.5,1644.7 C765.8,1645.4 765.8,1647.5 767.5,1648.2 C769.2,1649.0 769.2,1651.1 767.5,1651.8 M775.0,1613.5 C776.7,1614.2 776.7,1616.2 775.0,1616.9 C773.3,1617.6 773.3,1619.6 775.0,1620.3 C776.7,1621.0 776.7,1623.0 775.0,1623.7 C773.3,1624.4 773.3,1626.4 775.0,1627.1 C776.7,1627.8 776.7,1629.8 775.0,1630.5 M775.0,1634.0 C776.7,1634.7 776.7,1636.8 775.0,1637.6 C773.3,1638.3 773.3,1640.4 775.0,1641.1 C776.7,1641.8 776.7,1644.0 775.0,1644.7 C773.3,1645.4 773.3,1647.5 775.0,1648.2 C776.7,1649.0 776.7,1651.1 775.0,1651.8 M779.6,1613.5 C781.3,1614.2 781.3,1616.2 779.6,1616.9 C777.9,1617.6 777.9,1619.6 779.6,1620.3 C781.3,1621.0 781.3,1623.0 779.6,1623.7 C777.9,1624.4 777.9,1626.4 779.6,1627.1 C781.3,1627.8 781.3,1629.8 779.6,1630.5 M779.6,1634.0 C781.3,1634.7 781.3,1636.8 779.6,1637.6 C777.9,1638.3 777.9,1640.4 779.6,1641.1 C781.3,1641.8 781.3,1644.0 779.6,1644.7 C777.9,1645.4 777.9,1647.5 779.6,1648.2 C781.3,1649.0 781.3,1651.1 779.6,1651.8 M787.1,1613.5 C788.8,1614.2 788.8,1616.2 787.1,1616.9 C785.4,1617.6 785.4,1619.6 787.1,1620.3 C788.8,1621.0 788.8,1623.0 787.1,1623.7 C785.4,1624.4 785.4,1626.4 787.1,1627.1 C788.8,1627.8 788.8,1629.8 787.1,1630.5 M787.1,1634.0 C788.8,1634.7 788.8,1636.8 787.1,1637.6 C785.4,1638.3 785.4,1640.4 787.1,1641.1 C788.8,1641.8 788.8,1644.0 787.1,1644.7 C785.4,1645.4 785.4,1647.5 787.1,1648.2 C788.8,1649.0 788.8,1651.1 787.1,1651.8 M791.7,1613.5 C793.4,1614.2 793.4,1616.2 791.7,1616.9 C790.0,1617.6 790.0,1619.6 791.7,1620.3 C793.4,1621.0 793.4,1623.0 791.7,1623.7 C790.0,1624.4 790.0,1626.4 791.7,1627.1 C793.4,1627.8 793.4,1629.8 791.7,1630.5 M791.7,1634.0 C793.4,1634.7 793.4,1636.8 791.7,1637.6 C790.0,1638.3 790.0,1640.4 791.7,1641.1 C793.4,1641.8 793.4,1644.0 791.7,1644.7 C790.0,1645.4 790.0,1647.5 791.7,1648.2 C793.4,1649.0 793.4,1651.1 791.7,1651.8 M799.2,1613.5 C800.9,1614.2 800.9,1616.2 799.2,1616.9 C797.5,1617.6 797.5,1619.6 799.2,1620.3 C800.9,1621.0 800.9,1623.0 799.2,1623.7 C797.5,1624.4 797.5,1626.4 799.2,1627.1 C800.9,1627.8 800.9,1629.8 799.2,1630.5 M799.2,1634.0 C800.9,1634.7 800.9,1636.8 799.2,1637.6 C797.5,1638.3 797.5,1640.4 799.2,1641.1 C800.9,1641.8 800.9,1644.0 799.2,1644.7 C797.5,1645.4 797.5,1647.5 799.2,1648.2 C800.9,1649.0 800.9,1651.1 799.2,1651.8 M803.8,1613.5 C805.5,1614.2 805.5,1616.2 803.8,1616.9 C802.1,1617.6 802.1,1619.6 803.8,1620.3 C805.5,1621.0 805.5,1623.0 803.8,1623.7 C802.1,1624.4 802.1,1626.4 803.8,1627.1 C805.5,1627.8 805.5,1629.8 803.8,1630.5 M803.8,1634.0 C805.5,1634.7 805.5,1636.8 803.8,1637.6 C802.1,1638.3 802.1,1640.4 803.8,1641.1 C805.5,1641.8 805.5,1644.0 803.8,1644.7 C802.1,1645.4 802.1,1647.5 803.8,1648.2 C805.5,1649.0 805.5,1651.1 803.8,1651.8 M811.3,1613.5 C813.0,1614.2 813.0,1616.2 811.3,1616.9 C809.6,1617.6 809.6,1619.6 811.3,1620.3 C813.0,1621.0 813.0,1623.0 811.3,1623.7 C809.6,1624.4 809.6,1626.4 811.3,1627.1 C813.0,1627.8 813.0,1629.8 811.3,1630.5 M811.3,1634.0 C813.0,1634.7 813.0,1636.8 811.3,1637.6 C809.6,1638.3 809.6,1640.4 811.3,1641.1 C813.0,1641.8 813.0,1644.0 811.3,1644.7 C809.6,1645.4 809.6,1647.5 811.3,1648.2 C813.0,1649.0 813.0,1651.1 811.3,1651.8 M815.9,1613.5 C817.6,1614.2 817.6,1616.2 815.9,1616.9 C814.2,1617.6 814.2,1619.6 815.9,1620.3 C817.6,1621.0 817.6,1623.0 815.9,1623.7 C814.2,1624.4 814.2,1626.4 815.9,1627.1 C817.6,1627.8 817.6,1629.8 815.9,1630.5 M815.9,1634.0 C817.6,1634.7 817.6,1636.8 815.9,1637.6 C814.2,1638.3 814.2,1640.4 815.9,1641.1 C817.6,1641.8 817.6,1644.0 815.9,1644.7 C814.2,1645.4 814.2,1647.5 815.9,1648.2 C817.6,1649.0 817.6,1651.1 815.9,1651.8 M823.4,1613.5 C825.1,1614.2 825.1,1616.2 823.4,1616.9 C821.7,1617.6 821.7,1619.6 823.4,1620.3 C825.1,1621.0 825.1,1623.0 823.4,1623.7 C821.7,1624.4 821.7,1626.4 823.4,1627.1 C825.1,1627.8 825.1,1629.8 823.4,1630.5 M823.4,1634.0 C825.1,1634.7 825.1,1636.8 823.4,1637.6 C821.7,1638.3 821.7,1640.4 823.4,1641.1 C825.1,1641.8 825.1,1644.0 823.4,1644.7 C821.7,1645.4 821.7,1647.5 823.4,1648.2 C825.1,1649.0 825.1,1651.1 823.4,1651.8 M828.0,1613.5 C829.7,1614.2 829.7,1616.2 828.0,1616.9 C826.3,1617.6 826.3,1619.6 828.0,1620.3 C829.7,1621.0 829.7,1623.0 828.0,1623.7 C826.3,1624.4 826.3,1626.4 828.0,1627.1 C829.7,1627.8 829.7,1629.8 828.0,1630.5 M828.0,1634.0 C829.7,1634.7 829.7,1636.8 828.0,1637.6 C826.3,1638.3 826.3,1640.4 828.0,1641.1 C829.7,1641.8 829.7,1644.0 828.0,1644.7 C826.3,1645.4 826.3,1647.5 828.0,1648.2 C829.7,1649.0 829.7,1651.1 828.0,1651.8 M835.5,1613.5 C837.2,1614.2 837.2,1616.2 835.5,1616.9 C833.8,1617.6 833.8,1619.6 835.5,1620.3 C837.2,1621.0 837.2,1623.0 835.5,1623.7 C833.8,1624.4 833.8,1626.4 835.5,1627.1 C837.2,1627.8 837.2,1629.8 835.5,1630.5 M835.5,1634.0 C837.2,1634.7 837.2,1636.8 835.5,1637.6 C833.8,1638.3 833.8,1640.4 835.5,1641.1 C837.2,1641.8 837.2,1644.0 835.5,1644.7 C833.8,1645.4 833.8,1647.5 835.5,1648.2 C837.2,1649.0 837.2,1651.1 835.5,1651.8 M840.1,1613.5 C841.8,1614.2 841.8,1616.2 840.1,1616.9 C838.4,1617.6 838.4,1619.6 840.1,1620.3 C841.8,1621.0 841.8,1623.0 840.1,1623.7 C838.4,1624.4 838.4,1626.4 840.1,1627.1 C841.8,1627.8 841.8,1629.8 840.1,1630.5 M840.1,1634.0 C841.8,1634.7 841.8,1636.8 840.1,1637.6 C838.4,1638.3 838.4,1640.4 840.1,1641.1 C841.8,1641.8 841.8,1644.0 840.1,1644.7 C838.4,1645.4 838.4,1647.5 840.1,1648.2 C841.8,1649.0 841.8,1651.1 840.1,1651.8 M847.6,1613.5 C849.3,1614.2 849.3,1616.2 847.6,1616.9 C845.9,1617.6 845.9,1619.6 847.6,1620.3 C849.3,1621.0 849.3,1623.0 847.6,1623.7 C845.9,1624.4 845.9,1626.4 847.6,1627.1 C849.3,1627.8 849.3,1629.8 847.6,1630.5 M847.6,1634.0 C849.3,1634.7 849.3,1636.8 847.6,1637.6 C845.9,1638.3 845.9,1640.4 847.6,1641.1 C849.3,1641.8 849.3,1644.0 847.6,1644.7 C845.9,1645.4 845.9,1647.5 847.6,1648.2 C849.3,1649.0 849.3,1651.1 847.6,1651.8 M852.2,1613.5 C853.9,1614.2 853.9,1616.2 852.2,1616.9 C850.5,1617.6 850.5,1619.6 852.2,1620.3 C853.9,1621.0 853.9,1623.0 852.2,1623.7 C850.5,1624.4 850.5,1626.4 852.2,1627.1 C853.9,1627.8 853.9,1629.8 852.2,1630.5 M852.2,1634.0 C853.9,1634.7 853.9,1636.8 852.2,1637.6 C850.5,1638.3 850.5,1640.4 852.2,1641.1 C853.9,1641.8 853.9,1644.0 852.2,1644.7 C850.5,1645.4 850.5,1647.5 852.2,1648.2 C853.9,1649.0 853.9,1651.1 852.2,1651.8 M859.7,1613.5 C861.4,1614.2 861.4,1616.2 859.7,1616.9 C858.0,1617.6 858.0,1619.6 859.7,1620.3 C861.4,1621.0 861.4,1623.0 859.7,1623.7 C858.0,1624.4 858.0,1626.4 859.7,1627.1 C861.4,1627.8 861.4,1629.8 859.7,1630.5 M859.7,1634.0 C861.4,1634.7 861.4,1636.8 859.7,1637.6 C858.0,1638.3 858.0,1640.4 859.7,1641.1 C861.4,1641.8 861.4,1644.0 859.7,1644.7 C858.0,1645.4 858.0,1647.5 859.7,1648.2 C861.4,1649.0 861.4,1651.1 859.7,1651.8 M864.3,1613.5 C866.0,1614.2 866.0,1616.2 864.3,1616.9 C862.6,1617.6 862.6,1619.6 864.3,1620.3 C866.0,1621.0 866.0,1623.0 864.3,1623.7 C862.6,1624.4 862.6,1626.4 864.3,1627.1 C866.0,1627.8 866.0,1629.8 864.3,1630.5 M864.3,1634.0 C866.0,1634.7 866.0,1636.8 864.3,1637.6 C862.6,1638.3 862.6,1640.4 864.3,1641.1 C866.0,1641.8 866.0,1644.0 864.3,1644.7 C862.6,1645.4 862.6,1647.5 864.3,1648.2 C866.0,1649.0 866.0,1651.1 864.3,1651.8 M871.8,1613.5 C873.5,1614.2 873.5,1616.2 871.8,1616.9 C870.1,1617.6 870.1,1619.6 871.8,1620.3 C873.5,1621.0 873.5,1623.0 871.8,1623.7 C870.1,1624.4 870.1,1626.4 871.8,1627.1 C873.5,1627.8 873.5,1629.8 871.8,1630.5 M871.8,1634.0 C873.5,1634.7 873.5,1636.8 871.8,1637.6 C870.1,1638.3 870.1,1640.4 871.8,1641.1 C873.5,1641.8 873.5,1644.0 871.8,1644.7 C870.1,1645.4 870.1,1647.5 871.8,1648.2 C873.5,1649.0 873.5,1651.1 871.8,1651.8 M876.4,1613.5 C878.1,1614.2 878.1,1616.2 876.4,1616.9 C874.7,1617.6 874.7,1619.6 876.4,1620.3 C878.1,1621.0 878.1,1623.0 876.4,1623.7 C874.7,1624.4 874.7,1626.4 876.4,1627.1 C878.1,1627.8 878.1,1629.8 876.4,1630.5 M876.4,1634.0 C878.1,1634.7 878.1,1636.8 876.4,1637.6 C874.7,1638.3 874.7,1640.4 876.4,1641.1 C878.1,1641.8 878.1,1644.0 876.4,1644.7 C874.7,1645.4 874.7,1647.5 876.4,1648.2 C878.1,1649.0 878.1,1651.1 876.4,1651.8 M883.9,1613.5 C885.6,1614.2 885.6,1616.2 883.9,1616.9 C882.2,1617.6 882.2,1619.6 883.9,1620.3 C885.6,1621.0 885.6,1623.0 883.9,1623.7 C882.2,1624.4 882.2,1626.4 883.9,1627.1 C885.6,1627.8 885.6,1629.8 883.9,1630.5 M883.9,1634.0 C885.6,1634.7 885.6,1636.8 883.9,1637.6 C882.2,1638.3 882.2,1640.4 883.9,1641.1 C885.6,1641.8 885.6,1644.0 883.9,1644.7 C882.2,1645.4 882.2,1647.5 883.9,1648.2 C885.6,1649.0 885.6,1651.1 883.9,1651.8 M888.5,1613.5 C890.2,1614.2 890.2,1616.2 888.5,1616.9 C886.8,1617.6 886.8,1619.6 888.5,1620.3 C890.2,1621.0 890.2,1623.0 888.5,1623.7 C886.8,1624.4 886.8,1626.4 888.5,1627.1 C890.2,1627.8 890.2,1629.8 888.5,1630.5 M888.5,1634.0 C890.2,1634.7 890.2,1636.8 888.5,1637.6 C886.8,1638.3 886.8,1640.4 888.5,1641.1 C890.2,1641.8 890.2,1644.0 888.5,1644.7 C886.8,1645.4 886.8,1647.5 888.5,1648.2 C890.2,1649.0 890.2,1651.1 888.5,1651.8 M896.0,1613.5 C897.7,1614.2 897.7,1616.2 896.0,1616.9 C894.3,1617.6 894.3,1619.6 896.0,1620.3 C897.7,1621.0 897.7,1623.0 896.0,1623.7 C894.3,1624.4 894.3,1626.4 896.0,1627.1 C897.7,1627.8 897.7,1629.8 896.0,1630.5 M896.0,1634.0 C897.7,1634.7 897.7,1636.8 896.0,1637.6 C894.3,1638.3 894.3,1640.4 896.0,1641.1 C897.7,1641.8 897.7,1644.0 896.0,1644.7 C894.3,1645.4 894.3,1647.5 896.0,1648.2 C897.7,1649.0 897.7,1651.1 896.0,1651.8 M900.6,1613.5 C902.3,1614.2 902.3,1616.2 900.6,1616.9 C898.9,1617.6 898.9,1619.6 900.6,1620.3 C902.3,1621.0 902.3,1623.0 900.6,1623.7 C898.9,1624.4 898.9,1626.4 900.6,1627.1 C902.3,1627.8 902.3,1629.8 900.6,1630.5 M900.6,1634.0 C902.3,1634.7 902.3,1636.8 900.6,1637.6 C898.9,1638.3 898.9,1640.4 900.6,1641.1 C902.3,1641.8 902.3,1644.0 900.6,1644.7 C898.9,1645.4 898.9,1647.5 900.6,1648.2 C902.3,1649.0 902.3,1651.1 900.6,1651.8 M908.1,1613.5 C909.8,1614.2 909.8,1616.2 908.1,1616.9 C906.4,1617.6 906.4,1619.6 908.1,1620.3 C909.8,1621.0 909.8,1623.0 908.1,1623.7 C906.4,1624.4 906.4,1626.4 908.1,1627.1 C909.8,1627.8 909.8,1629.8 908.1,1630.5 M908.1,1634.0 C909.8,1634.7 909.8,1636.8 908.1,1637.6 C906.4,1638.3 906.4,1640.4 908.1,1641.1 C909.8,1641.8 909.8,1644.0 908.1,1644.7 C906.4,1645.4 906.4,1647.5 908.1,1648.2 C909.8,1649.0 909.8,1651.1 908.1,1651.8 M912.7,1613.5 C914.4,1614.2 914.4,1616.2 912.7,1616.9 C911.0,1617.6 911.0,1619.6 912.7,1620.3 C914.4,1621.0 914.4,1623.0 912.7,1623.7 C911.0,1624.4 911.0,1626.4 912.7,1627.1 C914.4,1627.8 914.4,1629.8 912.7,1630.5 M912.7,1634.0 C914.4,1634.7 914.4,1636.8 912.7,1637.6 C911.0,1638.3 911.0,1640.4 912.7,1641.1 C914.4,1641.8 914.4,1644.0 912.7,1644.7 C911.0,1645.4 911.0,1647.5 912.7,1648.2 C914.4,1649.0 914.4,1651.1 912.7,1651.8 M920.2,1613.5 C921.9,1614.2 921.9,1616.2 920.2,1616.9 C918.5,1617.6 918.5,1619.6 920.2,1620.3 C921.9,1621.0 921.9,1623.0 920.2,1623.7 C918.5,1624.4 918.5,1626.4 920.2,1627.1 C921.9,1627.8 921.9,1629.8 920.2,1630.5 M920.2,1634.0 C921.9,1634.7 921.9,1636.8 920.2,1637.6 C918.5,1638.3 918.5,1640.4 920.2,1641.1 C921.9,1641.8 921.9,1644.0 920.2,1644.7 C918.5,1645.4 918.5,1647.5 920.2,1648.2 C921.9,1649.0 921.9,1651.1 920.2,1651.8 M924.8,1613.5 C926.5,1614.2 926.5,1616.2 924.8,1616.9 C923.1,1617.6 923.1,1619.6 924.8,1620.3 C926.5,1621.0 926.5,1623.0 924.8,1623.7 C923.1,1624.4 923.1,1626.4 924.8,1627.1 C926.5,1627.8 926.5,1629.8 924.8,1630.5 M924.8,1634.0 C926.5,1634.7 926.5,1636.8 924.8,1637.6 C923.1,1638.3 923.1,1640.4 924.8,1641.1 C926.5,1641.8 926.5,1644.0 924.8,1644.7 C923.1,1645.4 923.1,1647.5 924.8,1648.2 C926.5,1649.0 926.5,1651.1 924.8,1651.8 M932.3,1613.5 C934.0,1614.2 934.0,1616.2 932.3,1616.9 C930.6,1617.6 930.6,1619.6 932.3,1620.3 C934.0,1621.0 934.0,1623.0 932.3,1623.7 C930.6,1624.4 930.6,1626.4 932.3,1627.1 C934.0,1627.8 934.0,1629.8 932.3,1630.5 M932.3,1634.0 C934.0,1634.7 934.0,1636.8 932.3,1637.6 C930.6,1638.3 930.6,1640.4 932.3,1641.1 C934.0,1641.8 934.0,1644.0 932.3,1644.7 C930.6,1645.4 930.6,1647.5 932.3,1648.2 C934.0,1649.0 934.0,1651.1 932.3,1651.8 M936.9,1613.5 C938.6,1614.2 938.6,1616.2 936.9,1616.9 C935.2,1617.6 935.2,1619.6 936.9,1620.3 C938.6,1621.0 938.6,1623.0 936.9,1623.7 C935.2,1624.4 935.2,1626.4 936.9,1627.1 C938.6,1627.8 938.6,1629.8 936.9,1630.5 M936.9,1634.0 C938.6,1634.7 938.6,1636.8 936.9,1637.6 C935.2,1638.3 935.2,1640.4 936.9,1641.1 C938.6,1641.8 938.6,1644.0 936.9,1644.7 C935.2,1645.4 935.2,1647.5 936.9,1648.2 C938.6,1649.0 938.6,1651.1 936.9,1651.8 M944.4,1613.5 C946.1,1614.2 946.1,1616.2 944.4,1616.9 C942.7,1617.6 942.7,1619.6 944.4,1620.3 C946.1,1621.0 946.1,1623.0 944.4,1623.7 C942.7,1624.4 942.7,1626.4 944.4,1627.1 C946.1,1627.8 946.1,1629.8 944.4,1630.5 M944.4,1634.0 C946.1,1634.7 946.1,1636.8 944.4,1637.6 C942.7,1638.3 942.7,1640.4 944.4,1641.1 C946.1,1641.8 946.1,1644.0 944.4,1644.7 C942.7,1645.4 942.7,1647.5 944.4,1648.2 C946.1,1649.0 946.1,1651.1 944.4,1651.8 M949.0,1613.5 C950.7,1614.2 950.7,1616.2 949.0,1616.9 C947.3,1617.6 947.3,1619.6 949.0,1620.3 C950.7,1621.0 950.7,1623.0 949.0,1623.7 C947.3,1624.4 947.3,1626.4 949.0,1627.1 C950.7,1627.8 950.7,1629.8 949.0,1630.5 M949.0,1634.0 C950.7,1634.7 950.7,1636.8 949.0,1637.6 C947.3,1638.3 947.3,1640.4 949.0,1641.1 C950.7,1641.8 950.7,1644.0 949.0,1644.7 C947.3,1645.4 947.3,1647.5 949.0,1648.2 C950.7,1649.0 950.7,1651.1 949.0,1651.8 M956.5,1613.5 C958.2,1614.2 958.2,1616.2 956.5,1616.9 C954.8,1617.6 954.8,1619.6 956.5,1620.3 C958.2,1621.0 958.2,1623.0 956.5,1623.7 C954.8,1624.4 954.8,1626.4 956.5,1627.1 C958.2,1627.8 958.2,1629.8 956.5,1630.5 M956.5,1634.0 C958.2,1634.7 958.2,1636.8 956.5,1637.6 C954.8,1638.3 954.8,1640.4 956.5,1641.1 C958.2,1641.8 958.2,1644.0 956.5,1644.7 C954.8,1645.4 954.8,1647.5 956.5,1648.2 C958.2,1649.0 958.2,1651.1 956.5,1651.8 M961.1,1613.5 C962.8,1614.2 962.8,1616.2 961.1,1616.9 C959.4,1617.6 959.4,1619.6 961.1,1620.3 C962.8,1621.0 962.8,1623.0 961.1,1623.7 C959.4,1624.4 959.4,1626.4 961.1,1627.1 C962.8,1627.8 962.8,1629.8 961.1,1630.5 M961.1,1634.0 C962.8,1634.7 962.8,1636.8 961.1,1637.6 C959.4,1638.3 959.4,1640.4 961.1,1641.1 C962.8,1641.8 962.8,1644.0 961.1,1644.7 C959.4,1645.4 959.4,1647.5 961.1,1648.2 C962.8,1649.0 962.8,1651.1 961.1,1651.8 M968.6,1613.5 C970.3,1614.2 970.3,1616.2 968.6,1616.9 C966.9,1617.6 966.9,1619.6 968.6,1620.3 C970.3,1621.0 970.3,1623.0 968.6,1623.7 C966.9,1624.4 966.9,1626.4 968.6,1627.1 C970.3,1627.8 970.3,1629.8 968.6,1630.5 M968.6,1634.0 C970.3,1634.7 970.3,1636.8 968.6,1637.6 C966.9,1638.3 966.9,1640.4 968.6,1641.1 C970.3,1641.8 970.3,1644.0 968.6,1644.7 C966.9,1645.4 966.9,1647.5 968.6,1648.2 C970.3,1649.0 970.3,1651.1 968.6,1651.8 M973.2,1613.5 C974.9,1614.2 974.9,1616.2 973.2,1616.9 C971.5,1617.6 971.5,1619.6 973.2,1620.3 C974.9,1621.0 974.9,1623.0 973.2,1623.7 C971.5,1624.4 971.5,1626.4 973.2,1627.1 C974.9,1627.8 974.9,1629.8 973.2,1630.5 M973.2,1634.0 C974.9,1634.7 974.9,1636.8 973.2,1637.6 C971.5,1638.3 971.5,1640.4 973.2,1641.1 C974.9,1641.8 974.9,1644.0 973.2,1644.7 C971.5,1645.4 971.5,1647.5 973.2,1648.2 C974.9,1649.0 974.9,1651.1 973.2,1651.8 M980.7,1613.5 C982.4,1614.2 982.4,1616.2 980.7,1616.9 C979.0,1617.6 979.0,1619.6 980.7,1620.3 C982.4,1621.0 982.4,1623.0 980.7,1623.7 C979.0,1624.4 979.0,1626.4 980.7,1627.1 C982.4,1627.8 982.4,1629.8 980.7,1630.5 M980.7,1634.0 C982.4,1634.7 982.4,1636.8 980.7,1637.6 C979.0,1638.3 979.0,1640.4 980.7,1641.1 C982.4,1641.8 982.4,1644.0 980.7,1644.7 C979.0,1645.4 979.0,1647.5 980.7,1648.2 C982.4,1649.0 982.4,1651.1 980.7,1651.8 M985.3,1613.5 C987.0,1614.2 987.0,1616.2 985.3,1616.9 C983.6,1617.6 983.6,1619.6 985.3,1620.3 C987.0,1621.0 987.0,1623.0 985.3,1623.7 C983.6,1624.4 983.6,1626.4 985.3,1627.1 C987.0,1627.8 987.0,1629.8 985.3,1630.5 M985.3,1634.0 C987.0,1634.7 987.0,1636.8 985.3,1637.6 C983.6,1638.3 983.6,1640.4 985.3,1641.1 C987.0,1641.8 987.0,1644.0 985.3,1644.7 C983.6,1645.4 983.6,1647.5 985.3,1648.2 C987.0,1649.0 987.0,1651.1 985.3,1651.8 M992.8,1613.5 C994.5,1614.2 994.5,1616.2 992.8,1616.9 C991.1,1617.6 991.1,1619.6 992.8,1620.3 C994.5,1621.0 994.5,1623.0 992.8,1623.7 C991.1,1624.4 991.1,1626.4 992.8,1627.1 C994.5,1627.8 994.5,1629.8 992.8,1630.5 M992.8,1634.0 C994.5,1634.7 994.5,1636.8 992.8,1637.6 C991.1,1638.3 991.1,1640.4 992.8,1641.1 C994.5,1641.8 994.5,1644.0 992.8,1644.7 C991.1,1645.4 991.1,1647.5 992.8,1648.2 C994.5,1649.0 994.5,1651.1 992.8,1651.8 M997.4,1613.5 C999.1,1614.2 999.1,1616.2 997.4,1616.9 C995.7,1617.6 995.7,1619.6 997.4,1620.3 C999.1,1621.0 999.1,1623.0 997.4,1623.7 C995.7,1624.4 995.7,1626.4 997.4,1627.1 C999.1,1627.8 999.1,1629.8 997.4,1630.5 M997.4,1634.0 C999.1,1634.7 999.1,1636.8 997.4,1637.6 C995.7,1638.3 995.7,1640.4 997.4,1641.1 C999.1,1641.8 999.1,1644.0 997.4,1644.7 C995.7,1645.4 995.7,1647.5 997.4,1648.2 C999.1,1649.0 999.1,1651.1 997.4,1651.8 M1004.9,1613.5 C1006.6,1614.2 1006.6,1616.2 1004.9,1616.9 C1003.2,1617.6 1003.2,1619.6 1004.9,1620.3 C1006.6,1621.0 1006.6,1623.0 1004.9,1623.7 C1003.2,1624.4 1003.2,1626.4 1004.9,1627.1 C1006.6,1627.8 1006.6,1629.8 1004.9,1630.5 M1004.9,1634.0 C1006.6,1634.7 1006.6,1636.8 1004.9,1637.6 C1003.2,1638.3 1003.2,1640.4 1004.9,1641.1 C1006.6,1641.8 1006.6,1644.0 1004.9,1644.7 C1003.2,1645.4 1003.2,1647.5 1004.9,1648.2 C1006.6,1649.0 1006.6,1651.1 1004.9,1651.8 M1009.5,1613.5 C1011.2,1614.2 1011.2,1616.2 1009.5,1616.9 C1007.8,1617.6 1007.8,1619.6 1009.5,1620.3 C1011.2,1621.0 1011.2,1623.0 1009.5,1623.7 C1007.8,1624.4 1007.8,1626.4 1009.5,1627.1 C1011.2,1627.8 1011.2,1629.8 1009.5,1630.5 M1009.5,1634.0 C1011.2,1634.7 1011.2,1636.8 1009.5,1637.6 C1007.8,1638.3 1007.8,1640.4 1009.5,1641.1 C1011.2,1641.8 1011.2,1644.0 1009.5,1644.7 C1007.8,1645.4 1007.8,1647.5 1009.5,1648.2 C1011.2,1649.0 1011.2,1651.1 1009.5,1651.8 M1017.0,1613.5 C1018.7,1614.2 1018.7,1616.2 1017.0,1616.9 C1015.3,1617.6 1015.3,1619.6 1017.0,1620.3 C1018.7,1621.0 1018.7,1623.0 1017.0,1623.7 C1015.3,1624.4 1015.3,1626.4 1017.0,1627.1 C1018.7,1627.8 1018.7,1629.8 1017.0,1630.5 M1017.0,1634.0 C1018.7,1634.7 1018.7,1636.8 1017.0,1637.6 C1015.3,1638.3 1015.3,1640.4 1017.0,1641.1 C1018.7,1641.8 1018.7,1644.0 1017.0,1644.7 C1015.3,1645.4 1015.3,1647.5 1017.0,1648.2 C1018.7,1649.0 1018.7,1651.1 1017.0,1651.8 M1021.6,1613.5 C1023.3,1614.2 1023.3,1616.2 1021.6,1616.9 C1019.9,1617.6 1019.9,1619.6 1021.6,1620.3 C1023.3,1621.0 1023.3,1623.0 1021.6,1623.7 C1019.9,1624.4 1019.9,1626.4 1021.6,1627.1 C1023.3,1627.8 1023.3,1629.8 1021.6,1630.5 M1021.6,1634.0 C1023.3,1634.7 1023.3,1636.8 1021.6,1637.6 C1019.9,1638.3 1019.9,1640.4 1021.6,1641.1 C1023.3,1641.8 1023.3,1644.0 1021.6,1644.7 C1019.9,1645.4 1019.9,1647.5 1021.6,1648.2 C1023.3,1649.0 1023.3,1651.1 1021.6,1651.8" fill="none" stroke="#f3dc8c" stroke-width="1.5"/>
<circle cx="620.0" cy="1606.5" r="6.2" fill="url(#phead)"/>
<circle cx="632.1" cy="1606.5" r="6.2" fill="url(#phead)"/>
<circle cx="644.2" cy="1606.5" r="6.2" fill="url(#phead)"/>
<circle cx="656.3" cy="1606.5" r="6.2" fill="url(#phead)"/>
<circle cx="668.4" cy="1606.5" r="6.2" fill="url(#phead)"/>
<circle cx="680.5" cy="1606.5" r="6.2" fill="url(#phead)"/>
<circle cx="692.6" cy="1606.5" r="6.2" fill="url(#phead)"/>
<circle cx="704.7" cy="1606.5" r="6.2" fill="url(#phead)"/>
<circle cx="716.8" cy="1606.5" r="6.2" fill="url(#phead)"/>
<circle cx="728.9" cy="1606.5" r="6.2" fill="url(#phead)"/>
<circle cx="741.0" cy="1606.5" r="6.2" fill="url(#phead)"/>
<circle cx="753.1" cy="1606.5" r="6.2" fill="url(#phead)"/>
<circle cx="765.2" cy="1606.5" r="6.2" fill="url(#phead)"/>
<circle cx="777.3" cy="1606.5" r="6.2" fill="url(#phead)"/>
<circle cx="789.4" cy="1606.5" r="6.2" fill="url(#phead)"/>
<circle cx="801.5" cy="1606.5" r="6.2" fill="url(#phead)"/>
<circle cx="813.6" cy="1606.5" r="6.2" fill="url(#phead)"/>
<circle cx="825.7" cy="1606.5" r="6.2" fill="url(#phead)"/>
<circle cx="837.8" cy="1606.5" r="6.2" fill="url(#phead)"/>
<circle cx="849.9" cy="1606.5" r="6.2" fill="url(#phead)"/>
<circle cx="862.0" cy="1606.5" r="6.2" fill="url(#phead)"/>
<circle cx="874.1" cy="1606.5" r="6.2" fill="url(#phead)"/>
<circle cx="886.2" cy="1606.5" r="6.2" fill="url(#phead)"/>
<circle cx="898.3" cy="1606.5" r="6.2" fill="url(#phead)"/>
<circle cx="910.4" cy="1606.5" r="6.2" fill="url(#phead)"/>
<circle cx="922.5" cy="1606.5" r="6.2" fill="url(#phead)"/>
<circle cx="934.6" cy="1606.5" r="6.2" fill="url(#phead)"/>
<circle cx="946.7" cy="1606.5" r="6.2" fill="url(#phead)"/>
<circle cx="958.8" cy="1606.5" r="6.2" fill="url(#phead)"/>
<circle cx="970.9" cy="1606.5" r="6.2" fill="url(#phead)"/>
<circle cx="983.0" cy="1606.5" r="6.2" fill="url(#phead)"/>
<circle cx="995.1" cy="1606.5" r="6.2" fill="url(#phead)"/>
<circle cx="1007.2" cy="1606.5" r="6.2" fill="url(#phead)"/>
<circle cx="1019.3" cy="1606.5" r="6.2" fill="url(#phead)"/>
<circle cx="620.0" cy="1657.5" r="6.2" fill="url(#phead)"/>
<circle cx="632.1" cy="1657.5" r="6.2" fill="url(#phead)"/>
<circle cx="644.2" cy="1657.5" r="6.2" fill="url(#phead)"/>
<circle cx="656.3" cy="1657.5" r="6.2" fill="url(#phead)"/>
<circle cx="668.4" cy="1657.5" r="6.2" fill="url(#phead)"/>
<circle cx="680.5" cy="1657.5" r="6.2" fill="url(#phead)"/>
<circle cx="692.6" cy="1657.5" r="6.2" fill="url(#phead)"/>
<circle cx="704.7" cy="1657.5" r="6.2" fill="url(#phead)"/>
<circle cx="716.8" cy="1657.5" r="6.2" fill="url(#phead)"/>
<circle cx="728.9" cy="1657.5" r="6.2" fill="url(#phead)"/>
<circle cx="741.0" cy="1657.5" r="6.2" fill="url(#phead)"/>
<circle cx="753.1" cy="1657.5" r="6.2" fill="url(#phead)"/>
<circle cx="765.2" cy="1657.5" r="6.2" fill="url(#phead)"/>
<circle cx="777.3" cy="1657.5" r="6.2" fill="url(#phead)"/>
<circle cx="789.4" cy="1657.5" r="6.2" fill="url(#phead)"/>
<circle cx="801.5" cy="1657.5" r="6.2" fill="url(#phead)"/>
<circle cx="813.6" cy="1657.5" r="6.2" fill="url(#phead)"/>
<circle cx="825.7" cy="1657.5" r="6.2" fill="url(#phead)"/>
<circle cx="837.8" cy="1657.5" r="6.2" fill="url(#phead)"/>
<circle cx="849.9" cy="1657.5" r="6.2" fill="url(#phead)"/>
<circle cx="862.0" cy="1657.5" r="6.2" fill="url(#phead)"/>
<circle cx="874.1" cy="1657.5" r="6.2" fill="url(#phead)"/>
<circle cx="886.2" cy="1657.5" r="6.2" fill="url(#phead)"/>
<circle cx="898.3" cy="1657.5" r="6.2" fill="url(#phead)"/>
<circle cx="910.4" cy="1657.5" r="6.2" fill="url(#phead)"/>
<circle cx="922.5" cy="1657.5" r="6.2" fill="url(#phead)"/>
<circle cx="934.6" cy="1657.5" r="6.2" fill="url(#phead)"/>
<circle cx="946.7" cy="1657.5" r="6.2" fill="url(#phead)"/>
<circle cx="958.8" cy="1657.5" r="6.2" fill="url(#phead)"/>
<circle cx="970.9" cy="1657.5" r="6.2" fill="url(#phead)"/>
<circle cx="983.0" cy="1657.5" r="6.2" fill="url(#phead)"/>
<circle cx="995.1" cy="1657.5" r="6.2" fill="url(#phead)"/>
<circle cx="1007.2" cy="1657.5" r="6.2" fill="url(#phead)"/>
<circle cx="1019.3" cy="1657.5" r="6.2" fill="url(#phead)"/>
<g transform="translate(617,1347.5)"><path d="M75.3,251.3 C78,244 92,242 96,249 L102.4,249 C106,242 120,243 123.5,252.5 C127,268 140,295 151.8,314.9 C158,326 162,338 159,346 C155,354 143,355 136.5,350.1 C133,353 126,351 125.9,345.5 C126,338 126,332 123.5,328 C117,318 108,316 100,317.2 C92,317 83,320 77,328 C73,333 74,340 74,345.5 C73.5,351 67,353 63.5,350.1 C57,355 45,354 41,346 C37,338 41,326 47,314.9 C58,295 71,268 75.3,251.3 Z" fill="url(#porM)" stroke="#2a2a2a" stroke-width="1.1"/><path d="M75.3,251.3 C78,244 92,242 95.9,251.3 C92,268 89,282 84.7,294.9 C78,308 70,316 64.7,324.3 C62,332 62,342 63.5,350.1 C57,355 45,354 41,346 C37,338 41,326 47,314.9 C58,295 71,268 75.3,251.3 Z" fill="url(#porL)" stroke="#2a2a2a" stroke-width="1.1"/><path d="M102.4,251.3 C106,243 120,243 123.5,252.5 C127,268 140,295 151.8,314.9 C158,326 162,338 159,346 C155,354 143,355 136.5,350.1 C138,342 138,332 134,324.3 C128,316 120,308 113,294.9 C109,282 106,268 102.4,251.3 Z" fill="url(#porL)" stroke="#2a2a2a" stroke-width="1.1"/><text x="80" y="353.5" font-family="Liberation Sans, sans-serif" font-size="20" font-weight="bold" fill="#fff">ATP</text><polygon points="84.7,240.9 57.8,189.3 66.5,193.4 49.9,180.0 51.4,201.3 53.0,191.8 79.9,243.5" fill="#f7cc48" stroke="#2a2a2a" stroke-width="1" stroke-linejoin="miter"/><polygon points="148.8,178.9 125.3,231.5 123.2,222.2 123.0,243.5 138.7,229.1 130.4,233.8 153.8,181.1" fill="#f7cc48" stroke="#2a2a2a" stroke-width="1" stroke-linejoin="miter"/><circle cx="37.7" cy="158.4" r="10.3" fill="url(#pb_y)" stroke="#1a1a1a" stroke-width="1.3"/><circle cx="62.0" cy="166.5" r="10.3" fill="url(#pb_y)" stroke="#1a1a1a" stroke-width="1.3"/><circle cx="32.3" cy="184.1" r="10.3" fill="url(#pb_y)" stroke="#1a1a1a" stroke-width="1.3"/><circle cx="135.0" cy="167.8" r="10.8" fill="url(#pb_p)" stroke="#1a1a1a" stroke-width="1.3"/><circle cx="163.5" cy="162.5" r="10.8" fill="url(#pb_p)" stroke="#1a1a1a" stroke-width="1.3"/><polygon points="48.5,387.7 56.2,358.7 59.8,367.6 56.6,346.5 43.3,363.2 50.9,357.3 43.1,386.3" fill="#f7cc48" stroke="#2a2a2a" stroke-width="1" stroke-linejoin="miter"/><polygon points="135.1,349.6 140.9,378.6 133.8,372.2 146.0,389.7 150.5,368.9 146.3,377.5 140.5,348.6" fill="#f7cc48" stroke="#2a2a2a" stroke-width="1" stroke-linejoin="miter"/><circle cx="30.4" cy="393.8" r="10.3" fill="url(#pb_y)" stroke="#1a1a1a" stroke-width="1.3"/><circle cx="52.0" cy="405.9" r="10.3" fill="url(#pb_y)" stroke="#1a1a1a" stroke-width="1.3"/><circle cx="36.9" cy="424.9" r="10.3" fill="url(#pb_y)" stroke="#1a1a1a" stroke-width="1.3"/><circle cx="165.7" cy="396.5" r="10.8" fill="url(#pb_p)" stroke="#1a1a1a" stroke-width="1.3"/><circle cx="141.9" cy="414.0" r="10.8" fill="url(#pb_p)" stroke="#1a1a1a" stroke-width="1.3"/><text x="28.8" y="48.8" font-family="Liberation Sans, sans-serif" font-size="21.5" fill="#111" stroke="#111" stroke-width="0.95">Primary active</text><text x="52.6" y="138.9" font-family="Liberation Sans, sans-serif" font-size="20" fill="#111">3Na<tspan dx="1.5" dy="-5" font-size="19">+</tspan></text><text x="150" y="138.9" font-family="Liberation Sans, sans-serif" font-size="20" fill="#111">2K<tspan dx="1.5" dy="-5" font-size="19">+</tspan></text></g>
<g transform="translate(617,1347.5)"><path d="M259.2,250 C262,238 290,232.5 313.5,232.8 C338,233 362,238 364.6,251 L340.7,249.7 C341,262 340,275 329.2,298.3 C323,306 318,309 313.1,311.5 C308,309 302,306 297,298.3 C286,275 285,262 283.9,249.7 Z" fill="url(#pblM)" stroke="#1a2a40" stroke-width="1"/><path d="M258.4,251.3 C258,243 266,242 270.7,242.7 C278,242 284,246 283.9,249.7 C285,262 285,272 285.5,271.9 C290,285 296,296 297,298.3 C303,306 310,309 312.7,313.1 L312.7,344.5 C311,352 306,355.5 302,355.1 C294,355 289,352 287.2,351 L260,278.5 C258.5,270 258.4,260 258.4,251.3 Z" fill="url(#pblL)" stroke="#1a2a40" stroke-width="1"/><path d="M367.6,253.8 C367,243 360,243 353.9,243.1 C346,243 341,246 340.7,249.7 C341,262 341,272 340.3,271.9 C336,285 330,296 329.2,298.3 C323,306 316,309 313.5,313.1 L313.5,344.5 C315,352 320,355.5 324,355.1 C332,355 337,352 339,351 L367,278.5 C368,270 367.6,260 367.6,253.8 Z" fill="url(#pblL)" stroke="#1a2a40" stroke-width="1"/></g>
</g>
<g clip-path="url(#clC)">
<rect x="1057" y="1347.5" width="423" height="478" fill="#d3e3f5"/>
<rect x="1057" y="1347.5" width="423" height="2" fill="#c5d3e2"/>
<rect x="1057" y="1609.5" width="423" height="216" fill="url(#pcyto)"/>
<rect x="1057" y="1606.5" width="423" height="51" fill="#2c5993"/>
<path d="M1057.7,1613.5 C1059.4,1614.2 1059.4,1616.2 1057.7,1616.9 C1056.0,1617.6 1056.0,1619.6 1057.7,1620.3 C1059.4,1621.0 1059.4,1623.0 1057.7,1623.7 C1056.0,1624.4 1056.0,1626.4 1057.7,1627.1 C1059.4,1627.8 1059.4,1629.8 1057.7,1630.5 M1057.7,1634.0 C1059.4,1634.7 1059.4,1636.8 1057.7,1637.6 C1056.0,1638.3 1056.0,1640.4 1057.7,1641.1 C1059.4,1641.8 1059.4,1644.0 1057.7,1644.7 C1056.0,1645.4 1056.0,1647.5 1057.7,1648.2 C1059.4,1649.0 1059.4,1651.1 1057.7,1651.8 M1062.3,1613.5 C1064.0,1614.2 1064.0,1616.2 1062.3,1616.9 C1060.6,1617.6 1060.6,1619.6 1062.3,1620.3 C1064.0,1621.0 1064.0,1623.0 1062.3,1623.7 C1060.6,1624.4 1060.6,1626.4 1062.3,1627.1 C1064.0,1627.8 1064.0,1629.8 1062.3,1630.5 M1062.3,1634.0 C1064.0,1634.7 1064.0,1636.8 1062.3,1637.6 C1060.6,1638.3 1060.6,1640.4 1062.3,1641.1 C1064.0,1641.8 1064.0,1644.0 1062.3,1644.7 C1060.6,1645.4 1060.6,1647.5 1062.3,1648.2 C1064.0,1649.0 1064.0,1651.1 1062.3,1651.8 M1069.8,1613.5 C1071.5,1614.2 1071.5,1616.2 1069.8,1616.9 C1068.1,1617.6 1068.1,1619.6 1069.8,1620.3 C1071.5,1621.0 1071.5,1623.0 1069.8,1623.7 C1068.1,1624.4 1068.1,1626.4 1069.8,1627.1 C1071.5,1627.8 1071.5,1629.8 1069.8,1630.5 M1069.8,1634.0 C1071.5,1634.7 1071.5,1636.8 1069.8,1637.6 C1068.1,1638.3 1068.1,1640.4 1069.8,1641.1 C1071.5,1641.8 1071.5,1644.0 1069.8,1644.7 C1068.1,1645.4 1068.1,1647.5 1069.8,1648.2 C1071.5,1649.0 1071.5,1651.1 1069.8,1651.8 M1074.4,1613.5 C1076.1,1614.2 1076.1,1616.2 1074.4,1616.9 C1072.7,1617.6 1072.7,1619.6 1074.4,1620.3 C1076.1,1621.0 1076.1,1623.0 1074.4,1623.7 C1072.7,1624.4 1072.7,1626.4 1074.4,1627.1 C1076.1,1627.8 1076.1,1629.8 1074.4,1630.5 M1074.4,1634.0 C1076.1,1634.7 1076.1,1636.8 1074.4,1637.6 C1072.7,1638.3 1072.7,1640.4 1074.4,1641.1 C1076.1,1641.8 1076.1,1644.0 1074.4,1644.7 C1072.7,1645.4 1072.7,1647.5 1074.4,1648.2 C1076.1,1649.0 1076.1,1651.1 1074.4,1651.8 M1081.9,1613.5 C1083.6,1614.2 1083.6,1616.2 1081.9,1616.9 C1080.2,1617.6 1080.2,1619.6 1081.9,1620.3 C1083.6,1621.0 1083.6,1623.0 1081.9,1623.7 C1080.2,1624.4 1080.2,1626.4 1081.9,1627.1 C1083.6,1627.8 1083.6,1629.8 1081.9,1630.5 M1081.9,1634.0 C1083.6,1634.7 1083.6,1636.8 1081.9,1637.6 C1080.2,1638.3 1080.2,1640.4 1081.9,1641.1 C1083.6,1641.8 1083.6,1644.0 1081.9,1644.7 C1080.2,1645.4 1080.2,1647.5 1081.9,1648.2 C1083.6,1649.0 1083.6,1651.1 1081.9,1651.8 M1086.5,1613.5 C1088.2,1614.2 1088.2,1616.2 1086.5,1616.9 C1084.8,1617.6 1084.8,1619.6 1086.5,1620.3 C1088.2,1621.0 1088.2,1623.0 1086.5,1623.7 C1084.8,1624.4 1084.8,1626.4 1086.5,1627.1 C1088.2,1627.8 1088.2,1629.8 1086.5,1630.5 M1086.5,1634.0 C1088.2,1634.7 1088.2,1636.8 1086.5,1637.6 C1084.8,1638.3 1084.8,1640.4 1086.5,1641.1 C1088.2,1641.8 1088.2,1644.0 1086.5,1644.7 C1084.8,1645.4 1084.8,1647.5 1086.5,1648.2 C1088.2,1649.0 1088.2,1651.1 1086.5,1651.8 M1094.0,1613.5 C1095.7,1614.2 1095.7,1616.2 1094.0,1616.9 C1092.3,1617.6 1092.3,1619.6 1094.0,1620.3 C1095.7,1621.0 1095.7,1623.0 1094.0,1623.7 C1092.3,1624.4 1092.3,1626.4 1094.0,1627.1 C1095.7,1627.8 1095.7,1629.8 1094.0,1630.5 M1094.0,1634.0 C1095.7,1634.7 1095.7,1636.8 1094.0,1637.6 C1092.3,1638.3 1092.3,1640.4 1094.0,1641.1 C1095.7,1641.8 1095.7,1644.0 1094.0,1644.7 C1092.3,1645.4 1092.3,1647.5 1094.0,1648.2 C1095.7,1649.0 1095.7,1651.1 1094.0,1651.8 M1098.6,1613.5 C1100.3,1614.2 1100.3,1616.2 1098.6,1616.9 C1096.9,1617.6 1096.9,1619.6 1098.6,1620.3 C1100.3,1621.0 1100.3,1623.0 1098.6,1623.7 C1096.9,1624.4 1096.9,1626.4 1098.6,1627.1 C1100.3,1627.8 1100.3,1629.8 1098.6,1630.5 M1098.6,1634.0 C1100.3,1634.7 1100.3,1636.8 1098.6,1637.6 C1096.9,1638.3 1096.9,1640.4 1098.6,1641.1 C1100.3,1641.8 1100.3,1644.0 1098.6,1644.7 C1096.9,1645.4 1096.9,1647.5 1098.6,1648.2 C1100.3,1649.0 1100.3,1651.1 1098.6,1651.8 M1106.1,1613.5 C1107.8,1614.2 1107.8,1616.2 1106.1,1616.9 C1104.4,1617.6 1104.4,1619.6 1106.1,1620.3 C1107.8,1621.0 1107.8,1623.0 1106.1,1623.7 C1104.4,1624.4 1104.4,1626.4 1106.1,1627.1 C1107.8,1627.8 1107.8,1629.8 1106.1,1630.5 M1106.1,1634.0 C1107.8,1634.7 1107.8,1636.8 1106.1,1637.6 C1104.4,1638.3 1104.4,1640.4 1106.1,1641.1 C1107.8,1641.8 1107.8,1644.0 1106.1,1644.7 C1104.4,1645.4 1104.4,1647.5 1106.1,1648.2 C1107.8,1649.0 1107.8,1651.1 1106.1,1651.8 M1110.7,1613.5 C1112.4,1614.2 1112.4,1616.2 1110.7,1616.9 C1109.0,1617.6 1109.0,1619.6 1110.7,1620.3 C1112.4,1621.0 1112.4,1623.0 1110.7,1623.7 C1109.0,1624.4 1109.0,1626.4 1110.7,1627.1 C1112.4,1627.8 1112.4,1629.8 1110.7,1630.5 M1110.7,1634.0 C1112.4,1634.7 1112.4,1636.8 1110.7,1637.6 C1109.0,1638.3 1109.0,1640.4 1110.7,1641.1 C1112.4,1641.8 1112.4,1644.0 1110.7,1644.7 C1109.0,1645.4 1109.0,1647.5 1110.7,1648.2 C1112.4,1649.0 1112.4,1651.1 1110.7,1651.8 M1118.2,1613.5 C1119.9,1614.2 1119.9,1616.2 1118.2,1616.9 C1116.5,1617.6 1116.5,1619.6 1118.2,1620.3 C1119.9,1621.0 1119.9,1623.0 1118.2,1623.7 C1116.5,1624.4 1116.5,1626.4 1118.2,1627.1 C1119.9,1627.8 1119.9,1629.8 1118.2,1630.5 M1118.2,1634.0 C1119.9,1634.7 1119.9,1636.8 1118.2,1637.6 C1116.5,1638.3 1116.5,1640.4 1118.2,1641.1 C1119.9,1641.8 1119.9,1644.0 1118.2,1644.7 C1116.5,1645.4 1116.5,1647.5 1118.2,1648.2 C1119.9,1649.0 1119.9,1651.1 1118.2,1651.8 M1122.8,1613.5 C1124.5,1614.2 1124.5,1616.2 1122.8,1616.9 C1121.1,1617.6 1121.1,1619.6 1122.8,1620.3 C1124.5,1621.0 1124.5,1623.0 1122.8,1623.7 C1121.1,1624.4 1121.1,1626.4 1122.8,1627.1 C1124.5,1627.8 1124.5,1629.8 1122.8,1630.5 M1122.8,1634.0 C1124.5,1634.7 1124.5,1636.8 1122.8,1637.6 C1121.1,1638.3 1121.1,1640.4 1122.8,1641.1 C1124.5,1641.8 1124.5,1644.0 1122.8,1644.7 C1121.1,1645.4 1121.1,1647.5 1122.8,1648.2 C1124.5,1649.0 1124.5,1651.1 1122.8,1651.8 M1130.3,1613.5 C1132.0,1614.2 1132.0,1616.2 1130.3,1616.9 C1128.6,1617.6 1128.6,1619.6 1130.3,1620.3 C1132.0,1621.0 1132.0,1623.0 1130.3,1623.7 C1128.6,1624.4 1128.6,1626.4 1130.3,1627.1 C1132.0,1627.8 1132.0,1629.8 1130.3,1630.5 M1130.3,1634.0 C1132.0,1634.7 1132.0,1636.8 1130.3,1637.6 C1128.6,1638.3 1128.6,1640.4 1130.3,1641.1 C1132.0,1641.8 1132.0,1644.0 1130.3,1644.7 C1128.6,1645.4 1128.6,1647.5 1130.3,1648.2 C1132.0,1649.0 1132.0,1651.1 1130.3,1651.8 M1134.9,1613.5 C1136.6,1614.2 1136.6,1616.2 1134.9,1616.9 C1133.2,1617.6 1133.2,1619.6 1134.9,1620.3 C1136.6,1621.0 1136.6,1623.0 1134.9,1623.7 C1133.2,1624.4 1133.2,1626.4 1134.9,1627.1 C1136.6,1627.8 1136.6,1629.8 1134.9,1630.5 M1134.9,1634.0 C1136.6,1634.7 1136.6,1636.8 1134.9,1637.6 C1133.2,1638.3 1133.2,1640.4 1134.9,1641.1 C1136.6,1641.8 1136.6,1644.0 1134.9,1644.7 C1133.2,1645.4 1133.2,1647.5 1134.9,1648.2 C1136.6,1649.0 1136.6,1651.1 1134.9,1651.8 M1142.4,1613.5 C1144.1,1614.2 1144.1,1616.2 1142.4,1616.9 C1140.7,1617.6 1140.7,1619.6 1142.4,1620.3 C1144.1,1621.0 1144.1,1623.0 1142.4,1623.7 C1140.7,1624.4 1140.7,1626.4 1142.4,1627.1 C1144.1,1627.8 1144.1,1629.8 1142.4,1630.5 M1142.4,1634.0 C1144.1,1634.7 1144.1,1636.8 1142.4,1637.6 C1140.7,1638.3 1140.7,1640.4 1142.4,1641.1 C1144.1,1641.8 1144.1,1644.0 1142.4,1644.7 C1140.7,1645.4 1140.7,1647.5 1142.4,1648.2 C1144.1,1649.0 1144.1,1651.1 1142.4,1651.8 M1147.0,1613.5 C1148.7,1614.2 1148.7,1616.2 1147.0,1616.9 C1145.3,1617.6 1145.3,1619.6 1147.0,1620.3 C1148.7,1621.0 1148.7,1623.0 1147.0,1623.7 C1145.3,1624.4 1145.3,1626.4 1147.0,1627.1 C1148.7,1627.8 1148.7,1629.8 1147.0,1630.5 M1147.0,1634.0 C1148.7,1634.7 1148.7,1636.8 1147.0,1637.6 C1145.3,1638.3 1145.3,1640.4 1147.0,1641.1 C1148.7,1641.8 1148.7,1644.0 1147.0,1644.7 C1145.3,1645.4 1145.3,1647.5 1147.0,1648.2 C1148.7,1649.0 1148.7,1651.1 1147.0,1651.8 M1154.5,1613.5 C1156.2,1614.2 1156.2,1616.2 1154.5,1616.9 C1152.8,1617.6 1152.8,1619.6 1154.5,1620.3 C1156.2,1621.0 1156.2,1623.0 1154.5,1623.7 C1152.8,1624.4 1152.8,1626.4 1154.5,1627.1 C1156.2,1627.8 1156.2,1629.8 1154.5,1630.5 M1154.5,1634.0 C1156.2,1634.7 1156.2,1636.8 1154.5,1637.6 C1152.8,1638.3 1152.8,1640.4 1154.5,1641.1 C1156.2,1641.8 1156.2,1644.0 1154.5,1644.7 C1152.8,1645.4 1152.8,1647.5 1154.5,1648.2 C1156.2,1649.0 1156.2,1651.1 1154.5,1651.8 M1159.1,1613.5 C1160.8,1614.2 1160.8,1616.2 1159.1,1616.9 C1157.4,1617.6 1157.4,1619.6 1159.1,1620.3 C1160.8,1621.0 1160.8,1623.0 1159.1,1623.7 C1157.4,1624.4 1157.4,1626.4 1159.1,1627.1 C1160.8,1627.8 1160.8,1629.8 1159.1,1630.5 M1159.1,1634.0 C1160.8,1634.7 1160.8,1636.8 1159.1,1637.6 C1157.4,1638.3 1157.4,1640.4 1159.1,1641.1 C1160.8,1641.8 1160.8,1644.0 1159.1,1644.7 C1157.4,1645.4 1157.4,1647.5 1159.1,1648.2 C1160.8,1649.0 1160.8,1651.1 1159.1,1651.8 M1166.6,1613.5 C1168.3,1614.2 1168.3,1616.2 1166.6,1616.9 C1164.9,1617.6 1164.9,1619.6 1166.6,1620.3 C1168.3,1621.0 1168.3,1623.0 1166.6,1623.7 C1164.9,1624.4 1164.9,1626.4 1166.6,1627.1 C1168.3,1627.8 1168.3,1629.8 1166.6,1630.5 M1166.6,1634.0 C1168.3,1634.7 1168.3,1636.8 1166.6,1637.6 C1164.9,1638.3 1164.9,1640.4 1166.6,1641.1 C1168.3,1641.8 1168.3,1644.0 1166.6,1644.7 C1164.9,1645.4 1164.9,1647.5 1166.6,1648.2 C1168.3,1649.0 1168.3,1651.1 1166.6,1651.8 M1171.2,1613.5 C1172.9,1614.2 1172.9,1616.2 1171.2,1616.9 C1169.5,1617.6 1169.5,1619.6 1171.2,1620.3 C1172.9,1621.0 1172.9,1623.0 1171.2,1623.7 C1169.5,1624.4 1169.5,1626.4 1171.2,1627.1 C1172.9,1627.8 1172.9,1629.8 1171.2,1630.5 M1171.2,1634.0 C1172.9,1634.7 1172.9,1636.8 1171.2,1637.6 C1169.5,1638.3 1169.5,1640.4 1171.2,1641.1 C1172.9,1641.8 1172.9,1644.0 1171.2,1644.7 C1169.5,1645.4 1169.5,1647.5 1171.2,1648.2 C1172.9,1649.0 1172.9,1651.1 1171.2,1651.8 M1178.7,1613.5 C1180.4,1614.2 1180.4,1616.2 1178.7,1616.9 C1177.0,1617.6 1177.0,1619.6 1178.7,1620.3 C1180.4,1621.0 1180.4,1623.0 1178.7,1623.7 C1177.0,1624.4 1177.0,1626.4 1178.7,1627.1 C1180.4,1627.8 1180.4,1629.8 1178.7,1630.5 M1178.7,1634.0 C1180.4,1634.7 1180.4,1636.8 1178.7,1637.6 C1177.0,1638.3 1177.0,1640.4 1178.7,1641.1 C1180.4,1641.8 1180.4,1644.0 1178.7,1644.7 C1177.0,1645.4 1177.0,1647.5 1178.7,1648.2 C1180.4,1649.0 1180.4,1651.1 1178.7,1651.8 M1183.3,1613.5 C1185.0,1614.2 1185.0,1616.2 1183.3,1616.9 C1181.6,1617.6 1181.6,1619.6 1183.3,1620.3 C1185.0,1621.0 1185.0,1623.0 1183.3,1623.7 C1181.6,1624.4 1181.6,1626.4 1183.3,1627.1 C1185.0,1627.8 1185.0,1629.8 1183.3,1630.5 M1183.3,1634.0 C1185.0,1634.7 1185.0,1636.8 1183.3,1637.6 C1181.6,1638.3 1181.6,1640.4 1183.3,1641.1 C1185.0,1641.8 1185.0,1644.0 1183.3,1644.7 C1181.6,1645.4 1181.6,1647.5 1183.3,1648.2 C1185.0,1649.0 1185.0,1651.1 1183.3,1651.8 M1190.8,1613.5 C1192.5,1614.2 1192.5,1616.2 1190.8,1616.9 C1189.1,1617.6 1189.1,1619.6 1190.8,1620.3 C1192.5,1621.0 1192.5,1623.0 1190.8,1623.7 C1189.1,1624.4 1189.1,1626.4 1190.8,1627.1 C1192.5,1627.8 1192.5,1629.8 1190.8,1630.5 M1190.8,1634.0 C1192.5,1634.7 1192.5,1636.8 1190.8,1637.6 C1189.1,1638.3 1189.1,1640.4 1190.8,1641.1 C1192.5,1641.8 1192.5,1644.0 1190.8,1644.7 C1189.1,1645.4 1189.1,1647.5 1190.8,1648.2 C1192.5,1649.0 1192.5,1651.1 1190.8,1651.8 M1195.4,1613.5 C1197.1,1614.2 1197.1,1616.2 1195.4,1616.9 C1193.7,1617.6 1193.7,1619.6 1195.4,1620.3 C1197.1,1621.0 1197.1,1623.0 1195.4,1623.7 C1193.7,1624.4 1193.7,1626.4 1195.4,1627.1 C1197.1,1627.8 1197.1,1629.8 1195.4,1630.5 M1195.4,1634.0 C1197.1,1634.7 1197.1,1636.8 1195.4,1637.6 C1193.7,1638.3 1193.7,1640.4 1195.4,1641.1 C1197.1,1641.8 1197.1,1644.0 1195.4,1644.7 C1193.7,1645.4 1193.7,1647.5 1195.4,1648.2 C1197.1,1649.0 1197.1,1651.1 1195.4,1651.8 M1202.9,1613.5 C1204.6,1614.2 1204.6,1616.2 1202.9,1616.9 C1201.2,1617.6 1201.2,1619.6 1202.9,1620.3 C1204.6,1621.0 1204.6,1623.0 1202.9,1623.7 C1201.2,1624.4 1201.2,1626.4 1202.9,1627.1 C1204.6,1627.8 1204.6,1629.8 1202.9,1630.5 M1202.9,1634.0 C1204.6,1634.7 1204.6,1636.8 1202.9,1637.6 C1201.2,1638.3 1201.2,1640.4 1202.9,1641.1 C1204.6,1641.8 1204.6,1644.0 1202.9,1644.7 C1201.2,1645.4 1201.2,1647.5 1202.9,1648.2 C1204.6,1649.0 1204.6,1651.1 1202.9,1651.8 M1207.5,1613.5 C1209.2,1614.2 1209.2,1616.2 1207.5,1616.9 C1205.8,1617.6 1205.8,1619.6 1207.5,1620.3 C1209.2,1621.0 1209.2,1623.0 1207.5,1623.7 C1205.8,1624.4 1205.8,1626.4 1207.5,1627.1 C1209.2,1627.8 1209.2,1629.8 1207.5,1630.5 M1207.5,1634.0 C1209.2,1634.7 1209.2,1636.8 1207.5,1637.6 C1205.8,1638.3 1205.8,1640.4 1207.5,1641.1 C1209.2,1641.8 1209.2,1644.0 1207.5,1644.7 C1205.8,1645.4 1205.8,1647.5 1207.5,1648.2 C1209.2,1649.0 1209.2,1651.1 1207.5,1651.8 M1215.0,1613.5 C1216.7,1614.2 1216.7,1616.2 1215.0,1616.9 C1213.3,1617.6 1213.3,1619.6 1215.0,1620.3 C1216.7,1621.0 1216.7,1623.0 1215.0,1623.7 C1213.3,1624.4 1213.3,1626.4 1215.0,1627.1 C1216.7,1627.8 1216.7,1629.8 1215.0,1630.5 M1215.0,1634.0 C1216.7,1634.7 1216.7,1636.8 1215.0,1637.6 C1213.3,1638.3 1213.3,1640.4 1215.0,1641.1 C1216.7,1641.8 1216.7,1644.0 1215.0,1644.7 C1213.3,1645.4 1213.3,1647.5 1215.0,1648.2 C1216.7,1649.0 1216.7,1651.1 1215.0,1651.8 M1219.6,1613.5 C1221.3,1614.2 1221.3,1616.2 1219.6,1616.9 C1217.9,1617.6 1217.9,1619.6 1219.6,1620.3 C1221.3,1621.0 1221.3,1623.0 1219.6,1623.7 C1217.9,1624.4 1217.9,1626.4 1219.6,1627.1 C1221.3,1627.8 1221.3,1629.8 1219.6,1630.5 M1219.6,1634.0 C1221.3,1634.7 1221.3,1636.8 1219.6,1637.6 C1217.9,1638.3 1217.9,1640.4 1219.6,1641.1 C1221.3,1641.8 1221.3,1644.0 1219.6,1644.7 C1217.9,1645.4 1217.9,1647.5 1219.6,1648.2 C1221.3,1649.0 1221.3,1651.1 1219.6,1651.8 M1227.1,1613.5 C1228.8,1614.2 1228.8,1616.2 1227.1,1616.9 C1225.4,1617.6 1225.4,1619.6 1227.1,1620.3 C1228.8,1621.0 1228.8,1623.0 1227.1,1623.7 C1225.4,1624.4 1225.4,1626.4 1227.1,1627.1 C1228.8,1627.8 1228.8,1629.8 1227.1,1630.5 M1227.1,1634.0 C1228.8,1634.7 1228.8,1636.8 1227.1,1637.6 C1225.4,1638.3 1225.4,1640.4 1227.1,1641.1 C1228.8,1641.8 1228.8,1644.0 1227.1,1644.7 C1225.4,1645.4 1225.4,1647.5 1227.1,1648.2 C1228.8,1649.0 1228.8,1651.1 1227.1,1651.8 M1231.7,1613.5 C1233.4,1614.2 1233.4,1616.2 1231.7,1616.9 C1230.0,1617.6 1230.0,1619.6 1231.7,1620.3 C1233.4,1621.0 1233.4,1623.0 1231.7,1623.7 C1230.0,1624.4 1230.0,1626.4 1231.7,1627.1 C1233.4,1627.8 1233.4,1629.8 1231.7,1630.5 M1231.7,1634.0 C1233.4,1634.7 1233.4,1636.8 1231.7,1637.6 C1230.0,1638.3 1230.0,1640.4 1231.7,1641.1 C1233.4,1641.8 1233.4,1644.0 1231.7,1644.7 C1230.0,1645.4 1230.0,1647.5 1231.7,1648.2 C1233.4,1649.0 1233.4,1651.1 1231.7,1651.8 M1239.2,1613.5 C1240.9,1614.2 1240.9,1616.2 1239.2,1616.9 C1237.5,1617.6 1237.5,1619.6 1239.2,1620.3 C1240.9,1621.0 1240.9,1623.0 1239.2,1623.7 C1237.5,1624.4 1237.5,1626.4 1239.2,1627.1 C1240.9,1627.8 1240.9,1629.8 1239.2,1630.5 M1239.2,1634.0 C1240.9,1634.7 1240.9,1636.8 1239.2,1637.6 C1237.5,1638.3 1237.5,1640.4 1239.2,1641.1 C1240.9,1641.8 1240.9,1644.0 1239.2,1644.7 C1237.5,1645.4 1237.5,1647.5 1239.2,1648.2 C1240.9,1649.0 1240.9,1651.1 1239.2,1651.8 M1243.8,1613.5 C1245.5,1614.2 1245.5,1616.2 1243.8,1616.9 C1242.1,1617.6 1242.1,1619.6 1243.8,1620.3 C1245.5,1621.0 1245.5,1623.0 1243.8,1623.7 C1242.1,1624.4 1242.1,1626.4 1243.8,1627.1 C1245.5,1627.8 1245.5,1629.8 1243.8,1630.5 M1243.8,1634.0 C1245.5,1634.7 1245.5,1636.8 1243.8,1637.6 C1242.1,1638.3 1242.1,1640.4 1243.8,1641.1 C1245.5,1641.8 1245.5,1644.0 1243.8,1644.7 C1242.1,1645.4 1242.1,1647.5 1243.8,1648.2 C1245.5,1649.0 1245.5,1651.1 1243.8,1651.8 M1251.3,1613.5 C1253.0,1614.2 1253.0,1616.2 1251.3,1616.9 C1249.6,1617.6 1249.6,1619.6 1251.3,1620.3 C1253.0,1621.0 1253.0,1623.0 1251.3,1623.7 C1249.6,1624.4 1249.6,1626.4 1251.3,1627.1 C1253.0,1627.8 1253.0,1629.8 1251.3,1630.5 M1251.3,1634.0 C1253.0,1634.7 1253.0,1636.8 1251.3,1637.6 C1249.6,1638.3 1249.6,1640.4 1251.3,1641.1 C1253.0,1641.8 1253.0,1644.0 1251.3,1644.7 C1249.6,1645.4 1249.6,1647.5 1251.3,1648.2 C1253.0,1649.0 1253.0,1651.1 1251.3,1651.8 M1255.9,1613.5 C1257.6,1614.2 1257.6,1616.2 1255.9,1616.9 C1254.2,1617.6 1254.2,1619.6 1255.9,1620.3 C1257.6,1621.0 1257.6,1623.0 1255.9,1623.7 C1254.2,1624.4 1254.2,1626.4 1255.9,1627.1 C1257.6,1627.8 1257.6,1629.8 1255.9,1630.5 M1255.9,1634.0 C1257.6,1634.7 1257.6,1636.8 1255.9,1637.6 C1254.2,1638.3 1254.2,1640.4 1255.9,1641.1 C1257.6,1641.8 1257.6,1644.0 1255.9,1644.7 C1254.2,1645.4 1254.2,1647.5 1255.9,1648.2 C1257.6,1649.0 1257.6,1651.1 1255.9,1651.8 M1263.4,1613.5 C1265.1,1614.2 1265.1,1616.2 1263.4,1616.9 C1261.7,1617.6 1261.7,1619.6 1263.4,1620.3 C1265.1,1621.0 1265.1,1623.0 1263.4,1623.7 C1261.7,1624.4 1261.7,1626.4 1263.4,1627.1 C1265.1,1627.8 1265.1,1629.8 1263.4,1630.5 M1263.4,1634.0 C1265.1,1634.7 1265.1,1636.8 1263.4,1637.6 C1261.7,1638.3 1261.7,1640.4 1263.4,1641.1 C1265.1,1641.8 1265.1,1644.0 1263.4,1644.7 C1261.7,1645.4 1261.7,1647.5 1263.4,1648.2 C1265.1,1649.0 1265.1,1651.1 1263.4,1651.8 M1268.0,1613.5 C1269.7,1614.2 1269.7,1616.2 1268.0,1616.9 C1266.3,1617.6 1266.3,1619.6 1268.0,1620.3 C1269.7,1621.0 1269.7,1623.0 1268.0,1623.7 C1266.3,1624.4 1266.3,1626.4 1268.0,1627.1 C1269.7,1627.8 1269.7,1629.8 1268.0,1630.5 M1268.0,1634.0 C1269.7,1634.7 1269.7,1636.8 1268.0,1637.6 C1266.3,1638.3 1266.3,1640.4 1268.0,1641.1 C1269.7,1641.8 1269.7,1644.0 1268.0,1644.7 C1266.3,1645.4 1266.3,1647.5 1268.0,1648.2 C1269.7,1649.0 1269.7,1651.1 1268.0,1651.8 M1275.5,1613.5 C1277.2,1614.2 1277.2,1616.2 1275.5,1616.9 C1273.8,1617.6 1273.8,1619.6 1275.5,1620.3 C1277.2,1621.0 1277.2,1623.0 1275.5,1623.7 C1273.8,1624.4 1273.8,1626.4 1275.5,1627.1 C1277.2,1627.8 1277.2,1629.8 1275.5,1630.5 M1275.5,1634.0 C1277.2,1634.7 1277.2,1636.8 1275.5,1637.6 C1273.8,1638.3 1273.8,1640.4 1275.5,1641.1 C1277.2,1641.8 1277.2,1644.0 1275.5,1644.7 C1273.8,1645.4 1273.8,1647.5 1275.5,1648.2 C1277.2,1649.0 1277.2,1651.1 1275.5,1651.8 M1280.1,1613.5 C1281.8,1614.2 1281.8,1616.2 1280.1,1616.9 C1278.4,1617.6 1278.4,1619.6 1280.1,1620.3 C1281.8,1621.0 1281.8,1623.0 1280.1,1623.7 C1278.4,1624.4 1278.4,1626.4 1280.1,1627.1 C1281.8,1627.8 1281.8,1629.8 1280.1,1630.5 M1280.1,1634.0 C1281.8,1634.7 1281.8,1636.8 1280.1,1637.6 C1278.4,1638.3 1278.4,1640.4 1280.1,1641.1 C1281.8,1641.8 1281.8,1644.0 1280.1,1644.7 C1278.4,1645.4 1278.4,1647.5 1280.1,1648.2 C1281.8,1649.0 1281.8,1651.1 1280.1,1651.8 M1287.6,1613.5 C1289.3,1614.2 1289.3,1616.2 1287.6,1616.9 C1285.9,1617.6 1285.9,1619.6 1287.6,1620.3 C1289.3,1621.0 1289.3,1623.0 1287.6,1623.7 C1285.9,1624.4 1285.9,1626.4 1287.6,1627.1 C1289.3,1627.8 1289.3,1629.8 1287.6,1630.5 M1287.6,1634.0 C1289.3,1634.7 1289.3,1636.8 1287.6,1637.6 C1285.9,1638.3 1285.9,1640.4 1287.6,1641.1 C1289.3,1641.8 1289.3,1644.0 1287.6,1644.7 C1285.9,1645.4 1285.9,1647.5 1287.6,1648.2 C1289.3,1649.0 1289.3,1651.1 1287.6,1651.8 M1292.2,1613.5 C1293.9,1614.2 1293.9,1616.2 1292.2,1616.9 C1290.5,1617.6 1290.5,1619.6 1292.2,1620.3 C1293.9,1621.0 1293.9,1623.0 1292.2,1623.7 C1290.5,1624.4 1290.5,1626.4 1292.2,1627.1 C1293.9,1627.8 1293.9,1629.8 1292.2,1630.5 M1292.2,1634.0 C1293.9,1634.7 1293.9,1636.8 1292.2,1637.6 C1290.5,1638.3 1290.5,1640.4 1292.2,1641.1 C1293.9,1641.8 1293.9,1644.0 1292.2,1644.7 C1290.5,1645.4 1290.5,1647.5 1292.2,1648.2 C1293.9,1649.0 1293.9,1651.1 1292.2,1651.8 M1299.7,1613.5 C1301.4,1614.2 1301.4,1616.2 1299.7,1616.9 C1298.0,1617.6 1298.0,1619.6 1299.7,1620.3 C1301.4,1621.0 1301.4,1623.0 1299.7,1623.7 C1298.0,1624.4 1298.0,1626.4 1299.7,1627.1 C1301.4,1627.8 1301.4,1629.8 1299.7,1630.5 M1299.7,1634.0 C1301.4,1634.7 1301.4,1636.8 1299.7,1637.6 C1298.0,1638.3 1298.0,1640.4 1299.7,1641.1 C1301.4,1641.8 1301.4,1644.0 1299.7,1644.7 C1298.0,1645.4 1298.0,1647.5 1299.7,1648.2 C1301.4,1649.0 1301.4,1651.1 1299.7,1651.8 M1304.3,1613.5 C1306.0,1614.2 1306.0,1616.2 1304.3,1616.9 C1302.6,1617.6 1302.6,1619.6 1304.3,1620.3 C1306.0,1621.0 1306.0,1623.0 1304.3,1623.7 C1302.6,1624.4 1302.6,1626.4 1304.3,1627.1 C1306.0,1627.8 1306.0,1629.8 1304.3,1630.5 M1304.3,1634.0 C1306.0,1634.7 1306.0,1636.8 1304.3,1637.6 C1302.6,1638.3 1302.6,1640.4 1304.3,1641.1 C1306.0,1641.8 1306.0,1644.0 1304.3,1644.7 C1302.6,1645.4 1302.6,1647.5 1304.3,1648.2 C1306.0,1649.0 1306.0,1651.1 1304.3,1651.8 M1311.8,1613.5 C1313.5,1614.2 1313.5,1616.2 1311.8,1616.9 C1310.1,1617.6 1310.1,1619.6 1311.8,1620.3 C1313.5,1621.0 1313.5,1623.0 1311.8,1623.7 C1310.1,1624.4 1310.1,1626.4 1311.8,1627.1 C1313.5,1627.8 1313.5,1629.8 1311.8,1630.5 M1311.8,1634.0 C1313.5,1634.7 1313.5,1636.8 1311.8,1637.6 C1310.1,1638.3 1310.1,1640.4 1311.8,1641.1 C1313.5,1641.8 1313.5,1644.0 1311.8,1644.7 C1310.1,1645.4 1310.1,1647.5 1311.8,1648.2 C1313.5,1649.0 1313.5,1651.1 1311.8,1651.8 M1316.4,1613.5 C1318.1,1614.2 1318.1,1616.2 1316.4,1616.9 C1314.7,1617.6 1314.7,1619.6 1316.4,1620.3 C1318.1,1621.0 1318.1,1623.0 1316.4,1623.7 C1314.7,1624.4 1314.7,1626.4 1316.4,1627.1 C1318.1,1627.8 1318.1,1629.8 1316.4,1630.5 M1316.4,1634.0 C1318.1,1634.7 1318.1,1636.8 1316.4,1637.6 C1314.7,1638.3 1314.7,1640.4 1316.4,1641.1 C1318.1,1641.8 1318.1,1644.0 1316.4,1644.7 C1314.7,1645.4 1314.7,1647.5 1316.4,1648.2 C1318.1,1649.0 1318.1,1651.1 1316.4,1651.8 M1323.9,1613.5 C1325.6,1614.2 1325.6,1616.2 1323.9,1616.9 C1322.2,1617.6 1322.2,1619.6 1323.9,1620.3 C1325.6,1621.0 1325.6,1623.0 1323.9,1623.7 C1322.2,1624.4 1322.2,1626.4 1323.9,1627.1 C1325.6,1627.8 1325.6,1629.8 1323.9,1630.5 M1323.9,1634.0 C1325.6,1634.7 1325.6,1636.8 1323.9,1637.6 C1322.2,1638.3 1322.2,1640.4 1323.9,1641.1 C1325.6,1641.8 1325.6,1644.0 1323.9,1644.7 C1322.2,1645.4 1322.2,1647.5 1323.9,1648.2 C1325.6,1649.0 1325.6,1651.1 1323.9,1651.8 M1328.5,1613.5 C1330.2,1614.2 1330.2,1616.2 1328.5,1616.9 C1326.8,1617.6 1326.8,1619.6 1328.5,1620.3 C1330.2,1621.0 1330.2,1623.0 1328.5,1623.7 C1326.8,1624.4 1326.8,1626.4 1328.5,1627.1 C1330.2,1627.8 1330.2,1629.8 1328.5,1630.5 M1328.5,1634.0 C1330.2,1634.7 1330.2,1636.8 1328.5,1637.6 C1326.8,1638.3 1326.8,1640.4 1328.5,1641.1 C1330.2,1641.8 1330.2,1644.0 1328.5,1644.7 C1326.8,1645.4 1326.8,1647.5 1328.5,1648.2 C1330.2,1649.0 1330.2,1651.1 1328.5,1651.8 M1336.0,1613.5 C1337.7,1614.2 1337.7,1616.2 1336.0,1616.9 C1334.3,1617.6 1334.3,1619.6 1336.0,1620.3 C1337.7,1621.0 1337.7,1623.0 1336.0,1623.7 C1334.3,1624.4 1334.3,1626.4 1336.0,1627.1 C1337.7,1627.8 1337.7,1629.8 1336.0,1630.5 M1336.0,1634.0 C1337.7,1634.7 1337.7,1636.8 1336.0,1637.6 C1334.3,1638.3 1334.3,1640.4 1336.0,1641.1 C1337.7,1641.8 1337.7,1644.0 1336.0,1644.7 C1334.3,1645.4 1334.3,1647.5 1336.0,1648.2 C1337.7,1649.0 1337.7,1651.1 1336.0,1651.8 M1340.6,1613.5 C1342.3,1614.2 1342.3,1616.2 1340.6,1616.9 C1338.9,1617.6 1338.9,1619.6 1340.6,1620.3 C1342.3,1621.0 1342.3,1623.0 1340.6,1623.7 C1338.9,1624.4 1338.9,1626.4 1340.6,1627.1 C1342.3,1627.8 1342.3,1629.8 1340.6,1630.5 M1340.6,1634.0 C1342.3,1634.7 1342.3,1636.8 1340.6,1637.6 C1338.9,1638.3 1338.9,1640.4 1340.6,1641.1 C1342.3,1641.8 1342.3,1644.0 1340.6,1644.7 C1338.9,1645.4 1338.9,1647.5 1340.6,1648.2 C1342.3,1649.0 1342.3,1651.1 1340.6,1651.8 M1348.1,1613.5 C1349.8,1614.2 1349.8,1616.2 1348.1,1616.9 C1346.4,1617.6 1346.4,1619.6 1348.1,1620.3 C1349.8,1621.0 1349.8,1623.0 1348.1,1623.7 C1346.4,1624.4 1346.4,1626.4 1348.1,1627.1 C1349.8,1627.8 1349.8,1629.8 1348.1,1630.5 M1348.1,1634.0 C1349.8,1634.7 1349.8,1636.8 1348.1,1637.6 C1346.4,1638.3 1346.4,1640.4 1348.1,1641.1 C1349.8,1641.8 1349.8,1644.0 1348.1,1644.7 C1346.4,1645.4 1346.4,1647.5 1348.1,1648.2 C1349.8,1649.0 1349.8,1651.1 1348.1,1651.8 M1352.7,1613.5 C1354.4,1614.2 1354.4,1616.2 1352.7,1616.9 C1351.0,1617.6 1351.0,1619.6 1352.7,1620.3 C1354.4,1621.0 1354.4,1623.0 1352.7,1623.7 C1351.0,1624.4 1351.0,1626.4 1352.7,1627.1 C1354.4,1627.8 1354.4,1629.8 1352.7,1630.5 M1352.7,1634.0 C1354.4,1634.7 1354.4,1636.8 1352.7,1637.6 C1351.0,1638.3 1351.0,1640.4 1352.7,1641.1 C1354.4,1641.8 1354.4,1644.0 1352.7,1644.7 C1351.0,1645.4 1351.0,1647.5 1352.7,1648.2 C1354.4,1649.0 1354.4,1651.1 1352.7,1651.8 M1360.2,1613.5 C1361.9,1614.2 1361.9,1616.2 1360.2,1616.9 C1358.5,1617.6 1358.5,1619.6 1360.2,1620.3 C1361.9,1621.0 1361.9,1623.0 1360.2,1623.7 C1358.5,1624.4 1358.5,1626.4 1360.2,1627.1 C1361.9,1627.8 1361.9,1629.8 1360.2,1630.5 M1360.2,1634.0 C1361.9,1634.7 1361.9,1636.8 1360.2,1637.6 C1358.5,1638.3 1358.5,1640.4 1360.2,1641.1 C1361.9,1641.8 1361.9,1644.0 1360.2,1644.7 C1358.5,1645.4 1358.5,1647.5 1360.2,1648.2 C1361.9,1649.0 1361.9,1651.1 1360.2,1651.8 M1364.8,1613.5 C1366.5,1614.2 1366.5,1616.2 1364.8,1616.9 C1363.1,1617.6 1363.1,1619.6 1364.8,1620.3 C1366.5,1621.0 1366.5,1623.0 1364.8,1623.7 C1363.1,1624.4 1363.1,1626.4 1364.8,1627.1 C1366.5,1627.8 1366.5,1629.8 1364.8,1630.5 M1364.8,1634.0 C1366.5,1634.7 1366.5,1636.8 1364.8,1637.6 C1363.1,1638.3 1363.1,1640.4 1364.8,1641.1 C1366.5,1641.8 1366.5,1644.0 1364.8,1644.7 C1363.1,1645.4 1363.1,1647.5 1364.8,1648.2 C1366.5,1649.0 1366.5,1651.1 1364.8,1651.8 M1372.3,1613.5 C1374.0,1614.2 1374.0,1616.2 1372.3,1616.9 C1370.6,1617.6 1370.6,1619.6 1372.3,1620.3 C1374.0,1621.0 1374.0,1623.0 1372.3,1623.7 C1370.6,1624.4 1370.6,1626.4 1372.3,1627.1 C1374.0,1627.8 1374.0,1629.8 1372.3,1630.5 M1372.3,1634.0 C1374.0,1634.7 1374.0,1636.8 1372.3,1637.6 C1370.6,1638.3 1370.6,1640.4 1372.3,1641.1 C1374.0,1641.8 1374.0,1644.0 1372.3,1644.7 C1370.6,1645.4 1370.6,1647.5 1372.3,1648.2 C1374.0,1649.0 1374.0,1651.1 1372.3,1651.8 M1376.9,1613.5 C1378.6,1614.2 1378.6,1616.2 1376.9,1616.9 C1375.2,1617.6 1375.2,1619.6 1376.9,1620.3 C1378.6,1621.0 1378.6,1623.0 1376.9,1623.7 C1375.2,1624.4 1375.2,1626.4 1376.9,1627.1 C1378.6,1627.8 1378.6,1629.8 1376.9,1630.5 M1376.9,1634.0 C1378.6,1634.7 1378.6,1636.8 1376.9,1637.6 C1375.2,1638.3 1375.2,1640.4 1376.9,1641.1 C1378.6,1641.8 1378.6,1644.0 1376.9,1644.7 C1375.2,1645.4 1375.2,1647.5 1376.9,1648.2 C1378.6,1649.0 1378.6,1651.1 1376.9,1651.8 M1384.4,1613.5 C1386.1,1614.2 1386.1,1616.2 1384.4,1616.9 C1382.7,1617.6 1382.7,1619.6 1384.4,1620.3 C1386.1,1621.0 1386.1,1623.0 1384.4,1623.7 C1382.7,1624.4 1382.7,1626.4 1384.4,1627.1 C1386.1,1627.8 1386.1,1629.8 1384.4,1630.5 M1384.4,1634.0 C1386.1,1634.7 1386.1,1636.8 1384.4,1637.6 C1382.7,1638.3 1382.7,1640.4 1384.4,1641.1 C1386.1,1641.8 1386.1,1644.0 1384.4,1644.7 C1382.7,1645.4 1382.7,1647.5 1384.4,1648.2 C1386.1,1649.0 1386.1,1651.1 1384.4,1651.8 M1389.0,1613.5 C1390.7,1614.2 1390.7,1616.2 1389.0,1616.9 C1387.3,1617.6 1387.3,1619.6 1389.0,1620.3 C1390.7,1621.0 1390.7,1623.0 1389.0,1623.7 C1387.3,1624.4 1387.3,1626.4 1389.0,1627.1 C1390.7,1627.8 1390.7,1629.8 1389.0,1630.5 M1389.0,1634.0 C1390.7,1634.7 1390.7,1636.8 1389.0,1637.6 C1387.3,1638.3 1387.3,1640.4 1389.0,1641.1 C1390.7,1641.8 1390.7,1644.0 1389.0,1644.7 C1387.3,1645.4 1387.3,1647.5 1389.0,1648.2 C1390.7,1649.0 1390.7,1651.1 1389.0,1651.8 M1396.5,1613.5 C1398.2,1614.2 1398.2,1616.2 1396.5,1616.9 C1394.8,1617.6 1394.8,1619.6 1396.5,1620.3 C1398.2,1621.0 1398.2,1623.0 1396.5,1623.7 C1394.8,1624.4 1394.8,1626.4 1396.5,1627.1 C1398.2,1627.8 1398.2,1629.8 1396.5,1630.5 M1396.5,1634.0 C1398.2,1634.7 1398.2,1636.8 1396.5,1637.6 C1394.8,1638.3 1394.8,1640.4 1396.5,1641.1 C1398.2,1641.8 1398.2,1644.0 1396.5,1644.7 C1394.8,1645.4 1394.8,1647.5 1396.5,1648.2 C1398.2,1649.0 1398.2,1651.1 1396.5,1651.8 M1401.1,1613.5 C1402.8,1614.2 1402.8,1616.2 1401.1,1616.9 C1399.4,1617.6 1399.4,1619.6 1401.1,1620.3 C1402.8,1621.0 1402.8,1623.0 1401.1,1623.7 C1399.4,1624.4 1399.4,1626.4 1401.1,1627.1 C1402.8,1627.8 1402.8,1629.8 1401.1,1630.5 M1401.1,1634.0 C1402.8,1634.7 1402.8,1636.8 1401.1,1637.6 C1399.4,1638.3 1399.4,1640.4 1401.1,1641.1 C1402.8,1641.8 1402.8,1644.0 1401.1,1644.7 C1399.4,1645.4 1399.4,1647.5 1401.1,1648.2 C1402.8,1649.0 1402.8,1651.1 1401.1,1651.8 M1408.6,1613.5 C1410.3,1614.2 1410.3,1616.2 1408.6,1616.9 C1406.9,1617.6 1406.9,1619.6 1408.6,1620.3 C1410.3,1621.0 1410.3,1623.0 1408.6,1623.7 C1406.9,1624.4 1406.9,1626.4 1408.6,1627.1 C1410.3,1627.8 1410.3,1629.8 1408.6,1630.5 M1408.6,1634.0 C1410.3,1634.7 1410.3,1636.8 1408.6,1637.6 C1406.9,1638.3 1406.9,1640.4 1408.6,1641.1 C1410.3,1641.8 1410.3,1644.0 1408.6,1644.7 C1406.9,1645.4 1406.9,1647.5 1408.6,1648.2 C1410.3,1649.0 1410.3,1651.1 1408.6,1651.8 M1413.2,1613.5 C1414.9,1614.2 1414.9,1616.2 1413.2,1616.9 C1411.5,1617.6 1411.5,1619.6 1413.2,1620.3 C1414.9,1621.0 1414.9,1623.0 1413.2,1623.7 C1411.5,1624.4 1411.5,1626.4 1413.2,1627.1 C1414.9,1627.8 1414.9,1629.8 1413.2,1630.5 M1413.2,1634.0 C1414.9,1634.7 1414.9,1636.8 1413.2,1637.6 C1411.5,1638.3 1411.5,1640.4 1413.2,1641.1 C1414.9,1641.8 1414.9,1644.0 1413.2,1644.7 C1411.5,1645.4 1411.5,1647.5 1413.2,1648.2 C1414.9,1649.0 1414.9,1651.1 1413.2,1651.8 M1420.7,1613.5 C1422.4,1614.2 1422.4,1616.2 1420.7,1616.9 C1419.0,1617.6 1419.0,1619.6 1420.7,1620.3 C1422.4,1621.0 1422.4,1623.0 1420.7,1623.7 C1419.0,1624.4 1419.0,1626.4 1420.7,1627.1 C1422.4,1627.8 1422.4,1629.8 1420.7,1630.5 M1420.7,1634.0 C1422.4,1634.7 1422.4,1636.8 1420.7,1637.6 C1419.0,1638.3 1419.0,1640.4 1420.7,1641.1 C1422.4,1641.8 1422.4,1644.0 1420.7,1644.7 C1419.0,1645.4 1419.0,1647.5 1420.7,1648.2 C1422.4,1649.0 1422.4,1651.1 1420.7,1651.8 M1425.3,1613.5 C1427.0,1614.2 1427.0,1616.2 1425.3,1616.9 C1423.6,1617.6 1423.6,1619.6 1425.3,1620.3 C1427.0,1621.0 1427.0,1623.0 1425.3,1623.7 C1423.6,1624.4 1423.6,1626.4 1425.3,1627.1 C1427.0,1627.8 1427.0,1629.8 1425.3,1630.5 M1425.3,1634.0 C1427.0,1634.7 1427.0,1636.8 1425.3,1637.6 C1423.6,1638.3 1423.6,1640.4 1425.3,1641.1 C1427.0,1641.8 1427.0,1644.0 1425.3,1644.7 C1423.6,1645.4 1423.6,1647.5 1425.3,1648.2 C1427.0,1649.0 1427.0,1651.1 1425.3,1651.8 M1432.8,1613.5 C1434.5,1614.2 1434.5,1616.2 1432.8,1616.9 C1431.1,1617.6 1431.1,1619.6 1432.8,1620.3 C1434.5,1621.0 1434.5,1623.0 1432.8,1623.7 C1431.1,1624.4 1431.1,1626.4 1432.8,1627.1 C1434.5,1627.8 1434.5,1629.8 1432.8,1630.5 M1432.8,1634.0 C1434.5,1634.7 1434.5,1636.8 1432.8,1637.6 C1431.1,1638.3 1431.1,1640.4 1432.8,1641.1 C1434.5,1641.8 1434.5,1644.0 1432.8,1644.7 C1431.1,1645.4 1431.1,1647.5 1432.8,1648.2 C1434.5,1649.0 1434.5,1651.1 1432.8,1651.8 M1437.4,1613.5 C1439.1,1614.2 1439.1,1616.2 1437.4,1616.9 C1435.7,1617.6 1435.7,1619.6 1437.4,1620.3 C1439.1,1621.0 1439.1,1623.0 1437.4,1623.7 C1435.7,1624.4 1435.7,1626.4 1437.4,1627.1 C1439.1,1627.8 1439.1,1629.8 1437.4,1630.5 M1437.4,1634.0 C1439.1,1634.7 1439.1,1636.8 1437.4,1637.6 C1435.7,1638.3 1435.7,1640.4 1437.4,1641.1 C1439.1,1641.8 1439.1,1644.0 1437.4,1644.7 C1435.7,1645.4 1435.7,1647.5 1437.4,1648.2 C1439.1,1649.0 1439.1,1651.1 1437.4,1651.8 M1444.9,1613.5 C1446.6,1614.2 1446.6,1616.2 1444.9,1616.9 C1443.2,1617.6 1443.2,1619.6 1444.9,1620.3 C1446.6,1621.0 1446.6,1623.0 1444.9,1623.7 C1443.2,1624.4 1443.2,1626.4 1444.9,1627.1 C1446.6,1627.8 1446.6,1629.8 1444.9,1630.5 M1444.9,1634.0 C1446.6,1634.7 1446.6,1636.8 1444.9,1637.6 C1443.2,1638.3 1443.2,1640.4 1444.9,1641.1 C1446.6,1641.8 1446.6,1644.0 1444.9,1644.7 C1443.2,1645.4 1443.2,1647.5 1444.9,1648.2 C1446.6,1649.0 1446.6,1651.1 1444.9,1651.8 M1449.5,1613.5 C1451.2,1614.2 1451.2,1616.2 1449.5,1616.9 C1447.8,1617.6 1447.8,1619.6 1449.5,1620.3 C1451.2,1621.0 1451.2,1623.0 1449.5,1623.7 C1447.8,1624.4 1447.8,1626.4 1449.5,1627.1 C1451.2,1627.8 1451.2,1629.8 1449.5,1630.5 M1449.5,1634.0 C1451.2,1634.7 1451.2,1636.8 1449.5,1637.6 C1447.8,1638.3 1447.8,1640.4 1449.5,1641.1 C1451.2,1641.8 1451.2,1644.0 1449.5,1644.7 C1447.8,1645.4 1447.8,1647.5 1449.5,1648.2 C1451.2,1649.0 1451.2,1651.1 1449.5,1651.8 M1457.0,1613.5 C1458.7,1614.2 1458.7,1616.2 1457.0,1616.9 C1455.3,1617.6 1455.3,1619.6 1457.0,1620.3 C1458.7,1621.0 1458.7,1623.0 1457.0,1623.7 C1455.3,1624.4 1455.3,1626.4 1457.0,1627.1 C1458.7,1627.8 1458.7,1629.8 1457.0,1630.5 M1457.0,1634.0 C1458.7,1634.7 1458.7,1636.8 1457.0,1637.6 C1455.3,1638.3 1455.3,1640.4 1457.0,1641.1 C1458.7,1641.8 1458.7,1644.0 1457.0,1644.7 C1455.3,1645.4 1455.3,1647.5 1457.0,1648.2 C1458.7,1649.0 1458.7,1651.1 1457.0,1651.8 M1461.6,1613.5 C1463.3,1614.2 1463.3,1616.2 1461.6,1616.9 C1459.9,1617.6 1459.9,1619.6 1461.6,1620.3 C1463.3,1621.0 1463.3,1623.0 1461.6,1623.7 C1459.9,1624.4 1459.9,1626.4 1461.6,1627.1 C1463.3,1627.8 1463.3,1629.8 1461.6,1630.5 M1461.6,1634.0 C1463.3,1634.7 1463.3,1636.8 1461.6,1637.6 C1459.9,1638.3 1459.9,1640.4 1461.6,1641.1 C1463.3,1641.8 1463.3,1644.0 1461.6,1644.7 C1459.9,1645.4 1459.9,1647.5 1461.6,1648.2 C1463.3,1649.0 1463.3,1651.1 1461.6,1651.8 M1469.1,1613.5 C1470.8,1614.2 1470.8,1616.2 1469.1,1616.9 C1467.4,1617.6 1467.4,1619.6 1469.1,1620.3 C1470.8,1621.0 1470.8,1623.0 1469.1,1623.7 C1467.4,1624.4 1467.4,1626.4 1469.1,1627.1 C1470.8,1627.8 1470.8,1629.8 1469.1,1630.5 M1469.1,1634.0 C1470.8,1634.7 1470.8,1636.8 1469.1,1637.6 C1467.4,1638.3 1467.4,1640.4 1469.1,1641.1 C1470.8,1641.8 1470.8,1644.0 1469.1,1644.7 C1467.4,1645.4 1467.4,1647.5 1469.1,1648.2 C1470.8,1649.0 1470.8,1651.1 1469.1,1651.8 M1473.7,1613.5 C1475.4,1614.2 1475.4,1616.2 1473.7,1616.9 C1472.0,1617.6 1472.0,1619.6 1473.7,1620.3 C1475.4,1621.0 1475.4,1623.0 1473.7,1623.7 C1472.0,1624.4 1472.0,1626.4 1473.7,1627.1 C1475.4,1627.8 1475.4,1629.8 1473.7,1630.5 M1473.7,1634.0 C1475.4,1634.7 1475.4,1636.8 1473.7,1637.6 C1472.0,1638.3 1472.0,1640.4 1473.7,1641.1 C1475.4,1641.8 1475.4,1644.0 1473.7,1644.7 C1472.0,1645.4 1472.0,1647.5 1473.7,1648.2 C1475.4,1649.0 1475.4,1651.1 1473.7,1651.8 M1481.2,1613.5 C1482.9,1614.2 1482.9,1616.2 1481.2,1616.9 C1479.5,1617.6 1479.5,1619.6 1481.2,1620.3 C1482.9,1621.0 1482.9,1623.0 1481.2,1623.7 C1479.5,1624.4 1479.5,1626.4 1481.2,1627.1 C1482.9,1627.8 1482.9,1629.8 1481.2,1630.5 M1481.2,1634.0 C1482.9,1634.7 1482.9,1636.8 1481.2,1637.6 C1479.5,1638.3 1479.5,1640.4 1481.2,1641.1 C1482.9,1641.8 1482.9,1644.0 1481.2,1644.7 C1479.5,1645.4 1479.5,1647.5 1481.2,1648.2 C1482.9,1649.0 1482.9,1651.1 1481.2,1651.8 M1485.8,1613.5 C1487.5,1614.2 1487.5,1616.2 1485.8,1616.9 C1484.1,1617.6 1484.1,1619.6 1485.8,1620.3 C1487.5,1621.0 1487.5,1623.0 1485.8,1623.7 C1484.1,1624.4 1484.1,1626.4 1485.8,1627.1 C1487.5,1627.8 1487.5,1629.8 1485.8,1630.5 M1485.8,1634.0 C1487.5,1634.7 1487.5,1636.8 1485.8,1637.6 C1484.1,1638.3 1484.1,1640.4 1485.8,1641.1 C1487.5,1641.8 1487.5,1644.0 1485.8,1644.7 C1484.1,1645.4 1484.1,1647.5 1485.8,1648.2 C1487.5,1649.0 1487.5,1651.1 1485.8,1651.8" fill="none" stroke="#f3dc8c" stroke-width="1.5"/>
<circle cx="1060.0" cy="1606.5" r="6.2" fill="url(#phead)"/>
<circle cx="1072.1" cy="1606.5" r="6.2" fill="url(#phead)"/>
<circle cx="1084.2" cy="1606.5" r="6.2" fill="url(#phead)"/>
<circle cx="1096.3" cy="1606.5" r="6.2" fill="url(#phead)"/>
<circle cx="1108.4" cy="1606.5" r="6.2" fill="url(#phead)"/>
<circle cx="1120.5" cy="1606.5" r="6.2" fill="url(#phead)"/>
<circle cx="1132.6" cy="1606.5" r="6.2" fill="url(#phead)"/>
<circle cx="1144.7" cy="1606.5" r="6.2" fill="url(#phead)"/>
<circle cx="1156.8" cy="1606.5" r="6.2" fill="url(#phead)"/>
<circle cx="1168.9" cy="1606.5" r="6.2" fill="url(#phead)"/>
<circle cx="1181.0" cy="1606.5" r="6.2" fill="url(#phead)"/>
<circle cx="1193.1" cy="1606.5" r="6.2" fill="url(#phead)"/>
<circle cx="1205.2" cy="1606.5" r="6.2" fill="url(#phead)"/>
<circle cx="1217.3" cy="1606.5" r="6.2" fill="url(#phead)"/>
<circle cx="1229.4" cy="1606.5" r="6.2" fill="url(#phead)"/>
<circle cx="1241.5" cy="1606.5" r="6.2" fill="url(#phead)"/>
<circle cx="1253.6" cy="1606.5" r="6.2" fill="url(#phead)"/>
<circle cx="1265.7" cy="1606.5" r="6.2" fill="url(#phead)"/>
<circle cx="1277.8" cy="1606.5" r="6.2" fill="url(#phead)"/>
<circle cx="1289.9" cy="1606.5" r="6.2" fill="url(#phead)"/>
<circle cx="1302.0" cy="1606.5" r="6.2" fill="url(#phead)"/>
<circle cx="1314.1" cy="1606.5" r="6.2" fill="url(#phead)"/>
<circle cx="1326.2" cy="1606.5" r="6.2" fill="url(#phead)"/>
<circle cx="1338.3" cy="1606.5" r="6.2" fill="url(#phead)"/>
<circle cx="1350.4" cy="1606.5" r="6.2" fill="url(#phead)"/>
<circle cx="1362.5" cy="1606.5" r="6.2" fill="url(#phead)"/>
<circle cx="1374.6" cy="1606.5" r="6.2" fill="url(#phead)"/>
<circle cx="1386.7" cy="1606.5" r="6.2" fill="url(#phead)"/>
<circle cx="1398.8" cy="1606.5" r="6.2" fill="url(#phead)"/>
<circle cx="1410.9" cy="1606.5" r="6.2" fill="url(#phead)"/>
<circle cx="1423.0" cy="1606.5" r="6.2" fill="url(#phead)"/>
<circle cx="1435.1" cy="1606.5" r="6.2" fill="url(#phead)"/>
<circle cx="1447.2" cy="1606.5" r="6.2" fill="url(#phead)"/>
<circle cx="1459.3" cy="1606.5" r="6.2" fill="url(#phead)"/>
<circle cx="1471.4" cy="1606.5" r="6.2" fill="url(#phead)"/>
<circle cx="1483.5" cy="1606.5" r="6.2" fill="url(#phead)"/>
<circle cx="1060.0" cy="1657.5" r="6.2" fill="url(#phead)"/>
<circle cx="1072.1" cy="1657.5" r="6.2" fill="url(#phead)"/>
<circle cx="1084.2" cy="1657.5" r="6.2" fill="url(#phead)"/>
<circle cx="1096.3" cy="1657.5" r="6.2" fill="url(#phead)"/>
<circle cx="1108.4" cy="1657.5" r="6.2" fill="url(#phead)"/>
<circle cx="1120.5" cy="1657.5" r="6.2" fill="url(#phead)"/>
<circle cx="1132.6" cy="1657.5" r="6.2" fill="url(#phead)"/>
<circle cx="1144.7" cy="1657.5" r="6.2" fill="url(#phead)"/>
<circle cx="1156.8" cy="1657.5" r="6.2" fill="url(#phead)"/>
<circle cx="1168.9" cy="1657.5" r="6.2" fill="url(#phead)"/>
<circle cx="1181.0" cy="1657.5" r="6.2" fill="url(#phead)"/>
<circle cx="1193.1" cy="1657.5" r="6.2" fill="url(#phead)"/>
<circle cx="1205.2" cy="1657.5" r="6.2" fill="url(#phead)"/>
<circle cx="1217.3" cy="1657.5" r="6.2" fill="url(#phead)"/>
<circle cx="1229.4" cy="1657.5" r="6.2" fill="url(#phead)"/>
<circle cx="1241.5" cy="1657.5" r="6.2" fill="url(#phead)"/>
<circle cx="1253.6" cy="1657.5" r="6.2" fill="url(#phead)"/>
<circle cx="1265.7" cy="1657.5" r="6.2" fill="url(#phead)"/>
<circle cx="1277.8" cy="1657.5" r="6.2" fill="url(#phead)"/>
<circle cx="1289.9" cy="1657.5" r="6.2" fill="url(#phead)"/>
<circle cx="1302.0" cy="1657.5" r="6.2" fill="url(#phead)"/>
<circle cx="1314.1" cy="1657.5" r="6.2" fill="url(#phead)"/>
<circle cx="1326.2" cy="1657.5" r="6.2" fill="url(#phead)"/>
<circle cx="1338.3" cy="1657.5" r="6.2" fill="url(#phead)"/>
<circle cx="1350.4" cy="1657.5" r="6.2" fill="url(#phead)"/>
<circle cx="1362.5" cy="1657.5" r="6.2" fill="url(#phead)"/>
<circle cx="1374.6" cy="1657.5" r="6.2" fill="url(#phead)"/>
<circle cx="1386.7" cy="1657.5" r="6.2" fill="url(#phead)"/>
<circle cx="1398.8" cy="1657.5" r="6.2" fill="url(#phead)"/>
<circle cx="1410.9" cy="1657.5" r="6.2" fill="url(#phead)"/>
<circle cx="1423.0" cy="1657.5" r="6.2" fill="url(#phead)"/>
<circle cx="1435.1" cy="1657.5" r="6.2" fill="url(#phead)"/>
<circle cx="1447.2" cy="1657.5" r="6.2" fill="url(#phead)"/>
<circle cx="1459.3" cy="1657.5" r="6.2" fill="url(#phead)"/>
<circle cx="1471.4" cy="1657.5" r="6.2" fill="url(#phead)"/>
<circle cx="1483.5" cy="1657.5" r="6.2" fill="url(#phead)"/>
<g transform="translate(1057,1347.5)"><path d="M75.3,251.3 C78,244 92,242 96,249 L102.4,249 C106,242 120,243 123.5,252.5 C127,268 140,295 151.8,314.9 C158,326 162,338 159,346 C155,354 143,355 136.5,350.1 C133,353 126,351 125.9,345.5 C126,338 126,332 123.5,328 C117,318 108,316 100,317.2 C92,317 83,320 77,328 C73,333 74,340 74,345.5 C73.5,351 67,353 63.5,350.1 C57,355 45,354 41,346 C37,338 41,326 47,314.9 C58,295 71,268 75.3,251.3 Z" fill="url(#porM)" stroke="#2a2a2a" stroke-width="1.1"/><path d="M75.3,251.3 C78,244 92,242 95.9,251.3 C92,268 89,282 84.7,294.9 C78,308 70,316 64.7,324.3 C62,332 62,342 63.5,350.1 C57,355 45,354 41,346 C37,338 41,326 47,314.9 C58,295 71,268 75.3,251.3 Z" fill="url(#porL)" stroke="#2a2a2a" stroke-width="1.1"/><path d="M102.4,251.3 C106,243 120,243 123.5,252.5 C127,268 140,295 151.8,314.9 C158,326 162,338 159,346 C155,354 143,355 136.5,350.1 C138,342 138,332 134,324.3 C128,316 120,308 113,294.9 C109,282 106,268 102.4,251.3 Z" fill="url(#porL)" stroke="#2a2a2a" stroke-width="1.1"/><text x="80" y="353.5" font-family="Liberation Sans, sans-serif" font-size="20" font-weight="bold" fill="#fff">ATP</text><polygon points="84.7,240.9 57.8,189.3 66.5,193.4 49.9,180.0 51.4,201.3 53.0,191.8 79.9,243.5" fill="#f7cc48" stroke="#2a2a2a" stroke-width="1" stroke-linejoin="miter"/><polygon points="148.8,178.9 125.3,231.5 123.2,222.2 123.0,243.5 138.7,229.1 130.4,233.8 153.8,181.1" fill="#f7cc48" stroke="#2a2a2a" stroke-width="1" stroke-linejoin="miter"/><circle cx="37.7" cy="158.4" r="10.3" fill="url(#pb_y)" stroke="#1a1a1a" stroke-width="1.3"/><circle cx="62.0" cy="166.5" r="10.3" fill="url(#pb_y)" stroke="#1a1a1a" stroke-width="1.3"/><circle cx="32.3" cy="184.1" r="10.3" fill="url(#pb_y)" stroke="#1a1a1a" stroke-width="1.3"/><circle cx="135.0" cy="167.8" r="10.8" fill="url(#pb_p)" stroke="#1a1a1a" stroke-width="1.3"/><circle cx="163.5" cy="162.5" r="10.8" fill="url(#pb_p)" stroke="#1a1a1a" stroke-width="1.3"/><polygon points="48.5,387.7 56.2,358.7 59.8,367.6 56.6,346.5 43.3,363.2 50.9,357.3 43.1,386.3" fill="#f7cc48" stroke="#2a2a2a" stroke-width="1" stroke-linejoin="miter"/><polygon points="135.1,349.6 140.9,378.6 133.8,372.2 146.0,389.7 150.5,368.9 146.3,377.5 140.5,348.6" fill="#f7cc48" stroke="#2a2a2a" stroke-width="1" stroke-linejoin="miter"/><circle cx="30.4" cy="393.8" r="10.3" fill="url(#pb_y)" stroke="#1a1a1a" stroke-width="1.3"/><circle cx="52.0" cy="405.9" r="10.3" fill="url(#pb_y)" stroke="#1a1a1a" stroke-width="1.3"/><circle cx="36.9" cy="424.9" r="10.3" fill="url(#pb_y)" stroke="#1a1a1a" stroke-width="1.3"/><circle cx="165.7" cy="396.5" r="10.8" fill="url(#pb_p)" stroke="#1a1a1a" stroke-width="1.3"/><circle cx="141.9" cy="414.0" r="10.8" fill="url(#pb_p)" stroke="#1a1a1a" stroke-width="1.3"/><text x="28.8" y="48.8" font-family="Liberation Sans, sans-serif" font-size="21.5" fill="#111" stroke="#111" stroke-width="0.95">Primary active</text><text x="52.6" y="138.9" font-family="Liberation Sans, sans-serif" font-size="20" fill="#111">3Na<tspan dx="1.5" dy="-5" font-size="19">+</tspan></text><text x="150" y="138.9" font-family="Liberation Sans, sans-serif" font-size="20" fill="#111">2K<tspan dx="1.5" dy="-5" font-size="19">+</tspan></text></g>
</g>
<g transform="translate(174,1347.5)">
<polygon points="271.8,183.6 290.8,237.2 282.9,231.9 297.4,247.5 298.9,226.2 296.0,235.4 277.0,181.8" fill="#f7cc48" stroke="#2a2a2a" stroke-width="1" stroke-linejoin="miter"/>
<polygon points="347.6,181.9 330.9,234.1 327.7,225.1 329.9,246.3 343.9,230.3 336.1,235.8 352.8,183.5" fill="#f7cc48" stroke="#2a2a2a" stroke-width="1" stroke-linejoin="miter"/>
<circle cx="263.6" cy="161.1" r="10.2" fill="url(#pb_y)" stroke="#1a1a1a" stroke-width="1.3"/>
<circle cx="289.3" cy="164.3" r="10.2" fill="url(#pb_y)" stroke="#1a1a1a" stroke-width="1.3"/>
<circle cx="255.0" cy="185.5" r="10.2" fill="url(#pb_y)" stroke="#1a1a1a" stroke-width="1.3"/>
<circle cx="356.2" cy="165.1" r="10.4" fill="url(#pb_t)" stroke="#1a1a1a" stroke-width="1.3"/>
<circle cx="306.9" cy="279.3" r="9.6" fill="url(#pb_y)" stroke="#1a1a1a" stroke-width="1.3"/>
<circle cx="320.4" cy="270.7" r="10.2" fill="url(#pb_t)" stroke="#1a1a1a" stroke-width="1.3"/>
<polygon points="294.8,349.7 287.4,373.8 284.2,364.8 286.6,386.0 300.4,369.8 292.7,375.4 300.0,351.3" fill="#f7cc48" stroke="#2a2a2a" stroke-width="1" stroke-linejoin="miter"/>
<polygon points="324.6,351.4 332.9,375.6 325.0,370.3 339.4,386.0 341.1,364.7 338.1,373.9 329.8,349.6" fill="#f7cc48" stroke="#2a2a2a" stroke-width="1" stroke-linejoin="miter"/>
<circle cx="279.9" cy="403.2" r="10.2" fill="url(#pb_y)" stroke="#1a1a1a" stroke-width="1.3"/>
<circle cx="344.8" cy="403.2" r="10.4" fill="url(#pb_t)" stroke="#1a1a1a" stroke-width="1.3"/>
<text x="227" y="48.8" font-family="Liberation Sans, sans-serif" font-size="21.5" fill="#111" stroke="#111" stroke-width="0.95">Secondary active</text>
<text x="254" y="73.1" font-family="Liberation Sans, sans-serif" font-size="21.5" fill="#111" stroke="#111" stroke-width="0.95">(symporter)</text>
<text x="275.8" y="138.9" font-family="Liberation Sans, sans-serif" font-size="20" fill="#111">Na<tspan dx="1.5" dy="-5" font-size="19">+</tspan></text>
<text x="351.5" y="138.9" font-family="Liberation Sans, sans-serif" font-size="20" fill="#111">X</text>
</g>
<g transform="translate(617,1347.5)">
<polygon points="273.8,183.9 291.3,237.5 283.5,232.0 297.6,248.0 299.6,226.8 296.5,235.8 279.0,182.1" fill="#f7cc48" stroke="#2a2a2a" stroke-width="1" stroke-linejoin="miter"/>
<polygon points="332.6,248.8 349.0,193.7 352.4,202.7 349.8,181.5 336.1,197.8 343.8,192.1 327.4,247.2" fill="#f7cc48" stroke="#2a2a2a" stroke-width="1" stroke-linejoin="miter"/>
<circle cx="262.3" cy="163.2" r="10.2" fill="url(#pb_y)" stroke="#1a1a1a" stroke-width="1.3"/>
<circle cx="287.7" cy="166.0" r="10.2" fill="url(#pb_y)" stroke="#1a1a1a" stroke-width="1.3"/>
<circle cx="258.0" cy="190.0" r="10.2" fill="url(#pb_y)" stroke="#1a1a1a" stroke-width="1.3"/>
<circle cx="356.9" cy="164.5" r="10.4" fill="url(#pb_r)" stroke="#1a1a1a" stroke-width="1.3"/>
<circle cx="307.5" cy="277.5" r="9.6" fill="url(#pb_y)" stroke="#1a1a1a" stroke-width="1.3"/>
<circle cx="321.6" cy="269.1" r="10.2" fill="url(#pb_r)" stroke="#1a1a1a" stroke-width="1.3"/>
<polygon points="296.4,348.7 288.6,374.1 285.3,365.1 287.7,386.3 301.6,370.1 293.8,375.7 301.6,350.3" fill="#f7cc48" stroke="#2a2a2a" stroke-width="1" stroke-linejoin="miter"/>
<polygon points="341.1,382.7 333.3,357.1 341.0,362.7 327.2,346.5 324.8,367.7 328.0,358.7 335.9,384.3" fill="#f7cc48" stroke="#2a2a2a" stroke-width="1" stroke-linejoin="miter"/>
<circle cx="280.6" cy="403.2" r="10.2" fill="url(#pb_y)" stroke="#1a1a1a" stroke-width="1.3"/>
<circle cx="344.2" cy="403.2" r="10.4" fill="url(#pb_r)" stroke="#1a1a1a" stroke-width="1.3"/>
<text x="229.8" y="48.8" font-family="Liberation Sans, sans-serif" font-size="21.5" fill="#111" stroke="#111" stroke-width="0.95">Secondary active</text>
<text x="258" y="73.1" font-family="Liberation Sans, sans-serif" font-size="21.5" fill="#111" stroke="#111" stroke-width="0.95">(antiporter)</text>
<text x="276.4" y="138.9" font-family="Liberation Sans, sans-serif" font-size="20" fill="#111">Na<tspan dx="1.5" dy="-5" font-size="19">+</tspan></text>
<text x="349.8" y="138.9" font-family="Liberation Sans, sans-serif" font-size="20" fill="#111">Y</text>
</g>
<g>
<path d="M1322.4,1586 C1328,1570 1350,1564.5 1367,1564.5 C1385,1564.5 1406,1570 1411.8,1586 L1384.5,1680 C1378,1675 1372,1674.5 1367,1675 C1361,1675 1356,1677 1351,1680 Z" fill="#d62c3c" stroke="#3a1a1a" stroke-width="1"/>
<path d="M1335,1577 C1345,1569 1358,1567 1367,1567 C1378,1567 1392,1569 1400,1577 L1389.4,1580.6 C1382,1600 1379.5,1610 1379.5,1620.3 L1355.9,1620.3 C1355,1605 1350,1595 1347.2,1584.3 Z" fill="#e23a4a"/>
<path d="M1322.4,1586.8 C1323,1578 1330,1576.5 1335,1577 C1342,1578 1346,1582 1347.2,1584.3 C1350,1595 1355,1605 1355.9,1620.3 C1355.9,1628 1354,1632 1352.2,1639 L1351,1680 C1350,1686 1346,1687 1340,1687 C1334,1687 1331,1685 1330.5,1680 L1330.5,1601.7 C1326,1598 1322.4,1593 1322.4,1586.8 Z" fill="url(#predW)" stroke="#3a1a1a" stroke-width="1"/>
<path d="M1411.8,1586.8 C1411,1578 1404,1576.5 1400,1577 C1394,1578 1390,1580 1389.4,1580.6 C1382,1600 1379.5,1610 1379.5,1620.3 C1381,1630 1383.2,1635 1383.2,1639 L1384.5,1680 C1385,1686 1390,1687 1396,1687 C1402,1687 1405,1685 1405.6,1680 L1405.6,1601.7 C1409,1598 1411.8,1593 1411.8,1586.8 Z" fill="url(#predW)" stroke="#3a1a1a" stroke-width="1"/>
<path d="M1349.7,1527.2 C1360,1540 1366,1556 1367,1580 L1367,1676 C1368,1700 1372,1716 1384,1726" fill="none" stroke="#2a2a2a" stroke-width="6"/>
<path d="M1349.7,1527.2 C1360,1540 1366,1556 1367,1580 L1367,1676 C1368,1700 1372,1716 1384,1726" fill="none" stroke="#f7cc48" stroke-width="4"/>
<polygon points="1394.4,1732 1373,1731 1379,1726 1381,1711" fill="#f7cc48" stroke="#2a2a2a" stroke-width="1"/>
<circle cx="1333.0" cy="1504.3" r="10.4" fill="url(#pb_y)" stroke="#1a1a1a" stroke-width="1.3"/>
<circle cx="1362.7" cy="1511.7" r="10.4" fill="url(#pb_y)" stroke="#1a1a1a" stroke-width="1.3"/>
<circle cx="1327.4" cy="1536.0" r="10.4" fill="url(#pb_y)" stroke="#1a1a1a" stroke-width="1.3"/>
<circle cx="1411.8" cy="1743.2" r="10.4" fill="url(#pb_y)" stroke="#1a1a1a" stroke-width="1.3"/>
<text x="1341.9" y="1396.3" font-family="Liberation Sans, sans-serif" font-size="21.5" fill="#111" stroke="#111" stroke-width="0.95">Passive</text>
<text x="1330.6" y="1420.6" font-family="Liberation Sans, sans-serif" font-size="21.5" fill="#111" stroke="#111" stroke-width="0.95">(channel)</text>
<text x="1368.7" y="1486.4" font-family="Liberation Sans, sans-serif" font-size="20" fill="#111">Na<tspan dx="1.5" dy="-5" font-size="19">+</tspan></text>
</g>
<text x="146" y="1825.5" font-family="Liberation Serif, serif" font-size="27" font-weight="bold" fill="#111">A</text>
<text x="592.5" y="1825.5" font-family="Liberation Serif, serif" font-size="27" font-weight="bold" fill="#111">B</text>
<text x="1027" y="1825.5" font-family="Liberation Serif, serif" font-size="27" font-weight="bold" fill="#111">C</text>
<text x="1371.5" y="1849.5" font-family="Liberation Sans, sans-serif" font-size="21" font-weight="bold" fill="#6d6e71">J. Perkins</text>
<text x="1388.5" y="1870.7" font-family="Liberation Sans, sans-serif" font-size="15.5" font-weight="bold" fill="#6d6e71">MS, MFA</text>
</svg>
<!--END fig24-->
<!--BEGIN misc-->
<svg class="a" style="left:80px;top:180px" width="90" height="80" viewBox="80 180 90 80">
<defs><radialGradient id="glow" cx="0.5" cy="0.5" r="0.5"><stop offset="0.35" stop-color="#f4f27a" stop-opacity="1"/><stop offset="1" stop-color="#f4f27a" stop-opacity="0"/></radialGradient></defs>
<filter id="fblur" x="-20%" y="-20%" width="140%" height="140%"><feGaussianBlur stdDeviation="0.9"/></filter>
<circle cx="123.4" cy="222" r="24" fill="url(#glow)" opacity="0.7"/>
<path d="M135.4,222.0 L165.4,222.0 M135.2,224.1 L147.0,226.2 M134.7,226.1 L149.7,231.6 M133.8,228.0 L152.0,238.5 M132.6,229.7 L144.8,240.0 M114.2,229.7 L102.0,240.0 M113.0,228.0 L94.8,238.5 M112.1,226.1 L97.1,231.6 M111.6,224.1 L99.8,226.2 M111.4,222.0 L81.4,222.0 M111.6,219.9 L99.8,217.8 M112.1,217.9 L97.1,212.4 M113.0,216.0 L94.8,205.5 M114.2,214.3 L102.0,204.0 M115.7,212.8 L108.0,203.6 M117.4,211.6 L106.9,193.4 M119.3,210.7 L115.2,199.4 M121.3,210.2 L118.5,194.4 M123.4,210.0 L123.4,180.0 M125.5,210.2 L128.3,194.4 M127.5,210.7 L131.6,199.4 M129.4,211.6 L139.9,193.4 M131.1,212.8 L138.8,203.6 M132.6,214.3 L144.8,204.0 M133.8,216.0 L152.0,205.5 M134.7,217.9 L149.7,212.4 M135.2,219.9 L147.0,217.8" stroke="#eef07a" stroke-width="2.8" stroke-linecap="round" filter="url(#fblur)"/>
<path d="M116.5,249.3 L116.5,240 C111,235 106.5,229 106.5,222 C106.5,212 114,205.5 123.4,205.5 C133,205.5 140.3,212 140.3,222 C140.3,229 136,235 130.8,240 L130.8,249.3 Z" fill="#fff" stroke="#1a1a1a" stroke-width="2"/>
<path d="M116.5,249.3 L116.5,240 C111,235 106.5,229 106.5,222 C106.5,212 114,205.5 123.4,205.5" fill="none" stroke="#1a1a1a" stroke-width="4"/>
<rect x="110.5" y="249.3" width="25.3" height="5.3" fill="#3a86b8" stroke="#183a58" stroke-width="1.2"/>
</svg>
<svg class="a" style="left:1410px;top:20px" width="250" height="175" viewBox="1410 20 250 175">
<path d="M1489.1,58.4 C1500,52 1512,42 1517.5,28.8 C1523,42 1535,52 1546,58.4" fill="none" stroke="#111" stroke-linecap="round" stroke-width="3"/>
<path d="M1489.1,58.4 C1505,62 1515,75 1515,90 C1515,105 1502,113 1489,113 C1472,112 1455,100 1433.5,99.8" fill="none" stroke="#111" stroke-linecap="round" stroke-width="4.5"/>
<path d="M1546,58.4 C1530,63 1522,75 1521.5,90 C1521,103 1532,111 1548,111 C1568,110 1585,101 1602.8,101" fill="none" stroke="#111" stroke-linecap="round" stroke-width="4.5"/>
<circle cx="1494" cy="92.4" r="12.5" fill="none" stroke="#111" stroke-linecap="round" stroke-width="4"/>
<path d="M1423.6,75 C1430,84 1440,87 1452,84 C1468,79 1485,72 1497,73 C1500,74 1502,75 1503,77" fill="none" stroke="#111" stroke-linecap="round" stroke-width="3.8"/>
<path d="M1548.4,71.4 C1538,72 1531,80 1531,90 C1531,99 1537,104 1545,104 C1552,104 1557,99 1557,90" fill="none" stroke="#111" stroke-linecap="round" stroke-width="3.8"/>
<path d="M1548.4,71.4 C1565,70 1580,80 1594,83.8 C1602,85 1608,80 1611.4,75.1 C1609,85 1606,95 1602.8,101" fill="none" stroke="#111" stroke-linecap="round" stroke-width="3.5"/>
<circle cx="1479.9" cy="59" r="6.2" fill="#111"/>
<circle cx="1591.6" cy="110.3" r="6.5" fill="#111"/>
<text x="1425" y="145" font-family="Liberation Sans, sans-serif" font-size="21.7" fill="#333" letter-spacing="-0.3">www.JafariPub.com</text>
<path d="M1592,178.5 L1648,178.5 M1648,175.5 a3,3 0 1,0 0.01,0 M1636,178.5 C1637,182.5 1633,183.5 1631,181.5 M1630,175.5 a3,3 0 1,0 0.01,0 M1624,178.5 C1625,182.5 1622,183.5 1620,181.5 M1618,178.5 L1618,173.0 M1613,178.5 L1613,173.0 M1608,178.5 L1608,173.0 M1600,178.5 L1606,178.5 L1598,165.5 M1601,163.5 L1607,166.5 M1596,178.5 L1596,166.5 M1596,175.5 a3,3 0 1,0 0.01,0 M1552,178.5 L1589,178.5 M1587,178.5 L1587,173.0 M1582,178.5 C1578,172.5 1574,172.5 1572,178.5 M1570,175.5 a3,3 0 1,0 0.01,0 M1564,175.5 a3,3 0 1,0 0.01,0 M1556,178.5 C1553,183.5 1549,182.5 1551,176.5 M1523,178.5 L1548,178.5 M1546,178.5 L1546,173.0 M1541,178.5 C1542,182.5 1539,183.5 1537,181.5 M1536,178.5 L1536,173.0 M1532,178.5 L1532,173.0 M1528,178.5 L1528,173.0 M1522,178.5 L1528,178.5 L1520,165.5 M1523,163.5 L1529,166.5 M1479,178.5 L1519,178.5 M1518,178.5 C1514,173.5 1510,173.5 1508,177.5 C1506,182.5 1512,184.5 1516,182.5 M1504,178.5 C1501,172.5 1497,173.5 1499,176.5 M1495,175.5 a3,3 0 1,0 0.01,0 M1486,178.5 C1487,182.5 1484,183.5 1482,181.5 M1482,178.5 C1478,183.5 1474,182.5 1476,176.5 M1390,178.5 L1472,178.5 M1470,178.5 L1470,173.0 M1465,175.5 a3,3 0 1,0 0.01,0 M1459,178.5 C1460,182.5 1457,183.5 1455,181.5 M1452,178.5 L1452,173.0 M1446,178.5 L1446,173.0 M1440,178.5 C1436,184.5 1426,184.5 1424,176.5 M1418,178.5 L1418,173.0 M1412,178.5 L1412,173.0 M1406,178.5 L1406,173.0 M1402,178.5 C1398,184.5 1392,184.5 1389,176.5" fill="none" stroke="#1a1a1a" stroke-width="2.1" stroke-linecap="round"/>
<circle cx="1645.0" cy="170.5" r="1.1" fill="#1a1a1a"/><circle cx="1611.2" cy="170.5" r="1.1" fill="#1a1a1a"/><circle cx="1613.0" cy="170.5" r="1.1" fill="#1a1a1a"/><circle cx="1614.8" cy="170.5" r="1.1" fill="#1a1a1a"/><circle cx="1586.1" cy="170.5" r="1.1" fill="#1a1a1a"/><circle cx="1587.9" cy="170.5" r="1.1" fill="#1a1a1a"/><circle cx="1577.0" cy="170.5" r="1.1" fill="#1a1a1a"/><circle cx="1554.1" cy="183.5" r="1.1" fill="#1a1a1a"/><circle cx="1555.9" cy="183.5" r="1.1" fill="#1a1a1a"/><circle cx="1544.2" cy="183.5" r="1.1" fill="#1a1a1a"/><circle cx="1546.0" cy="183.5" r="1.1" fill="#1a1a1a"/><circle cx="1547.8" cy="183.5" r="1.1" fill="#1a1a1a"/><circle cx="1541.0" cy="170.5" r="1.1" fill="#1a1a1a"/><circle cx="1530.2" cy="170.5" r="1.1" fill="#1a1a1a"/><circle cx="1532.0" cy="170.5" r="1.1" fill="#1a1a1a"/><circle cx="1533.8" cy="170.5" r="1.1" fill="#1a1a1a"/><circle cx="1512.0" cy="183.5" r="1.1" fill="#1a1a1a"/><circle cx="1492.0" cy="170.5" r="1.1" fill="#1a1a1a"/><circle cx="1470.0" cy="170.5" r="1.1" fill="#1a1a1a"/><circle cx="1451.1" cy="183.5" r="1.1" fill="#1a1a1a"/><circle cx="1452.9" cy="183.5" r="1.1" fill="#1a1a1a"/><circle cx="1446.0" cy="170.5" r="1.1" fill="#1a1a1a"/><circle cx="1432.0" cy="170.5" r="1.1" fill="#1a1a1a"/><circle cx="1408.2" cy="170.5" r="1.1" fill="#1a1a1a"/><circle cx="1410.0" cy="170.5" r="1.1" fill="#1a1a1a"/><circle cx="1411.8" cy="170.5" r="1.1" fill="#1a1a1a"/>
</svg>
<!--END misc-->
</body></html>
